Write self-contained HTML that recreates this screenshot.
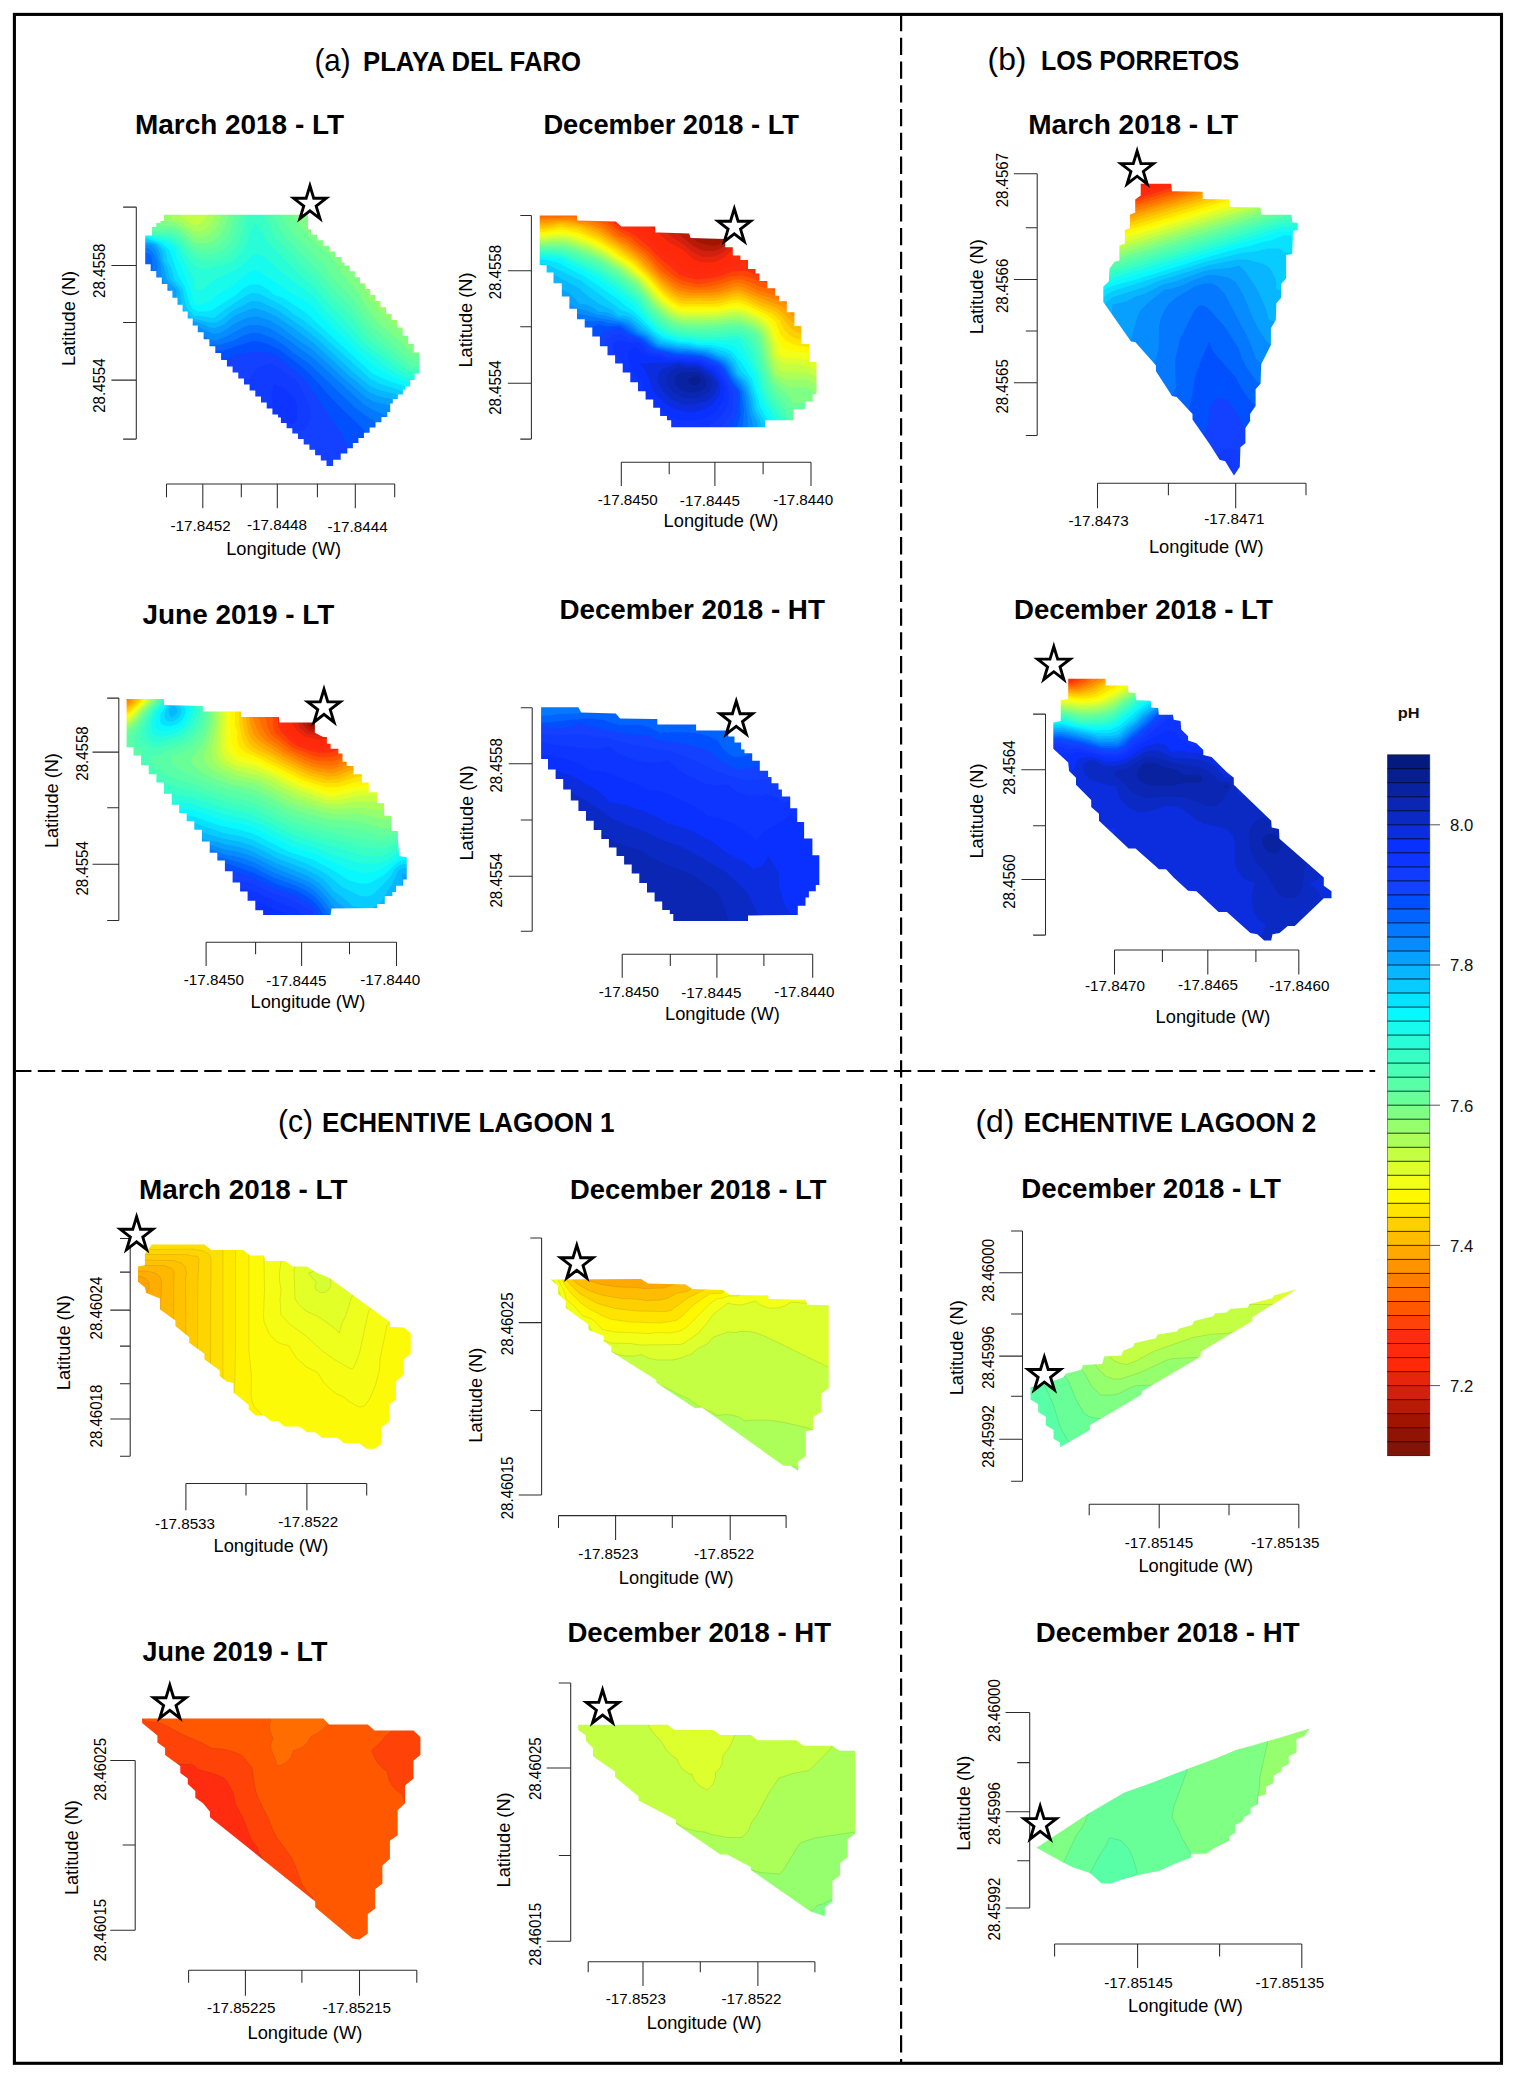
<!DOCTYPE html>
<html><head><meta charset="utf-8"><title>pH maps</title>
<style>html,body{margin:0;padding:0;background:#fff}svg{display:block}text{font-family:'Liberation Sans', Arial, Helvetica, sans-serif}</style>
</head><body>
<svg width="1517" height="2080" viewBox="0 0 1517 2080">
<defs>
<clipPath id="cA1"><path d="M167.4 214.8L308 214.8L308 229.2L311 229.2L311 234.8L317.1 234.8L317.1 240.3L323.2 240.3L323.2 245.8L329.3 245.8L329.3 251.4L335.4 251.4L335.4 256.9L341.5 256.9L341.5 262.4L344.5 262.4L344.5 265.4L349.7 265.4L349.7 271.3L354.8 271.3L354.8 277.3L360 277.3L360 283.2L365.1 283.2L365.1 289.1L370.3 289.1L370.3 295.1L375.4 295.1L375.4 301L380.5 301L380.5 304L380.5 307.2L386.1 307.2L386.1 313.7L391.6 313.7L391.6 320.1L397.2 320.1L397.2 323.3L397.2 327.5L402.7 327.5L402.7 335.8L408.2 335.8L408.2 344.1L413.8 344.1L413.8 352.4L419.3 352.4L419.3 356.6L419.3 370.4L419.3 373.6L414.7 373.6L414.7 380.1L410.1 380.1L410.1 386.6L405.5 386.6L405.5 389.8L402.9 389.8L402.9 394.4L397.8 394.4L397.8 399L392.8 399L392.8 403.6L390.2 403.6L390.2 411.9L387.3 411.9L387.3 417.1L381.4 417.1L381.4 422.3L375.5 422.3L375.5 427.5L369.6 427.5L369.6 432.7L366.7 432.7L363.9 432.7L363.9 437.9L358.4 437.9L358.4 443.1L352.9 443.1L352.9 448.3L347.3 448.3L347.3 453.5L344.5 453.5L340.7 453.5L340.7 459.7L333.1 459.7L333.1 465.9L329.3 465.9L326.5 465.9L326.5 460.5L320.8 460.5L320.8 455.2L315.1 455.2L315.1 449.8L309.4 449.8L309.4 444.4L303.7 444.4L303.7 439L298 439L298 433.6L292.3 433.6L292.3 428.2L286.6 428.2L286.6 422.9L280.9 422.9L280.9 417.5L278.1 417.5L278.1 414.5L272.4 414.5L272.4 408.5L266.7 408.5L266.7 402.5L261 402.5L261 396.5L255.3 396.5L255.3 390.5L249.6 390.5L249.6 384.5L244 384.5L244 378.5L238.3 378.5L238.3 372.5L232.6 372.5L232.6 366.5L226.9 366.5L226.9 363.5L226.9 360L221.1 360L221.1 353.1L215.3 353.1L215.3 346.2L209.4 346.2L209.4 339.3L203.6 339.3L203.6 332.3L197.8 332.3L197.8 328.9L197.8 325.4L192.7 325.4L192.7 318.5L187.7 318.5L187.7 311.6L182.6 311.6L182.6 304.7L177.5 304.7L177.5 297.7L172.4 297.7L172.4 290.8L167.4 290.8L167.4 287.4L167.4 284.1L161.8 284.1L161.8 277.5L156.3 277.5L156.3 270.9L150.7 270.9L150.7 264.3L145.2 264.3L145.2 261.1L145.2 241.7L145.2 235.4L152.1 235.4L152.1 229.2L152.1 227.1L156.3 227.1L156.3 223L160.4 223L160.4 220.9L163.9 220.9L163.9 214.8Z"/></clipPath>
<clipPath id="cA2"><path d="M539.7 215.4L577 215.4L577 220.4L615.8 221.5L621.3 226.4L651.8 226.4L655.3 226.4L655.3 232.5L658.7 232.5L689.2 233.4L690.6 238.1L725.2 238.9L725.2 247.2L732.8 247.2L732.8 255.5L740.4 255.5L740.4 260L748 260L748 269L755.6 269L755.6 273.5L759.5 273.5L759.5 280.9L767.4 280.9L767.4 288.3L775.2 288.3L775.2 295.7L779.2 295.7L779.2 301.2L786.8 301.2L786.8 312.3L794.4 312.3L794.4 317.8L794.4 326.1L801.3 326.1L801.3 334.4L801.3 344.1L809.6 344.1L809.6 353.8L809.6 362.1L816.5 362.1L816.5 370.4L816.5 393.9L812.7 393.9L812.7 401.6L805.1 401.6L805.1 409.2L801.3 409.2L793.7 409.2L793.7 420.3L786.1 420.3L765.3 420.3L765.3 427.2L744.5 427.2L675.3 427.2L671.2 427.2L671.2 420.3L667 420.3L667 416.1L660.1 416.1L660.1 407.8L653.2 407.8L653.2 403.6L653.2 399.5L645.6 399.5L645.6 391.2L638 391.2L638 387L638 382.2L630.3 382.2L630.3 372.5L622.7 372.5L622.7 367.6L622.7 363.5L615.1 363.5L615.1 355.2L607.5 355.2L607.5 351L607.5 346.2L599.9 346.2L599.9 336.5L592.3 336.5L592.3 331.7L592.3 327.5L584.7 327.5L584.7 319.2L577 319.2L577 315L577 308.8L569.4 308.8L569.4 296.4L561.8 296.4L561.8 290.1L561.8 283.2L553.5 283.2L553.5 276.3L553.5 272.5L546.6 272.5L546.6 264.9L539.7 264.9L539.7 261.1Z"/></clipPath>
<clipPath id="cA3"><path d="M126.6 699L164 699L164 705.1L202.7 705.9L203.3 711.4L240.9 711.4L241.5 717L278.9 717L279.4 722.5L314.9 722.5L314.9 732.7L323.2 736.9L326.9 736.9L326.9 743.8L330.6 743.8L330.6 748.7L338.4 748.7L338.4 753.5L342.5 753.5L342.5 761.8L346.7 761.8L346.7 766L353.6 766L353.6 770.1L353.6 774.3L361.9 774.3L361.9 778.4L361.9 782.6L368.8 782.6L368.8 786.7L368.8 792.3L377.2 792.3L377.2 797.8L377.2 803.3L384.1 803.3L384.1 808.9L384.1 815.8L391 815.8L391 822.7L391 831L397.9 831L397.9 839.3L399.3 856L406.8 857.3L406.8 879.5L403.2 879.5L403.2 885.7L396 885.7L396 891.9L392.4 891.9L392.4 896L384.8 896L384.8 904L377.2 904L377.2 908L331.5 908.6L330.6 914.9L263.1 914.9L263.1 910.2L255.3 910.2L255.3 900.8L247.6 900.8L247.6 896.1L247.6 891.6L240.1 891.6L240.1 882.6L232.6 882.6L232.6 878.1L232.6 871.2L224.9 871.2L224.9 864.3L224.9 860.5L217.3 860.5L217.3 852.8L209.7 852.8L209.7 849L209.7 841.4L201.9 841.4L201.9 833.8L201.9 829.7L194.3 829.7L194.3 821.3L186.7 821.3L186.7 817.2L186.7 813L179.2 813L179.2 804.7L171.7 804.7L171.7 800.6L171.7 793.7L164 793.7L164 786.7L164 782.6L156.4 782.6L156.4 774.3L148.7 774.3L148.7 770.1L148.7 765.3L141.1 765.3L141.1 755.6L133.5 755.6L133.5 750.7L133.5 747.3L126.6 747.3L126.6 743.8Z"/></clipPath>
<clipPath id="cA4"><path d="M541.1 707.3L578.4 707.3L581.2 712.5L615.8 713.4L620 718.4L653.2 718.9L657.3 718.9L657.3 724.4L661.5 724.4L691.9 724.4L696.1 724.4L696.1 730.5L700.3 730.5L725.2 730.5L728.3 730.5L728.3 736.5L734.5 736.5L734.5 742.4L737.6 742.4L741.1 742.4L741.1 749.4L744.5 749.4L744.5 753.2L752.2 753.2L752.2 760.8L759.8 760.8L759.8 764.6L759.8 770.8L768.1 770.8L768.1 777L771.5 777L771.5 783.3L778.5 783.3L778.5 789.5L781.9 789.5L781.9 796.4L790.2 796.4L790.2 803.3L790.2 808.2L797.2 808.2L797.2 813L797.2 822L804.1 822L804.1 831L804.1 838.6L812.4 838.6L812.4 846.3L812.4 855.3L819.3 855.3L819.3 864.3L819.3 885L815.8 885L815.8 891.3L808.9 891.3L808.9 897.5L805.5 897.5L805.5 905.8L797.8 905.8L797.8 914.9L790.2 914.9L751.5 915.5L748 915.5L748 921L744.5 921L676.7 921L673.3 921L673.3 914.1L669.8 914.1L669.8 909.9L662.2 909.9L662.2 901.6L654.6 901.6L654.6 897.5L654.6 892.6L647 892.6L647 882.9L639.3 882.9L639.3 878.1L639.3 873.6L631.7 873.6L631.7 864.6L624.1 864.6L624.1 860.1L624.1 856L616.5 856L616.5 847.6L608.9 847.6L608.9 843.5L608.9 839L601.3 839L601.3 830L593.7 830L593.7 825.5L593.7 820.7L586 820.7L586 811L578.4 811L578.4 806.1L578.4 800.6L570.8 800.6L570.8 789.5L563.2 789.5L563.2 784L563.2 779.1L555.6 779.1L555.6 769.4L548 769.4L548 764.6L548 759.1L541.1 759.1L541.1 753.5Z"/></clipPath>
<clipPath id="cB1"><path d="M1140.7 183.7L1171.2 183.7L1172 191.2L1202.5 191.8L1203 199L1229.3 199.5L1229.9 207L1260.6 207.6L1261.2 214.8L1291.6 214.8L1292.2 222.2L1297.7 223.1L1297.7 230L1293 230.8L1292.2 254.1L1286.1 254.9L1286.1 278.4L1281.1 284L1281.1 297.8L1276.4 303.3L1275.8 320L1270.9 328.3L1270.9 344.9L1261.2 364.3L1260.6 383.6L1255.6 389.2L1255.6 405.8L1250.1 414.1L1250.1 421L1245.4 427.9L1245.4 443.2L1240.4 447.3L1239.8 466.7L1234 475.6L1229.3 468.1L1225.2 461.2L1219.6 459.8L1209.9 444.5L1192.5 419.6L1192.5 414.1L1176.7 396.9L1172 396.1L1156 371.2L1156 365.6L1135.2 342.1L1131 341.6L1103.3 302L1103.3 286.7L1108.9 281.2L1109.4 268.7L1114.4 261.8L1119.4 260.4L1119.4 245.2L1124.9 243.8L1124.9 230L1129.9 228.6L1129.9 214.8L1135.2 212.5L1135.2 199.5L1140.7 195.4Z"/></clipPath>
<clipPath id="cB2"><path d="M1068.2 678.7L1105.6 678.7L1105.6 685.6L1127.7 685.6L1128.6 692.5L1135.5 693.1L1136.1 700.3L1150.7 700.8L1151.3 707.5L1158.2 708L1158.8 714.7L1172.9 714.7L1173.7 719.7L1180.6 721.1L1181.2 729.4L1188.1 736.3L1188.1 740.4L1196.4 743.2L1203.3 750.1L1203.3 755.1L1211.6 757L1226.9 772.3L1233.8 777.8L1233.8 784.7L1271.2 820.7L1271.7 827.6L1278.9 829L1279.5 838.7L1323.8 877.5L1323.8 885.8L1331.5 891.3L1331.5 898.2L1323.8 898.2L1294.7 925.9L1287.8 925.9L1279.5 932.9L1272.5 934.2L1271.2 940.6L1264.2 940.6L1257.3 934.2L1250.4 932.9L1226.9 912.1L1218.6 912.1L1196.4 891.3L1188.1 890.8L1173.7 877.5L1166 869.2L1159 869.2L1135.5 848.4L1128.6 848.4L1099 820.7L1099 813.8L1091.2 806.9L1091.2 800L1076 784.7L1076 777.8L1069.1 770.9L1068.2 762.6L1053.3 748.7L1053.3 722.4L1060.7 721.1L1060.7 700.3L1068.2 698.9Z"/></clipPath>
<clipPath id="cC1"><path d="M151.8 1244.4L204.4 1244.4L211.3 1250L243.2 1250L250.1 1255.5L263.9 1255.5L265.3 1261.1L284.7 1261.1L293 1266.6L306.9 1266.6L315.2 1272.1L329 1277.7L389.9 1322L389.9 1326.9L403.8 1327.5L410.7 1333L410.7 1353.8L403.8 1359.3L403.8 1374.6L396 1381.5L396 1399.5L389.1 1405L389.1 1421.6L381.6 1427.2L381.6 1443.8L374.7 1448.8L366.4 1448.8L359.5 1443.2L344.2 1443.2L337.3 1437.7L322.1 1437.7L315.2 1432.2L306.9 1432.2L299.9 1426.6L284.7 1426.6L277.8 1421.1L270.9 1421.1L263.9 1415.5L255.6 1415.5L248.7 1409.2L248.7 1405L233.5 1392.6L233.5 1382.9L226.6 1381.5L219.7 1376L219.7 1370.4L204.4 1359.3L204.4 1353.8L189.2 1342.7L189.2 1337.2L175.4 1326.1L175.4 1320.6L160.1 1309.5L160.1 1298.4L146.3 1292.9L144.9 1287.4L138 1281.8L138 1266.6L144.9 1265.2L144.9 1254.1Z"/></clipPath>
<clipPath id="cC2"><path d="M550.5 1279.5L641 1278.9L648 1283.6L685.3 1284.4L692.3 1289.1L722.7 1290L729.6 1294.7L768.4 1295.5L768.4 1299.1L805.8 1299.7L807.2 1304.7L828.7 1305.2L828.7 1388.3L821 1393.8L821 1411.8L813.2 1417.3L813.2 1429.8L805.8 1431.2L805.8 1456.1L798.3 1461.6L798.3 1470.8L790.5 1465.8L783.6 1465.8L701.9 1407.6L695 1408.2L656.3 1382.7L656.3 1380L611.4 1351.7L611.4 1346.7L603.7 1341.2L603.7 1335.7L588.4 1330.1L588.4 1324.6L565.7 1308L565.7 1301.1L558 1294.1L558 1285.8Z"/></clipPath>
<clipPath id="cC3"><path d="M142.1 1718.4L323.5 1718.4L329 1724.4L367.8 1724.4L374.7 1730.5L413.5 1730.5L420.4 1736.9L420.4 1754.9L413.5 1760.4L413.5 1778.4L405.1 1785.4L405.1 1803.3L397.7 1810.3L397.7 1835.2L389.9 1840.7L389.9 1858.7L382.4 1865.6L382.4 1883.6L375.2 1889.2L375.2 1908.6L367.8 1914.1L367.8 1933.5L359.5 1939.6L352.5 1938.5L315.2 1907.2L315.2 1901.6L210 1817.2L210 1811.7L203 1803.3L195.3 1797.8L195.3 1790.9L187.8 1784L187.8 1778.4L180.3 1772.9L180.3 1766L172.6 1760.4L165.1 1754.9L165.1 1748L157.4 1742.4L157.4 1735.5L142.1 1723.1Z"/></clipPath>
<clipPath id="cC4"><path d="M578.2 1724.7L667.6 1724.7L674.6 1730L713.3 1730L720.3 1735L750.7 1735L757.6 1740.2L796.4 1740.2L803.3 1745.8L832.4 1745.8L839.3 1750.7L855.1 1750.7L855.1 1833.8L847.6 1839.3L847.6 1857.3L840.1 1862.9L840.1 1875.3L832.4 1880.9L832.4 1901.6L824.9 1907.2L824.9 1916.3L810.2 1911.3L750.7 1869.8L750.7 1867L727.2 1854.6L720.3 1854.6L676 1824.1L676 1820L638.6 1800.6L638.6 1796.4L615 1777L615 1771.5L592.9 1756.3L592.9 1748L586 1741.1L586 1735.5L578.2 1730Z"/></clipPath>
<clipPath id="cD1"><path d="M1030.5 1387.1L1030.5 1399.5L1038.2 1404.3L1038.2 1411.9L1045.8 1416.7L1045.8 1425.3L1053.5 1430.1L1053.5 1438.7L1060.1 1442.5L1060.1 1447.3L1089.8 1430.1L1089.8 1425.3L1141.4 1394.7L1142.3 1390.9L1200.7 1356.5L1200.7 1351.7L1252.3 1321.1L1252.3 1317.3L1296.2 1289.6L1274.3 1295.3L1272.3 1298.2L1249.4 1303.9L1247.5 1307.7L1230.3 1308.7L1226.5 1312.5L1215 1313.5L1213.1 1316.3L1194 1321.1L1192.1 1324.9L1178.7 1328.7L1176.8 1331.6L1157.6 1334.5L1155.7 1338.3L1134.7 1343.1L1132.8 1346.9L1123.2 1350.7L1121.3 1355.5L1104.1 1356.5L1102.2 1364.1L1083.1 1365.1L1081.2 1369.8L1065.9 1373.7L1063 1377.5L1046.8 1383.2L1039.1 1386.1Z"/></clipPath>
<clipPath id="cD2"><path d="M1036.5 1847.7L1088.1 1813.7L1124.4 1792.6L1151.2 1783.1L1170.3 1775.4L1193.2 1766.8L1216.2 1758.2L1237.2 1749.6L1254.4 1744.9L1267.8 1741L1281.2 1737.2L1296.5 1732.4L1309.8 1728.6L1304.1 1736.2L1296.5 1739.1L1296.5 1752.5L1288.8 1756.3L1288.8 1764L1281.2 1767.8L1281.2 1771.6L1273.5 1775.4L1273.5 1783.1L1265.9 1786.9L1265.9 1794.6L1258.2 1796.5L1258.2 1804.1L1250.6 1807.9L1250.6 1813.7L1242.9 1817.5L1242.9 1821.3L1235.3 1825.1L1235.3 1832.8L1229.5 1836.6L1229.5 1840.4L1214.3 1848.1L1206.6 1853.8L1191.3 1853.8L1191.3 1857.6L1177.9 1862.4L1158.8 1871L1139.7 1874.8L1124.4 1878.7L1111 1883.4L1101.5 1883.4L1090 1872.9L1072.8 1867.2L1063.2 1862.4Z"/></clipPath>
</defs>
<g clip-path="url(#cA1)"><g opacity=".999">
<rect x="143" y="212" width="279" height="256" fill="#c4ff43"/>
<path fill="#acff58" d="M160.5 212L160.5 217L157 217.5L156.5 219.5L153 219.5L152.5 224L149 224L149 231.5L143 232L143 267L147.5 267.5L147.5 273.5L153 274L153 280L158.5 280.5L158.5 287L164 287.5L164 293.5L169 294L169 300.5L174.5 301L174.5 307.5L179.5 308L179.5 314.5L184.5 315L184.5 321.5L189 321.5L189.5 328L194.5 328.5L194.5 335L200.5 335.5L200.5 342L206 342.5L206 349L212 349.5L212 356L218 356.5L218 363L223.5 363.5L223.5 369L229.5 369.5L229.5 375L235 375.5L235 381L240.5 381.5L240.5 387L246.5 387.5L246.5 393L252 393.5L252 399L258 399.5L258 405L263.5 405.5L263.5 411L269 411.5L269 417L274.5 417L275 420L277.5 420.5L277.5 425.5L283 425.5L283.5 431L288.5 431L289 436.5L294.5 436.5L295 442L300 442L300.5 447L305.5 447L306 452.5L311.5 452.5L312 458L317 458L317.5 463.5L322.5 463.5L323 468L336 468L336.5 462.5L343.5 462.5L344 456L350 456L350 451.5L355.5 451L356 446L361 446L361 441L366.5 440.5L367 435.5L372.5 435.5L372.5 431L378.5 430.5L378.5 425.5L384 425L384.5 420L390 420L390 415L393 414.5L393 407L395.5 406.5L395.5 402.5L400.5 402L400.5 397.5L405.5 397L405.5 393L408 392.5L408.5 389.5L413 389.5L413 383.5L417.5 383L417.5 377L422 376.5L422 349L417 349L416.5 341L411 340.5L411 332.5L405.5 332L405.5 324.5L400 324L400 317L394.5 316.5L394.5 310.5L389.5 310.5L389 304L384 304L383.5 298L378 297.5L378 292L373 291.5L373 286L368 285.5L368 280L362.5 279.5L362.5 274L357.5 273.5L357.5 268L352.5 267.5L352.5 262L348 262L347.5 259L344.5 258.5L344.5 253.5L338.5 253.5L338 248L332.5 248L332 242.5L326.5 242.5L326 237L320.5 237L320 231.5L314 231L314 226L311 225.5L311 212L207.5 212L206 217L203.5 221L197.5 225L194.5 225L191 223.5L175.5 212Z"/>
<path fill="#95ff6d" d="M160.5 212L160.5 217L157 217.5L156.5 219.5L153 219.5L152.5 224L149 224L149 231.5L143 232L143 267L147.5 267.5L147.5 273.5L153 274L153 280L158.5 280.5L158.5 287L164 287.5L164 293.5L169 294L169 300.5L174.5 301L174.5 307.5L179.5 308L179.5 314.5L184.5 315L184.5 321.5L189 321.5L189.5 328L194.5 328.5L194.5 335L200.5 335.5L200.5 342L206 342.5L206 349L212 349.5L212 356L218 356.5L218 363L223.5 363.5L223.5 369L229.5 369.5L229.5 375L235 375.5L235 381L240.5 381.5L240.5 387L246.5 387.5L246.5 393L252 393.5L252 399L258 399.5L258 405L263.5 405.5L263.5 411L269 411.5L269 417L274.5 417L275 420L277.5 420.5L277.5 425.5L283 425.5L283.5 431L288.5 431L289 436.5L294.5 436.5L295 442L300 442L300.5 447L305.5 447L306 452.5L311.5 452.5L312 458L317 458L317.5 463.5L322.5 463.5L323 468L336 468L336.5 462.5L343.5 462.5L344 456L350 456L350 451.5L355.5 451L356 446L361 446L361 441L366.5 440.5L367 435.5L372.5 435.5L372.5 431L378.5 430.5L378.5 425.5L384 425L384.5 420L390 420L390 415L393 414.5L393 407L395.5 406.5L395.5 402.5L400.5 402L400.5 397.5L405.5 397L405.5 393L408 392.5L408.5 389.5L413 389.5L413 383.5L417.5 383L417.5 377L422 376.5L422 349L417 349L416.5 341L411 340.5L411 332.5L405.5 332L405.5 324.5L400 324L400 317L394.5 316.5L394.5 310.5L389.5 310.5L389 304L384 304L383.5 298L378 297.5L378 292L373 291.5L373 286L368 285.5L368 280L362.5 279.5L362.5 274L357.5 273.5L357.5 268L352.5 267.5L352.5 262L348 262L347.5 259L344.5 258.5L344.5 253.5L338.5 253.5L338 248L332.5 248L332 242.5L326.5 242.5L326 237L320.5 237L320 231.5L314 231L314 226L311 225.5L311 212L216 212L214.5 217L210 225L204.5 230L199 232L193 231L181.5 222.5L171.5 218L165.5 212Z"/>
<path fill="#7fff83" d="M153 219.5L153 223.5L149 224L149 231.5L143 232L143 267L147.5 267.5L147.5 273.5L153 274L153 280L158.5 280.5L158.5 287L164 287.5L164 293.5L169 294L169 300.5L174.5 301L174.5 307.5L179.5 308L179.5 314.5L184.5 315L184.5 321.5L189 321.5L189.5 328L194.5 328.5L194.5 335L200.5 335.5L200.5 342L206 342.5L206 349L211.5 349L212 356L218 356.5L218 363L223 363L223.5 369L229 369L229.5 375L235 375.5L235 381L240.5 381.5L240.5 387L246 387L246.5 393L252 393.5L252 399L257.5 399L258 405L263.5 405.5L263.5 411L269 411.5L269 417L274.5 417L275 420L277.5 420.5L277.5 425.5L283 425.5L283.5 431L288.5 431L289 436.5L294.5 436.5L295 442L300 442L300.5 447L305.5 447L306 452.5L311.5 452.5L312 458L317 458L317.5 463.5L322.5 463.5L323 468L336 468L336.5 462.5L343.5 462.5L344 456L350 456L350 451.5L355.5 451L356 446L361 446L361 441L366.5 440.5L367 435.5L372.5 435.5L372.5 431L378.5 430.5L378.5 425.5L384 425L384.5 420L390 420L390 415L393 414.5L393 407L395.5 406.5L395.5 402.5L400.5 402L400.5 397.5L405.5 397L405.5 393L408 392.5L408.5 389.5L413 389.5L413 383.5L417.5 383L417.5 377L422 376.5L422 349L416.5 348.5L416.5 341L411.5 341L411 337L392 324L377.5 309L369 298.5L359.5 279.5L347.5 261.5L347 259.5L344.5 258.5L344.5 256L343 253.5L338 253L338 248L332.5 248L332 242.5L326.5 242.5L326 237L320.5 237L320 231.5L314 231L314 226L311 225.5L311 217.5L307 212L223 212L219.5 222.5L215.5 229.5L209 235.5L201.5 238L196 237.5L180 226L175 223.5L165 220.5L160.5 217.5L157 217.5L156.5 219.5Z"/>
<path fill="#68ff98" d="M153 219.5L153 223.5L149 224L149 231.5L143 232L143 267L147.5 267.5L147.5 273.5L153 274L153 280L158.5 280.5L158.5 287L164 287.5L164 293.5L169 294L169 300.5L174.5 301L174.5 307.5L179.5 308L179.5 314.5L184.5 315L184.5 321.5L189 321.5L189.5 328L194.5 328.5L194.5 335L200.5 335.5L200.5 342L206 342.5L206 349L211.5 349L212 356L218 356.5L218 363L223 363L223.5 369L229 369L229.5 375L235 375.5L235 381L240.5 381.5L240.5 387L246 387L246.5 393L252 393.5L252 399L257.5 399L258 405L263.5 405.5L263.5 411L269 411.5L269 417L274.5 417L275 420L277.5 420.5L277.5 425.5L283 425.5L283.5 431L288.5 431L289 436.5L294.5 436.5L295 442L300 442L300.5 447L305.5 447L306 452.5L311.5 452.5L312 458L317 458L317.5 463.5L322.5 463.5L323 468L336 468L336.5 462.5L343.5 462.5L344 456L350 456L350 451.5L355.5 451L356 446L361 446L361 441L366.5 440.5L367 435.5L372.5 435.5L372.5 431L378.5 430.5L378.5 425.5L384 425L384.5 420L390 420L390 415L393 414.5L393 407L395.5 406.5L395.5 402.5L400.5 402L400.5 397.5L405.5 397L405.5 393L408 392.5L408.5 389.5L413 389.5L413 383.5L417.5 383L417.5 377L422 376.5L422 353.5L412 353.5L399 340L383.5 327.5L374.5 318.5L355.5 290L340.5 271.5L333 259L324.5 250.5L312.5 240.5L294.5 219L291 212L230 212L224.5 227.5L220 235L213.5 241L206.5 243.5L194.5 243L184.5 233.5L175 227L158 224.5L154 219.5Z"/>
<path fill="#58ffa7" d="M149 224L149 231.5L143 232L143 267L147.5 267.5L147.5 273.5L152.5 273.5L153 280L158.5 280.5L158.5 287L164 287.5L164 293.5L169 294L169 300.5L174 300.5L174.5 307.5L179.5 308L179.5 314.5L184.5 315L184.5 321.5L189 321.5L189.5 328L194.5 328.5L194.5 335L200 335L200.5 342L206 342.5L206 349L211.5 349L212 356L218 356.5L218 363L223 363L223.5 369L229 369L229.5 375L235 375.5L235 381L240.5 381.5L240.5 387L246 387L246.5 393L252 393.5L252 399L257.5 399L258 405L263.5 405.5L263.5 411L269 411.5L269 417L274.5 417L275 420L277.5 420.5L277.5 425.5L283 425.5L283.5 431L288.5 431L289 436.5L294.5 436.5L295 442L300 442L300.5 447L305.5 447L306 452.5L311.5 452.5L312 458L317 458L317.5 463.5L322.5 463.5L323 468L336 468L336.5 462.5L343.5 462.5L344 456L350 456L350 451.5L355.5 451L356 446L361 446L361 441L366.5 440.5L367 435.5L372.5 435.5L372.5 431L378.5 430.5L378.5 425.5L384 425L384.5 420L390 420L390 415L393 414.5L393 407L395.5 406.5L395.5 402.5L400.5 402L400.5 397.5L405.5 397L405.5 393L408 392.5L408.5 389.5L413 389.5L413 383.5L417.5 383L417.5 377L422 376.5L422 361.5L415.5 361.5L408.5 358.5L373.5 327.5L366 318L352.5 298L332 277.5L325 266L298.5 239L292.5 234L280 212L236.5 212L233 220L231 229.5L226.5 237.5L218 246L209.5 249L201.5 249L193.5 246.5L181.5 235L173 230L164.5 229L155 231L151.5 224.5Z"/>
<path fill="#48ffb5" d="M149 226.5L148.5 232L143 232L143 267L147.5 267.5L147.5 273.5L152.5 273.5L153 280L158.5 280.5L158.5 287L164 287.5L164 293.5L169 294L169 300.5L174 300.5L174.5 307.5L179.5 308L179.5 314.5L184.5 315L184.5 321.5L189 321.5L189.5 328L194.5 328.5L194.5 335L200 335L200.5 342L206 342.5L206 349L211.5 349L212 356L218 356.5L218 363L223 363L223.5 369L229 369L229.5 375L235 375.5L235 381L240.5 381.5L240.5 387L246 387L246.5 393L252 393.5L252 399L257.5 399L258 405L263.5 405.5L263.5 411L269 411.5L269 417L274.5 417L275 420L277.5 420.5L277.5 425.5L283 425.5L283.5 431L288.5 431L289 436.5L294.5 436.5L295 442L300 442L300.5 447L305.5 447L306 452.5L311.5 452.5L312 458L317 458L317.5 463.5L322.5 463.5L323 468L336 468L336.5 462.5L343.5 462.5L344 456L350 456L350 451.5L355.5 451L356 446L361 446L361 441L366.5 440.5L367 435.5L372.5 435.5L372.5 431L378.5 430.5L378.5 425.5L384 425L384.5 420L390 420L390 415L393 414.5L393 407L395.5 406.5L395.5 402.5L400.5 402L400.5 397.5L405.5 397L405.5 393L408 392.5L408.5 389.5L413 389.5L413 383.5L417.5 383L417.5 377L422 376.5L422 367.5L411 367L391 350L371.5 335L350.5 306.5L331 286.5L319 271.5L286.5 238.5L280.5 230L276 221L270 212L243.5 212L239.5 219L236 234L231 243L222.5 250.5L211 254.5L202.5 254.5L197.5 253L189 247.5L182.5 240L176 234.5L170 232.5L154.5 232.5Z"/>
<path fill="#38ffc4" d="M143 232L143 267L147.5 267.5L147.5 273.5L152.5 273.5L153 280L158.5 280.5L158.5 287L164 287.5L164 293.5L169 294L169 300.5L174 300.5L174.5 307.5L179.5 308L179.5 314.5L184.5 315L184.5 321.5L189 321.5L189.5 328L194.5 328.5L194.5 335L200 335L200.5 342L206 342.5L206 349L211.5 349L212 356L218 356.5L218 363L223 363L223.5 369L229 369L229.5 375L235 375.5L235 381L240.5 381.5L240.5 387L246 387L246.5 393L252 393.5L252 399L257.5 399L258 405L263.5 405.5L263.5 411L269 411.5L269 417L274.5 417L275 420L277.5 420.5L277.5 425.5L283 425.5L283.5 431L288.5 431L289 436.5L294.5 436.5L295 442L300 442L300.5 447L305.5 447L306 452.5L311.5 452.5L312 458L317 458L317.5 463.5L322.5 463.5L323 468L336 468L336.5 462.5L343.5 462.5L344 456L350 456L350 451.5L355.5 451L356 446L361 446L361 441L366.5 440.5L367 435.5L372.5 435.5L372.5 431L378.5 430.5L378.5 425.5L384 425L384.5 420L390 420L390 415L393 414.5L393 407L395.5 406.5L395.5 402.5L400.5 402L400.5 397.5L405.5 397L405.5 393L408 392.5L408.5 389.5L413 389.5L413 383.5L417.5 383L417.5 377L422 376.5L422 373L412 371.5L403.5 367L372 342.5L364 334.5L353 318.5L331 296.5L315.5 278L301 264.5L294 255.5L288.5 251L274.5 236.5L266.5 220L261 213.5L258 212L252 212L250 213L246 218.5L242 235L237 246.5L231.5 252.5L226.5 256L219 259L212 260.5L204.5 261L196 258L190.5 254L182.5 244.5L174 236.5L167.5 235L156 234.5L152 233L149 230.5L148.5 232Z"/>
<path fill="#28fdd8" d="M143 232L143 267L147.5 267.5L147.5 273.5L152.5 273.5L153 280L158.5 280.5L158.5 287L164 287.5L164 293.5L169 294L169 300.5L174 300.5L174.5 307.5L179.5 308L179.5 314.5L184.5 315L184.5 321.5L189 321.5L189.5 328L194.5 328.5L194.5 335L200 335L200.5 342L206 342.5L206 349L211.5 349L212 356L218 356.5L218 363L223 363L223.5 369L229 369L229.5 375L235 375.5L235 381L240.5 381.5L240.5 387L246 387L246.5 393L252 393.5L252 399L257.5 399L258 405L263.5 405.5L263.5 411L269 411.5L269 417L274.5 417L275 420L277.5 420.5L277.5 425.5L283 425.5L283.5 431L288.5 431L289 436.5L294.5 436.5L295 442L300 442L300.5 447L305.5 447L306 452.5L311.5 452.5L312 458L317 458L317.5 463.5L322.5 463.5L323 468L336 468L336.5 462.5L343.5 462.5L344 456L350 456L350 451.5L355.5 451L356 446L361 446L361 441L366.5 440.5L367 435.5L372.5 435.5L372.5 431L378.5 430.5L378.5 425.5L384 425L384.5 420L390 420L390 415L393 414.5L393 407L395.5 406.5L395.5 402.5L400.5 402L400.5 397.5L405.5 397L405.5 393L408 392.5L408.5 389.5L413 389.5L413 383.5L417.5 383L418 376.5L407.5 374L400 370L368 346L359 337L349 324.5L327.5 302.5L317 290L300 275L268 242.5L261 230L256 223.5L254 224L249.5 232.5L248 240.5L245.5 247L236 259L225 265L212.5 267L206.5 269L200 268.5L194.5 265L187 257L179 245L173.5 240L166.5 237.5L155.5 236L148 232Z"/>
<path fill="#18faeb" d="M143 232L143 267L147.5 267.5L147.5 273.5L152.5 273.5L153 280L158.5 280.5L158.5 287L164 287.5L164 293.5L169 294L169 300.5L174 300.5L174.5 307.5L179.5 308L179.5 314.5L184.5 315L184.5 321.5L189 321.5L189.5 328L194.5 328.5L194.5 335L200 335L200.5 342L206 342.5L206 349L211.5 349L212 356L218 356.5L218 363L223 363L223.5 369L229 369L229.5 375L235 375.5L235 381L240.5 381.5L240.5 387L246 387L246.5 393L252 393.5L252 399L257.5 399L258 405L263.5 405.5L263.5 411L269 411.5L269 417L274.5 417L275 420L277.5 420.5L277.5 425.5L283 425.5L283.5 431L288.5 431L289 436.5L294.5 436.5L295 442L300 442L300.5 447L305.5 447L306 452.5L311.5 452.5L312 458L317 458L317.5 463.5L322.5 463.5L323 468L336 468L336.5 462.5L343.5 462.5L344 456L350 456L350 451.5L355.5 451L356 446L361 446L361 441L366.5 440.5L367 435.5L372.5 435.5L372.5 431L378.5 430.5L378.5 425.5L384 425L384.5 420L390 420L390 415L393 414.5L393 407L395.5 406.5L395.5 402.5L400.5 402L400.5 397.5L405.5 397L405.5 393L408 392.5L408.5 389.5L413 389.5L413 383.5L417.5 383L417.5 381L404.5 377L393.5 371.5L382.5 364.5L372.5 355.5L363 349L323.5 308.5L314 296.5L281.5 272.5L265 257L259.5 254.5L254 254.5L243.5 264L234.5 270.5L215.5 279L203.5 289L201.5 290L197.5 290L194 288L194.5 281L193.5 278L176.5 246.5L168.5 241L153.5 237L144.5 232Z"/>
<path fill="#08f8ff" d="M143 234L143 267L147.5 267.5L147.5 273.5L153 274L153 280L158.5 280.5L158.5 287L164 287.5L164 293.5L169 294L169 300.5L174.5 301L174.5 307.5L179.5 308L179.5 314.5L184.5 315L184.5 321.5L189 321.5L189.5 328L194.5 328.5L194.5 335L200.5 335.5L200.5 342L206 342.5L206 349L212 349.5L212 356L218 356.5L218 363L223.5 363.5L223.5 369L229 369L229.5 375L235 375.5L235 381L240.5 381.5L240.5 387L246 387L246.5 393L252 393.5L252 399L257.5 399L258 405L263.5 405.5L263.5 411L269 411.5L269 417L274.5 417L275 420L277.5 420.5L277.5 425.5L283 425.5L283.5 431L288.5 431L289 436.5L294.5 436.5L295 442L300 442L300.5 447L305.5 447L306 452.5L311.5 452.5L312 458L317 458L317.5 463.5L322.5 463.5L323 468L336 468L336.5 462.5L343.5 462.5L344 456L350 456L350 451.5L355.5 451L356 446L361 446L361 441L366.5 440.5L367 435.5L372.5 435.5L372.5 431L378.5 430.5L378.5 425.5L384 425L384.5 420L390 420L390 415L393 414.5L393 407L395.5 406.5L395.5 402.5L400.5 402L400.5 397.5L405.5 397L405.5 393L408 392.5L408.5 389.5L413 389.5L413 383.5L403 381L394 377.5L383 372L374.5 366.5L357.5 352L330 325.5L308.5 303L293.5 294.5L259 271.5L253.5 270.5L245.5 275L230 287.5L219.5 293.5L208 302.5L202.5 304.5L195 304.5L194 303.5L193.5 299.5L187.5 281.5L177 258L174.5 248.5L164.5 242L154.5 239Z"/>
<path fill="#08e2ff" d="M143 236L143 267L147.5 267.5L147.5 273.5L153 274L153 280L158.5 280.5L158.5 287L164 287.5L164 293.5L169 294L169 300.5L174.5 301L174.5 307.5L179.5 308L179.5 314.5L184.5 315L184.5 321.5L189 321.5L189.5 328L194.5 328.5L194.5 335L200.5 335.5L200.5 342L206 342.5L206 349L212 349.5L212 356L218 356.5L218 363L223.5 363.5L223.5 369L229 369L229.5 375L235 375.5L235 381L240.5 381.5L240.5 387L246 387L246.5 393L252 393.5L252 399L257.5 399L258 405L263.5 405.5L263.5 411L269 411.5L269 417L274.5 417L275 420L277.5 420.5L277.5 425.5L283 425.5L283.5 431L288.5 431L289 436.5L294.5 436.5L295 442L300 442L300.5 447L305.5 447L306 452.5L311.5 452.5L312 458L317 458L317.5 463.5L322.5 463.5L323 468L336 468L336.5 462.5L343.5 462.5L344 456L350 456L350 451.5L355.5 451L356 446L361 446L361 441L366.5 440.5L367 435.5L372.5 435.5L372.5 431L378.5 430.5L378.5 425.5L384 425L384.5 420L390 420L390 415L393 414.5L393 407L395.5 406.5L395.5 402.5L400.5 402L400.5 397.5L405.5 397L405.5 393L408 392.5L408.5 389.5L413 389.5L413 388L411.5 387L404 386L390 381.5L372.5 373.5L305 312L283.5 298L273.5 294.5L269.5 290.5L261.5 285.5L258 284.5L251.5 284.5L248.5 285.5L242 289.5L236 295L211.5 310.5L206.5 311.5L198 311.5L194.5 310L192 308L189.5 304L185 287L178 275L169.5 250L161.5 243Z"/>
<path fill="#08ccff" d="M143 238.5L143 267L147.5 267.5L147.5 273.5L153 274L153 280L158.5 280.5L158.5 287L164 287.5L164 293.5L169 294L169 300.5L174.5 301L174.5 307.5L179.5 308L179.5 314.5L184.5 315L184.5 321.5L189 321.5L189.5 328L194.5 328.5L194.5 335L200.5 335.5L200.5 342L206 342.5L206 349L212 349.5L212 356L218 356.5L218 363L223.5 363.5L223.5 369L229 369L229.5 375L235 375.5L235 381L240.5 381.5L240.5 387L246 387L246.5 393L252 393.5L252 399L257.5 399L258 405L263.5 405.5L263.5 411L269 411.5L269 417L274.5 417L275 420L277.5 420.5L277.5 425.5L283 425.5L283.5 431L288.5 431L289 436.5L294.5 436.5L295 442L300 442L300.5 447L305.5 447L306 452.5L311.5 452.5L312 458L317 458L317.5 463.5L322.5 463.5L323 468L336 468L336.5 462.5L343.5 462.5L344 456L350 456L350 451.5L355.5 451L356 446L361 446L361 441L366.5 440.5L367 435.5L372.5 435.5L372.5 431L378.5 430.5L378.5 425.5L384 425L384.5 420L390 420L390 415L393 414.5L393 407L395.5 406.5L395.5 402.5L400.5 402L401 397L405.5 397L405.5 393L407.5 392.5L380.5 384L370.5 379L320.5 334L302 319L293 314L287.5 309L280.5 304.5L259 293.5L251.5 293L247 295L225.5 309L214 318L200.5 316L194.5 316L188.5 310L186 305.5L183 291.5L181 286.5L174 279.5L171.5 268.5L167 260L166.5 253.5L165 250L158 243L148.5 239.5Z"/>
<path fill="#08b6ff" d="M143 240.5L143 267L147.5 267.5L147.5 273.5L153 274L153 280L158.5 280.5L158.5 287L164 287.5L164 293.5L169 294L169 300.5L174.5 301L174.5 307.5L179.5 308L179.5 314.5L184.5 315L184.5 321.5L189 321.5L189.5 328L194.5 328.5L194.5 335L200.5 335.5L200.5 342L206 342.5L206 349L212 349.5L212 356L218 356.5L218 363L223.5 363.5L223.5 369L229 369L229.5 375L235 375.5L235 381L240.5 381.5L240.5 387L246 387L246.5 393L252 393.5L252 399L257.5 399L258 405L263.5 405.5L263.5 411L269 411.5L269 417L274.5 417L275 420L277.5 420.5L277.5 425.5L283 425.5L283.5 431L288.5 431L289 436.5L294.5 436.5L295 442L300 442L300.5 447L305.5 447L306 452.5L311.5 452.5L312 458L317 458L317.5 463.5L322.5 463.5L323 468L336 468L336.5 462.5L343.5 462.5L344 456L350 456L350 451.5L355.5 451L356 446L361 446L361 441L366.5 440.5L367 435.5L372.5 435.5L372.5 431L378.5 430.5L378.5 425.5L384 425L384.5 420L390 420L390 415L393 414.5L393 407L395.5 406.5L396 402L400.5 402L400.5 397.5L402.5 397L397 394.5L378 389.5L371 386.5L352.5 371.5L317.5 339L299.5 325L276.5 309.5L262 302.5L257.5 301L251.5 301L233 310.5L222.5 319L216 322.5L209.5 322.5L195 319L190.5 317L185 311.5L182 306L179.5 290.5L178 287.5L171.5 281L170 278L167 267L163.5 261L163 253.5L161 249L156.5 244L154.5 243Z"/>
<path fill="#08a0ff" d="M179.5 310L179.5 314.5L182.5 314.5ZM184.5 316.5L184.5 321.5L189.5 322L189.5 328L194.5 328.5L194.5 335L200 335L200.5 342L206 342.5L206 349L211.5 349L212 356L218 356.5L218 363L223 363L223.5 369L229 369L229.5 375L235 375.5L235 381L240.5 381.5L240.5 387L246 387L246.5 393L252 393.5L252 399L257.5 399L258 405L263.5 405.5L263.5 411L269 411.5L269 417L274.5 417L275 420L277.5 420.5L277.5 425.5L283 425.5L283.5 431L288.5 431L289 436.5L294.5 436.5L295 442L300 442L300.5 447L305.5 447L306 452.5L311.5 452.5L312 458L317 458L317.5 463.5L322.5 463.5L323 468L336 468L336.5 462.5L343.5 462.5L344 456L350 456L350 451.5L355.5 451L356 446L361 446L361 441L366.5 440.5L367 435.5L372.5 435.5L372.5 431L378.5 430.5L378.5 425.5L384 425L384.5 420L390 420L390 415L393 414.5L393 407L395.5 406.5L396 402L398.5 402L394.5 399.5L378 396L369 392L349 375.5L315.5 344.5L293 327.5L276.5 316.5L263.5 310.5L254.5 308L250 309L234 316L224 324.5L215 328L210 327.5L199 322.5L191 320.5ZM143 243L143 267L147.5 267.5L147.5 273.5L153 274L153 280L158.5 280.5L158.5 287L164 287.5L164 293.5L169 294L169 300.5L174 300.5L174.5 307.5L178.5 307.5L176.5 299.5L176.5 290.5L175.5 288.5L168.5 282.5L166.5 278.5L163.5 266L161 260L160 253.5L158 249L154.5 244.5L149.5 243Z"/>
<path fill="#068cff" d="M189.5 323L189.5 328L194.5 328.5L194.5 335L200 335L200.5 342L206 342.5L206 349L211.5 349L212 356L217.5 356L218 363L223.5 363.5L223.5 369L229 369L229.5 375L235 375.5L235 381L240.5 381.5L240.5 387L246 387L246.5 393L252 393.5L252 399L257.5 399L258 405L263.5 405.5L263.5 411L269 411.5L269 417L274.5 417L275 420L277.5 420.5L277.5 425.5L283 425.5L283.5 431L288.5 431L289 436.5L294.5 436.5L295 442L300 442L300.5 447L305.5 447L306 452.5L311.5 452.5L312 458L317 458L317.5 463.5L322.5 463.5L323 468L336 468L336.5 462.5L343.5 462.5L344 456L350 456L350.5 451L355.5 451L356 446L361 446L361.5 440.5L366.5 440.5L367 435.5L372.5 435.5L372.5 431L378.5 430.5L378.5 425.5L384 425L384 420.5L390 420L390 415L393 414.5L393 407.5L388.5 405L373 401.5L365.5 397L344.5 379L312 349L301 342L279.5 326L269 320L257 316.5L248 317.5L237.5 322L222 332L214.5 334L204.5 330.5L195.5 324ZM143 245.5L143 267L147.5 267.5L147.5 273.5L153 274L153 280L158.5 280.5L158.5 287L163.5 287L164 293.5L168.5 293.5L169 300.5L172 300.5L172 291.5L167.5 287.5L163.5 281.5L161.5 274.5L160.5 264.5L156 251L152.5 246.5L149 244.5Z"/>
<path fill="#0478ff" d="M189.5 327.5L194.5 328.5L194.5 335L200.5 335.5L200.5 342L206 342.5L206 349L212 349.5L212 356L218 356.5L218 363L223.5 363.5L223.5 369L229 369L229.5 375L235 375.5L235 381L240.5 381.5L240.5 387L246 387L246.5 393L252 393.5L252 399L257.5 399L258 405L263.5 405.5L263.5 411L269 411.5L269 417L274.5 417L275 420L277.5 420.5L277.5 425.5L283 425.5L283.5 431L288.5 431L289 436.5L294.5 436.5L295 442L300 442L300.5 447L305.5 447L306 452.5L311.5 452.5L312 458L317 458L317.5 463.5L322.5 463.5L323 468L336 468L336.5 462.5L343.5 462.5L344 456L350 456L350.5 451L355.5 451L356 446L361 446L361.5 440.5L366.5 440.5L367 435.5L372.5 435.5L373 430.5L378.5 430.5L379 425L384 425L384.5 420L389.5 420L384 415L369.5 408L363.5 404L313 358L284 337L269 328L259.5 325L250.5 325L244 327L225.5 337L215.5 340.5L213 340.5L201 334.5L194.5 328ZM143 248.5L143 267L147.5 267.5L147.5 273.5L153 274L153 280L158 280L158.5 287L160.5 287L157.5 277.5L157.5 264L154.5 255L150 249L147 248Z"/>
<path fill="#0264ff" d="M206 344L206 349L212 349.5L212 356L218 356.5L218 363L223.5 363.5L223.5 369L229 369L229.5 375L235 375.5L235 381L240.5 381.5L240.5 387L246 387L246.5 393L252 393.5L252 399L257.5 399L258 405L263.5 405.5L263.5 411L269 411.5L269 417L274.5 417L275 420L277.5 420.5L277.5 425.5L283 425.5L283.5 431L288.5 431L289 436.5L294.5 436.5L295 442L300 442L300.5 447L305.5 447L306 452.5L311.5 452.5L312 458L317 458L317.5 463.5L322.5 463.5L323 468L336 468L336 463L343.5 462.5L343.5 456.5L350 456L350 451.5L355.5 451L356 446L361 446L361 441L366.5 440.5L367 435.5L372.5 435.5L373 430.5L378.5 430.5L378.5 425.5L373 420L364.5 415L355 407.5L309 363.5L293 352.5L284 345L272.5 338L259 333L251 333L243.5 335.5L233 341L221 344.5L210.5 345ZM143.5 253L143 267L147.5 267.5L147.5 273.5L152 273.5L152.5 262.5L151 255.5L148 253Z"/>
<path fill="#0050ff" d="M212 351L212 356L218 356.5L218 363L223.5 363.5L223.5 369L229 369L229.5 375L235 375.5L235 381L240.5 381.5L240.5 387L246 387L246.5 393L252 393.5L252 399L257.5 399L258 405L263.5 405.5L263.5 411L269 411.5L269 417L274.5 417L275 420L277.5 420.5L277.5 425.5L283 425.5L283.5 431L288.5 431L289 436.5L294.5 436.5L295 442L300 442L300.5 447L305.5 447L306 452.5L311.5 452.5L312 458L317 458L317.5 463.5L322.5 463.5L323 468L336 468L336.5 462.5L343.5 462.5L344 456L350 456L350.5 451L355.5 451L356 446L361 446L361.5 440.5L366.5 440.5L366.5 436L367.5 435.5L364 430L335.5 402.5L315 379.5L303.5 368L278.5 349L265 343L256.5 341L252.5 341L223 350.5Z"/>
<path fill="#1440ff" d="M218 361L218 363L223.5 363.5L223.5 369L229.5 369.5L229.5 375L235 375.5L235 381L240.5 381.5L240.5 387L246.5 387.5L246.5 393L252 393.5L252 399L258 399.5L258 405L263.5 405.5L263.5 411L269 411.5L269 417L274.5 417L275 420L277.5 420.5L277.5 425.5L283 425.5L283.5 431L288.5 431L289 436.5L294.5 436.5L295 442L300 442L300.5 447L305.5 447L306 452.5L311.5 452.5L312 458L317 458L317.5 463.5L322.5 463.5L323 468L336 468L336.5 462.5L343.5 462.5L344 456L350 456L349 448.5L344 436.5L330 418L321.5 403.5L314 394L307 382L298 372.5L289.5 366.5L279 357L275 354.5L268.5 352.5L253.5 351.5L237 355L224.5 360Z"/>
<path fill="#113bff" d="M235 378L235 381L240.5 381.5L240.5 387L246.5 387.5L246.5 393L252 393.5L252 399L258 399.5L258 405L263.5 405.5L263.5 411L269 411.5L269 417L275 417.5L275 420L277.5 420.5L277.5 425.5L283 425.5L283.5 431L289 431.5L289 436.5L292 431L301.5 431L304 430L307 427L310 419.5L310.5 411L308.5 403.5L302.5 390.5L297 381.5L294.5 379L275 365.5L271 363.5L268.5 363.5L259 367L254.5 371L250 379Z"/>
<path fill="#0d35ff" d="M273.5 383.5L271.5 394.5L272 400L273.5 402.5L263.5 409L263.5 411L268.5 411L269 417L274.5 417L275 420L277.5 420.5L277.5 423L286 423L290 424L294.5 423.5L297 418.5L297 404.5L294.5 398.5L286 389.5Z"/>
</g></g>
<path d="M136.3 207.1V439.1M136.3 207.1H123.1M136.3 265.5H111.4M136.3 322.5H123.1M136.3 380.1H111.4M136.3 439.1H123.1M166.5 483.9H394.7M166.5 483.9V497.2M202.8 483.9V508.3M241.3 483.9V497.2M277.3 483.9V508.3M317.4 483.9V497.2M355.3 483.9V508.3M394.7 483.9V497.2" stroke="#2c2c2c" stroke-width="1.05" fill="none"/>
<text x="104.6" y="270.7" font-size="16" text-anchor="middle" textLength="54.4" lengthAdjust="spacingAndGlyphs" transform="rotate(-90 104.6 270.7)">28.4558</text>
<text x="104.6" y="385.6" font-size="16" text-anchor="middle" textLength="54.4" lengthAdjust="spacingAndGlyphs" transform="rotate(-90 104.6 385.6)">28.4554</text>
<text x="74.7" y="318.4" font-size="18.7" text-anchor="middle" textLength="95" lengthAdjust="spacingAndGlyphs" transform="rotate(-90 74.7 318.4)">Latitude (N)</text>
<text x="200.6" y="531" font-size="14.8" text-anchor="middle" textLength="60.1" lengthAdjust="spacingAndGlyphs">-17.8452</text>
<text x="277" y="529.6" font-size="14.8" text-anchor="middle" textLength="60.1" lengthAdjust="spacingAndGlyphs">-17.8448</text>
<text x="357.6" y="531.8" font-size="14.8" text-anchor="middle" textLength="60.1" lengthAdjust="spacingAndGlyphs">-17.8444</text>
<text x="283.6" y="554.5" font-size="17.7" text-anchor="middle" textLength="114.8" lengthAdjust="spacingAndGlyphs">Longitude (W)</text>
<path d="M309.94 185.72L313.78 198.31L326.20 198.31L316.15 206.08L319.99 218.67L309.94 210.89L299.89 218.67L303.73 206.08L293.68 198.31L306.10 198.31Z" fill="#fff" stroke="#000" stroke-width="2.9" stroke-linejoin="miter" stroke-miterlimit="6"/>
<g clip-path="url(#cA2)"><g opacity=".999">
<rect x="537" y="213" width="282" height="217" fill="#a01400"/>
<path fill="#b81a08" d="M537 213L537 267.5L543.5 268L543.5 275L550.5 275.5L550.5 286L558.5 286.5L558.5 299L566 299.5L566 311.5L574 312L574 322L581 322L581.5 330.5L589 331L589 339L596.5 339.5L596.5 349L604.5 349.5L604.5 358L611.5 358L612 366L619.5 366.5L619.5 375L627 375.5L627 385L634 385L634.5 394L642 394L642.5 402L650 402.5L650 410.5L657 411L657 419L663.5 419L664 423L668 423.5L668 430L768 430L768.5 423L796.5 423L797 412L808 412L808 405L815.5 404.5L815.5 397L819 396.5L819 359L812.5 358.5L812.5 341L804 340.5L804 323L797 322.5L797 309L790 309L789.5 298L782 297.5L782 292.5L778 292L778 285L770.5 285L770 277.5L763 277.5L762.5 270.5L758.5 270L758.5 266L751 265.5L751 257L743.5 257L743 252.5L735.5 252L735.5 244L728 243.5L728 235.5L719.5 244.5L717 245.5L709.5 245.5L697.5 242L684 230L658.5 229.5L658 223L624 223L618.5 218L580.5 217L580 213Z"/>
<path fill="#d02010" d="M537 213L537 267.5L543.5 268L543.5 275L550.5 275.5L550.5 286L558.5 286.5L558.5 299L566 299.5L566 311.5L574 312L574 322L581 322L581.5 330.5L589 331L589 339L596.5 339.5L596.5 349L604.5 349.5L604.5 358L611.5 358L612 366L619.5 366.5L619.5 375L627 375.5L627 385L634 385L634.5 394L642 394L642.5 402L650 402.5L650 410.5L657 411L657 419L663.5 419L664 423L668 423.5L668 430L768 430L768.5 423L796.5 423L797 412L808 412L808 405L815.5 404.5L815.5 397L819 396.5L819 359L812.5 358.5L812.5 341L804 340.5L804 323L797 322.5L797 309L789.5 308.5L789.5 298L782.5 298L782 292.5L778 292L778 285L770.5 285L770 277.5L763 277.5L762.5 270.5L758.5 270L758.5 266L751 265.5L751 257L743.5 257L743 252.5L736 252.5L735.5 244L728.5 244L728 242.5L722.5 247.5L718 250L714.5 251L705.5 251L699 249L693.5 246L673 229.5L658.5 229.5L658 223L624 223L618.5 218L580.5 217L580 213Z"/>
<path fill="#e7240c" d="M537 213L537 267.5L543.5 268L543.5 275L550.5 275.5L550.5 286L558.5 286.5L558.5 299L566 299.5L566 311.5L574 312L574 322L581 322L581.5 330.5L589 331L589 339L596.5 339.5L596.5 349L604.5 349.5L604.5 358L611.5 358L612 366L619.5 366.5L619.5 375L627 375.5L627 385L634 385L634.5 394L642 394L642.5 402L650 402.5L650 410.5L657 411L657 419L663.5 419L664 423L668 423.5L668 430L768 430L768.5 423L796.5 423L797 412L808 412L808 405L815.5 404.5L815.5 397L819 396.5L819 359L812.5 358.5L812.5 341L804 340.5L804 323L797 322.5L797 309L789.5 308.5L789.5 298L782.5 298L782 292.5L778 292L778 285L770.5 285L770 277.5L763 277.5L762.5 270.5L758.5 270L758.5 266L751 265.5L751 257L743.5 257L743 252.5L736 252.5L735.5 244L732.5 244.5L723.5 252L717 255.5L710 257L703.5 256.5L698.5 255L691.5 251L683 244L671.5 236.5L663.5 229.5L658.5 229.5L658 225L655 223L624 223L618.5 218L580.5 217L580 213Z"/>
<path fill="#ff2808" d="M537 213L537 267.5L543.5 268L543.5 275L550.5 275.5L550.5 286L558.5 286.5L558.5 299L566 299.5L566 311.5L574 312L574 322L581 322L581.5 330.5L589 331L589 339L596.5 339.5L596.5 349L604.5 349.5L604.5 358L611.5 358L612 366L619.5 366.5L619.5 375L627 375.5L627 385L634 385L634.5 394L642 394L642.5 402L650 402.5L650 410.5L657 411L657 419L663.5 419L664 423L668 423.5L668 430L768 430L768.5 423L796.5 423L797 412L808 412L808 405L815.5 404.5L815.5 397L819 396.5L819 359L812.5 358.5L812.5 341L804 340.5L804 323L797 322.5L797 309L789.5 308.5L789.5 298L782.5 298L782 292.5L778 292L778 285L770.5 285L770 277.5L763 277.5L762.5 270.5L758.5 270L758.5 266L751 265.5L751 257L743.5 257L743 252.5L736 252.5L735.5 247.5L724.5 257L717.5 261L711 262.5L700.5 262L694 259.5L682.5 249.5L668.5 242L657.5 232L645 223L624 223L618.5 218L580.5 217L580 213Z"/>
<path fill="#ff2a0c" d="M537 213L537 267.5L543.5 268L543.5 275L550.5 275.5L550.5 286L558.5 286.5L558.5 299L566 299.5L566 311.5L574 312L574 322L581 322L581.5 330.5L589 331L589 339L596.5 339.5L596.5 349L604.5 349.5L604.5 358L611.5 358L612 366L619.5 366.5L619.5 375L627 375.5L627 385L634 385L634.5 394L642 394L642.5 402L650 402.5L650 410.5L657 411L657 419L663.5 419L664 423L668 423.5L668 430L768 430L768.5 423L796.5 423L797 412L808 412L808 405L815.5 404.5L815.5 397L819 396.5L819 359L812.5 358.5L812.5 341L804 340.5L804 323L797 322.5L797 309L789.5 308.5L789.5 298L782.5 298L782 292.5L778 292L778 285L770.5 285L770 277.5L763 277.5L762.5 270.5L758.5 270L758.5 266L751 265.5L751 257L743.5 257L743 252.5L735.5 252L728 261L719 266L707.5 268.5L697.5 267.5L692.5 266L687.5 263L679 252.5L670 250L663.5 246.5L643.5 228.5L634.5 223L624 223L618.5 218L580.5 217L580 213Z"/>
<path fill="#ff2c10" d="M537 213L537 267.5L543.5 268L543.5 275L550.5 275.5L550.5 286L558.5 286.5L558.5 299L566 299.5L566 311.5L574 312L574 322L581 322L581.5 330.5L589 331L589 339L596.5 339.5L596.5 349L604.5 349.5L604.5 358L611.5 358L612 366L619.5 366.5L619.5 375L627 375.5L627 385L634 385L634.5 394L642 394L642.5 402L650 402.5L650 410.5L657 411L657 419L663.5 419L664 423L668 423.5L668 430L768 430L768.5 423L796.5 423L797 412L808 412L808 405L815.5 404.5L815.5 397L819 396.5L819 359L812.5 358.5L812.5 341L804 340.5L804 323L797 322.5L797 309L789.5 308.5L789.5 298L782 297.5L782 292.5L778 292L778 285L770.5 285L770 277.5L763 277.5L762.5 270.5L759 270.5L758 268L751.5 266L750 264.5L740.5 262.5L714 273L699 274L686.5 271L681 267.5L672.5 258.5L660.5 252.5L651.5 243L638.5 231.5L621.5 223L615 218L580.5 217L580 213Z"/>
<path fill="#ff4208" d="M537 213L537 267.5L543.5 268L543.5 275L550.5 275.5L550.5 286L558.5 286.5L558.5 299L566 299.5L566 311.5L574 312L574 322L581 322L581.5 330.5L589 331L589 339L596.5 339.5L596.5 349L604.5 349.5L604.5 358L611.5 358L612 366L619.5 366.5L619.5 375L627 375.5L627 385L634 385L634.5 394L642 394L642.5 402L650 402.5L650 410.5L657 411L657 419L663.5 419L664 423L668 423.5L668 430L768 430L768.5 423L796.5 423L797 412L808 412L808 405L815.5 404.5L815.5 397L819 396.5L819 359L812.5 358.5L812.5 341L804 340.5L804 323L797 322.5L797 309L789.5 308.5L789.5 298L782 297.5L782 292.5L778 292L778 285L770 284.5L770 277.5L763 277.5L761.5 276L757.5 275.5L746.5 271L736 271L730.5 272L717 277L709 278.5L697 279.5L689.5 278L678.5 274.5L669.5 265.5L660 258.5L649 247L634.5 235L619.5 227.5L607 217.5L580.5 217L580 213Z"/>
<path fill="#ff5800" d="M537 213L537 267.5L543.5 268L543.5 275L550.5 275.5L550.5 286L558.5 286.5L558.5 299L566 299.5L566 311.5L574 312L574 322L581 322L581.5 330.5L589 331L589 339L596.5 339.5L596.5 349L604.5 349.5L604.5 358L611.5 358L612 366L619.5 366.5L619.5 375L627 375.5L627 385L634 385L634.5 394L642 394L642.5 402L650 402.5L650 410.5L657 411L657 419L663.5 419L664 423L668 423.5L668 430L768 430L768.5 423L796.5 423L797 412L808 412L808 405L815.5 404.5L815.5 397L819 396.5L819 359L812.5 358.5L812.5 341L804 340.5L804 323L797 322.5L797 309L789.5 308.5L789.5 298L782 297.5L782 292.5L778 292L778 285.5L770.5 285L769.5 283.5L759.5 281.5L751.5 278L742.5 275.5L730 276.5L717.5 281L698.5 284.5L685.5 281.5L678.5 279L674.5 276.5L662.5 266.5L648.5 251.5L639 245L631.5 238L619.5 231.5L609.5 223.5L599.5 217.5L580.5 217L580 213Z"/>
<path fill="#ff6c00" d="M537 213L537 267.5L543.5 268L543.5 275L550.5 275.5L550.5 286L558.5 286.5L558.5 299L566 299.5L566 311.5L574 312L574 322L581 322L581.5 330.5L589 331L589 339L596.5 339.5L596.5 349L604.5 349.5L604.5 358L611.5 358L612 366L619.5 366.5L619.5 375L627 375.5L627 385L634 385L634.5 394L642 394L642.5 402L650 402.5L650 410.5L657 411L657 419L663.5 419L664 423L668 423.5L668 430L768 430L768.5 423L796.5 423L797 412L808 412L808 405L815.5 404.5L815.5 397L819 396.5L819 359L812.5 358.5L812.5 341L804 340.5L804 323L797 322.5L797 309L789.5 308.5L789.5 298L782.5 298L782 292.5L778.5 292.5L778 291.5L770.5 289L759 286.5L751 282.5L741.5 279.5L734 279.5L715 285.5L700 287.5L693 287L682 284.5L675 281L660.5 270L646 253.5L627 239L619.5 235.5L607.5 226L597 220L588 217L580.5 217L580 215.5L567 214L559 215.5L555.5 214.5L542 214.5L539.5 213Z"/>
<path fill="#ff8000" d="M537 216L537 267.5L543.5 268L543.5 275L550.5 275.5L550.5 286L558.5 286.5L558.5 299L566 299.5L566 311.5L574 312L574 322L581 322L581.5 330.5L589 331L589 339L596.5 339.5L596.5 349L604.5 349.5L604.5 358L611.5 358L612 366L619.5 366.5L619.5 375L627 375.5L627 385L634 385L634.5 394L642 394L642.5 402L650 402.5L650 410.5L657 411L657 419L663.5 419L664 423L668 423.5L668 430L768 430L768.5 423L796.5 423L797 412L808 412L808 405L815.5 404.5L815.5 397L819 396.5L819 359L812.5 358.5L812.5 341L804 340.5L804 323L797 322.5L797 309L789.5 308.5L789.5 300L757 290L749.5 286L741 283L734.5 283L716 289L705.5 290L692 290L681.5 288L674.5 284.5L659 272.5L651 262.5L643.5 255L625.5 241.5L617.5 237.5L602 226L595 222.5L587.5 220L581.5 219.5L571.5 217L563.5 217L560.5 218L547 217.5L542 218.5Z"/>
<path fill="#ff9400" d="M537 219L537 267.5L543.5 268L543.5 275L550.5 275.5L550.5 286L558.5 286.5L558.5 299L566 299.5L566 311.5L574 312L574 322L581 322L581.5 330.5L589 331L589 339L596.5 339.5L596.5 349L604.5 349.5L604.5 358L611.5 358L612 366L619.5 366.5L619.5 375L627 375.5L627 385L634 385L634.5 394L642 394L642.5 402L650 402.5L650 410.5L657 411L657 419L663.5 419L664 423L668 423.5L668 430L768 430L768.5 423L796.5 423L797 412L808 412L808 405L815.5 404.5L815.5 397L819 396.5L819 359L812.5 358.5L812.5 341L804 340.5L804 323L797 322.5L796.5 310L794.5 309L790 309L789 305.5L781 301.5L758 294L746.5 288.5L740 286.5L734.5 286.5L719.5 291.5L712.5 292.5L693.5 293L678.5 290.5L671.5 286L660 276.5L649 264L639.5 255L627.5 246L617 240L601.5 229L586.5 222.5L579 222L571.5 219.5L551.5 219.5L540.5 220.5Z"/>
<path fill="#ffa800" d="M537 222L537 267.5L543.5 268L543.5 275L550.5 275.5L550.5 286L558.5 286.5L558.5 299L566 299.5L566 311.5L574 312L574 322L581 322L581.5 330.5L589 331L589 339L596.5 339.5L596.5 349L604.5 349.5L604.5 358L611.5 358L612 366L619.5 366.5L619.5 375L627 375.5L627 385L634 385L634.5 394L642 394L642.5 402L650 402.5L650 410.5L657 411L657 419L663.5 419L664 423L668 423.5L668 430L768 430L768.5 423L796.5 423L797 412L808 412L808 405L815.5 404.5L815.5 397L819 396.5L819 359L812.5 358.5L812.5 341L804 340.5L804 323L797.5 323L797 318L793 316L782 306.5L739.5 290L734.5 290L719 294.5L711 295.5L687.5 295.5L678.5 293.5L673 290.5L662 281.5L637.5 256.5L626 248L600.5 231.5L589 226L572.5 222L564.5 221L557 221L545 223Z"/>
<path fill="#ffbc00" d="M537 224.5L537 267.5L543.5 268L543.5 275L550.5 275.5L550.5 286L558.5 286.5L558.5 299L566 299.5L566 311.5L574 312L574 322L581 322L581.5 330.5L589 331L589 339L596.5 339.5L596.5 349L604.5 349.5L604.5 358L611.5 358L612 366L619.5 366.5L619.5 375L627 375.5L627 385L634 385L634.5 394L642 394L642.5 402L650 402.5L650 410.5L657 411L657 419L663.5 419L664 423L668 423.5L668 430L768 430L768.5 423L796.5 423L797 412L808 412L808 405L815.5 404.5L815.5 397L819 396.5L819 359L812.5 358.5L812.5 341L804.5 341L804 327L798.5 325.5L792.5 322L778 308.5L758 301L745.5 295L737 293L715 298L684 298L678.5 296.5L673.5 294L665 287.5L637 259L622 248L598 233L581 225.5L561.5 222.5L547 225Z"/>
<path fill="#ffd000" d="M537 226.5L537 267.5L543.5 268L543.5 275L550.5 275.5L550.5 286L558.5 286.5L558.5 299L566 299.5L566 311.5L574 312L574 322L581 322L581.5 330.5L589 331L589 339L596.5 339.5L596.5 349L604.5 349.5L604.5 358L611.5 358L612 366L619.5 366.5L619.5 375L627 375.5L627 385L634 385L634.5 394L642 394L642.5 402L650 402.5L650 410.5L657 411L657 419L663.5 419L664 423L668 423.5L668 430L768 430L768.5 423L796.5 423L797 412L808 412L808 405L815.5 404.5L815.5 397L819 396.5L819 359L812.5 358.5L812.5 341L804.5 341L804 334L798 332.5L792.5 329.5L787 324L782 317L775.5 311.5L758 304.5L746 298.5L737.5 296L714 301L703 301L698.5 300L694 301L684 301L679.5 300L670.5 295L662 288L648 272.5L636 261L619.5 249L600 237L579.5 227L570 226.5L560 224L548.5 227L542 227.5Z"/>
<path fill="#ffe400" d="M537 229L537 267.5L543.5 268L543.5 275L550.5 275.5L550.5 286L558.5 286.5L558.5 299L566 299.5L566 311.5L574 312L574 322L581 322L581.5 330.5L589 331L589 339L596.5 339.5L596.5 349L604.5 349.5L604.5 358L611.5 358L612 366L619.5 366.5L619.5 375L627 375.5L627 385L634 385L634.5 394L642 394L642.5 402L650 402.5L650 410.5L657 411L657 419L663.5 419L664 423L668 423.5L668 430L768 430L768.5 423L796.5 423L797 412L808 412L808 405L815.5 404.5L815.5 397L819 396.5L819 359L812.5 358.5L812.5 342L797 339L790.5 336L784.5 330L779.5 320L772.5 314L745.5 301.5L738.5 299.5L731.5 300L720.5 303L713 304L685 304L679 303L669 297L663.5 292.5L649 276.5L632.5 261L616 249.5L599.5 239.5L577.5 229.5L562.5 227L557.5 227L546 229.5Z"/>
<path fill="#fff800" d="M537 231.5L537 267.5L543.5 268L543.5 275L550.5 275.5L550.5 286L558.5 286.5L558.5 299L566 299.5L566 311.5L574 312L574 322L581 322L581.5 330.5L589 331L589 339L596.5 339.5L596.5 349L604.5 349.5L604.5 358L611.5 358L612 366L619.5 366.5L619.5 375L627 375.5L627 385L634 385L634.5 394L642 394L642.5 402L650 402.5L650 410.5L657 411L657 419L663.5 419L664 423L668 423.5L668 430L768 430L768.5 423L796.5 423L797 412L808 412L808 405L815.5 404.5L815.5 397L819 396.5L819 359L812.5 358.5L812 348L795 345L786.5 341L780 333.5L775.5 321.5L767.5 315L746.5 305L738 302.5L729 303.5L718.5 306.5L682 306.5L678 305.5L672.5 302.5L663.5 295.5L646 276L631 262.5L620 256L611 249L595.5 240L579 233L566 230L558 229.5L542.5 232Z"/>
<path fill="#f4ff18" d="M537 233.5L537 267.5L543.5 268L543.5 275L550.5 275.5L550.5 286L558.5 286.5L558.5 299L566 299.5L566 311.5L574 312L574 322L581 322L581.5 330.5L589 331L589 339L596.5 339.5L596.5 349L604.5 349.5L604.5 358L611.5 358L612 366L619.5 366.5L619.5 375L627 375.5L627 385L634 385L634.5 394L642 394L642.5 402L650 402.5L650 410.5L657 411L657 419L663.5 419L664 423L668 423.5L668 430L768 430L768.5 423L796.5 423L797 412L808 412L808 405L815.5 404.5L815.5 397L819 396.5L819 359L813 359L812.5 354.5L810.5 353.5L790.5 351L785 349L782 346L777 337L772.5 324.5L765.5 317.5L747.5 308.5L737 305.5L726.5 307L718 309.5L683.5 309.5L678.5 308.5L673.5 306L663.5 298.5L655.5 290.5L648.5 281.5L631.5 265.5L617 256.5L611 251.5L596 243L577 235L566.5 232.5L557 232L545 234Z"/>
<path fill="#dcff2d" d="M537 236L537 267.5L543.5 268L543.5 275L550.5 275.5L550.5 286L558.5 286.5L558.5 299L566 299.5L566 311.5L574 312L574 322L581 322L581.5 330.5L589 331L589 339L596.5 339.5L596.5 349L604.5 349.5L604.5 358L611.5 358L612 366L619.5 366.5L619.5 375L627 375.5L627 385L634 385L634.5 394L642 394L642.5 402L650 402.5L650 410.5L657 411L657 419L663.5 419L664 423L668 423.5L668 430L768 430L768.5 423L796.5 423L797 412L808 412L808 405L815.5 404.5L815.5 397L819 396.5L819 363.5L805 358.5L786.5 357.5L777.5 354L776.5 344L771 329L768 324L761.5 318.5L751 313L739.5 309L731 309L717.5 312L688 312.5L677.5 311L670.5 307L663 301L655.5 293.5L646.5 282L631.5 268L607 251.5L594 244.5L582.5 239.5L564.5 234.5Z"/>
<path fill="#c4ff43" d="M537 238L537 267.5L543.5 268L543.5 275L550.5 275.5L550.5 286L558.5 286.5L558.5 299L566 299.5L566 311.5L574 312L574 322L581 322L581.5 330.5L589 331L589 339L596.5 339.5L596.5 349L604.5 349.5L604.5 358L611.5 358L612 366L619.5 366.5L619.5 375L627 375.5L627 385L634 385L634.5 394L642 394L642.5 402L650 402.5L650 410.5L657 411L657 419L663.5 419L664 423L668 423.5L668 430L768 430L768.5 423L796.5 423L797 412L808 412L808 405L815.5 404.5L815.5 397L819 396.5L819 370.5L805.5 365.5L794 363.5L785 364L781 362L774.5 354.5L772.5 341.5L768 329.5L764.5 324.5L758 319.5L749 315L740 312L730 312L717 314.5L684.5 315L678 314L671.5 310.5L663 304L656 297L645 283L635 273.5L625.5 266L605.5 253L587.5 244L568 237.5L556 236.5L544 238.5Z"/>
<path fill="#acff58" d="M537 240.5L537 267.5L543.5 268L543.5 275L550.5 275.5L550.5 286L558.5 286.5L558.5 299L566 299.5L566 311.5L574 312L574 322L581 322L581.5 330.5L589 331L589 339L596.5 339.5L596.5 349L604.5 349.5L604.5 358L611.5 358L612 366L619.5 366.5L619.5 375L627 375.5L627 385L634 385L634.5 394L642 394L642.5 402L650 402.5L650 410.5L657 411L657 419L663.5 419L664 423L668 423.5L668 430L768 430L768.5 423L796.5 423L797 412L808 412L808 405L815.5 404.5L815.5 397L819 396.5L819 378L812 374.5L805 372.5L787.5 372.5L781 371L779 369L773 357.5L770.5 345L767 333.5L763 327L758 322.5L748 317.5L738 314.5L711 317.5L683.5 317.5L676.5 316L669.5 312L662.5 306.5L656 300L638.5 279L623 266.5L605 255L587.5 246.5L566.5 239.5L552 239L544.5 240.5Z"/>
<path fill="#95ff6d" d="M537 242.5L537 267.5L543.5 268L543.5 275L550.5 275.5L550.5 286L558.5 286.5L558.5 299L566 299.5L566 311.5L574 312L574 322L581 322L581.5 330.5L589 331L589 339L596.5 339.5L596.5 349L604.5 349.5L604.5 358L611.5 358L612 366L619.5 366.5L619.5 375L627 375.5L627 385L634 385L634.5 394L642 394L642.5 402L650 402.5L650 410.5L657 411L657 419L663.5 419L664 423L668 423.5L668 430L768 430L768.5 423L796.5 423L797 412L808 412L808 405L815.5 404.5L815.5 397L819 396.5L819 386.5L809.5 380.5L805 379.5L787.5 379.5L778 376L775 372.5L774.5 368.5L770 356.5L768 345.5L764.5 334L762.5 330.5L757.5 325.5L753.5 323L738.5 317.5L731 317.5L713.5 320L683 320L676.5 318.5L670.5 315.5L661.5 308.5L655 302L638.5 281.5L621 267.5L602 255.5L584 247.5L565 241.5L553 241L544.5 242.5Z"/>
<path fill="#7fff83" d="M537 244.5L537 267.5L543.5 268L543.5 275L550.5 275.5L550.5 286L558.5 286.5L558.5 299L566 299.5L566 311.5L574 312L574 322L581 322L581.5 330.5L589 331L589 339L596.5 339.5L596.5 349L604.5 349.5L604.5 358L611.5 358L612 366L619.5 366.5L619.5 375L627 375.5L627 385L634 385L634.5 394L642 394L642.5 402L650 402.5L650 410.5L657 411L657 419L663.5 419L664 423L668 423.5L668 430L768 430L768.5 423L796.5 423L797 412L808 412L808 405L815.5 404.5L815.5 397L818 396L811 389L805.5 387L789 387L779.5 382L774.5 377L772.5 373.5L768 358.5L763.5 338L760.5 332L755 327L747 323L738.5 320.5L729.5 320.5L716 322.5L693.5 323L683 322.5L675 320.5L668.5 317L661 311L654 304L638.5 284L619 268.5L613 265.5L601.5 257.5L581.5 249L566 244L553.5 243Z"/>
<path fill="#68ff98" d="M537 246L537 267.5L543.5 268L543.5 275L550.5 275.5L550.5 286L558.5 286.5L558.5 299L566 299.5L566 311.5L574 312L574 322L581 322L581.5 330.5L589 331L589 339L596.5 339.5L596.5 349L604.5 349.5L604.5 358L611.5 358L612 366L619.5 366.5L619.5 375L627 375.5L627 385L634 385L634.5 394L642 394L642.5 402L650 402.5L650 410.5L657 411L657 419L663.5 419L664 423L668 423.5L668 430L768 430L768.5 423L796.5 423L797 412L808 412L808 406L805 403L793 403L790 397.5L777 385.5L772 378.5L766.5 362.5L760.5 337L759 334L754.5 330L748 326.5L739 323.5L728.5 323.5L714 325.5L686.5 325.5L673.5 322.5L666.5 318.5L653 306L643 292.5L635.5 284.5L618.5 271L600 259L575 249L564.5 246Z"/>
<path fill="#58ffa7" d="M537 248L537 267.5L543.5 268L543.5 275L550.5 275.5L550.5 286L558.5 286.5L558.5 299L566 299.5L566 311.5L574 312L574 322L581 322L581.5 330.5L589 331L589 339L596.5 339.5L596.5 349L604.5 349.5L604.5 358L611.5 358L612 366L619.5 366.5L619.5 375L627 375.5L627 385L634 385L634.5 394L642 394L642.5 402L650 402.5L650 410.5L657 411L657 419L663.5 419L664 423L668 423.5L668 430L768 430L768.5 423L796.5 423L796.5 418L792.5 416.5L789.5 409L783.5 400L776.5 392.5L769 378.5L763.5 361L762.5 354L757.5 336L756 334.5L747.5 329.5L739 326.5L728 326.5L719 328L704 328.5L685.5 328L673 325L668 322.5L661.5 317.5L651 307L642.5 295L633 285.5L618.5 274L598.5 261L565.5 248.5L559.5 247.5Z"/>
<path fill="#48ffb5" d="M537 250L537 267.5L543.5 268L543.5 275L550.5 275.5L550.5 286L558.5 286.5L558.5 299L566 299.5L566 311.5L574 312L574 322L581 322L581.5 330.5L589 331L589 339L596.5 339.5L596.5 349L604.5 349.5L604.5 358L611.5 358L612 366L619.5 366.5L619.5 375L627 375.5L627 385L634 385L634.5 394L642 394L642.5 402L650 402.5L650 410.5L657 411L657 419L663.5 419L664 423L668 423.5L668 430L768 430L768.5 423L793.5 423L788.5 418L783 407.5L775.5 397.5L770 388L761.5 363.5L758.5 349L754.5 339L750.5 335L738.5 329.5L729 329.5L719 331L690.5 331L675 328.5L666.5 324.5L657.5 317L649 308L642 297.5L631.5 287.5L619 277.5L597.5 263.5L573.5 253.5L562 250L552.5 249Z"/>
<path fill="#38ffc4" d="M537 252L537 267.5L543.5 268L543.5 275L550.5 275.5L550.5 286L558.5 286.5L558.5 299L566 299.5L566 311.5L574 312L574 322L581 322L581.5 330.5L589 331L589 339L596.5 339.5L596.5 349L604.5 349.5L604.5 358L611.5 358L612 366L619.5 366.5L619.5 375L627 375.5L627 385L634 385L634.5 394L642 394L642.5 402L650 402.5L650 410.5L657 411L657 419L663.5 419L664 423L668 423.5L668 430L768 430L768.5 423L787.5 423L768.5 392.5L758.5 363L757 353L750 340L745.5 336L736.5 332.5L721 334L696 334L680 332.5L670.5 329.5L662 324.5L650.5 313.5L646 308L641 299.5L620 281.5L599 267.5L565 253L552 251L541.5 251Z"/>
<path fill="#28fdd8" d="M537 254L537 267.5L543.5 268L543.5 275L550.5 275.5L550.5 286L558.5 286.5L558.5 299L566 299.5L566 311.5L574 312L574 322L581 322L581.5 330.5L589 331L589 339L596.5 339.5L596.5 349L604.5 349.5L604.5 358L611.5 358L612 366L619.5 366.5L619.5 375L627 375.5L627 385L634 385L634.5 394L642 394L642.5 402L650 402.5L650 410.5L657 411L657 419L663.5 419L664 423L668 423.5L668 430L768 430L768.5 423L782.5 423L777 412.5L771.5 405L766.5 396L763 387L760 373.5L756 365L752.5 353L746 342L742.5 338.5L737 336L725.5 337L698 337L679.5 335L671 332.5L665.5 330L658.5 325L646 312L638 299.5L628 292.5L618.5 284L599.5 271L562 254.5L550.5 253L540 253Z"/>
<path fill="#18faeb" d="M537 256L537 267.5L543.5 268L543.5 275L550.5 275.5L550.5 286L558.5 286.5L558.5 299L566 299.5L566 311.5L574 312L574 322L581 322L581.5 330.5L589 331L589 339L596.5 339.5L596.5 349L604.5 349.5L604.5 358L611.5 358L612 366L619.5 366.5L619.5 375L627 375.5L627 385L634 385L634.5 394L642 394L642.5 402L650 402.5L650 410.5L657 411L657 419L663.5 419L664 423L668 423.5L668 430L768 430L768.5 423L778 423L767 404.5L763 396L760 387L757 372.5L753.5 367.5L746.5 352.5L737.5 339.5L731 340.5L696 339.5L688.5 338L679 337.5L668 334L658.5 328.5L645.5 315.5L637.5 304.5L633.5 300.5L615 286L605 279.5L599.5 274.5L561 256.5L543 254.5Z"/>
<path fill="#08f8ff" d="M537 258.5L537 267.5L543.5 268L543.5 275L550.5 275.5L550.5 286L558.5 286.5L558.5 299L566 299.5L566 311.5L574 312L574 322L581 322L581.5 330.5L589 331L589 339L596.5 339.5L596.5 349L604.5 349.5L604.5 358L611.5 358L612 366L619.5 366.5L619.5 375L627 375.5L627 385L634 385L634.5 394L642 394L642.5 402L650 402.5L650 410.5L657 411L657 419L663.5 419L664 423L668 423.5L668 430L768 430L768 423.5L773.5 423L763 404.5L758 391L756.5 383L753 373L743.5 358L734.5 346.5L728 344.5L719 344L712 342.5L698 342.5L690.5 340.5L679.5 340L664 335L658.5 332L650 324L632 304.5L596 277.5L578.5 268L565.5 262.5L559.5 258.5L552.5 258.5L545.5 257L541 257Z"/>
<path fill="#08e2ff" d="M537 262L537 267.5L543.5 268L543.5 275L550.5 275.5L550.5 286L558.5 286.5L558.5 299L566 299.5L566 311.5L574 312L574 322L581 322L581.5 330.5L589 331L589 339L596.5 339.5L596.5 349L604.5 349.5L604.5 358L611.5 358L612 366L619.5 366.5L619.5 375L627 375.5L627 385L634 385L634.5 394L642 394L642.5 402L650 402.5L650 410.5L657 411L657 419L663.5 419L664 423L668 423.5L668 430L768 430L768 423.5L769 422.5L760.5 407.5L752 379L740.5 361.5L731.5 351L725 348L711.5 345L697 344.5L690 342.5L680 342L663.5 337.5L654.5 331.5L634 311.5L623 304L619 300L585.5 277L557.5 262.5L544.5 259.5L541 259.5Z"/>
<path fill="#08ccff" d="M537 267.5L543.5 268L543.5 275L550.5 275.5L550.5 286L558.5 286.5L558.5 299L566 299.5L566 311.5L574 312L574 322L581 322L581.5 330.5L589 331L589 339L596.5 339.5L596.5 349L604.5 349.5L604.5 358L611.5 358L612 366L619.5 366.5L619.5 375L627 375.5L627 385L634 385L634.5 394L642 394L642.5 402L650 402.5L650 410.5L657 411L657 419L663.5 419L664 423L668 423.5L668 430L767 430L764 420.5L757 408.5L755.5 399.5L750.5 383L747 377L741 371L735.5 360.5L730 354.5L724.5 351.5L709.5 347L699 346.5L686.5 344L677.5 343.5L662 339.5L657.5 337L634 316L627 312L621 310L580.5 280.5L548.5 265L542 264Z"/>
<path fill="#08b6ff" d="M543.5 272.5L543.5 275L550.5 275.5L550.5 286L558.5 286.5L558.5 299L566 299.5L566 311.5L574 312L574 322L581 322L581.5 330.5L589 331L589 339L596.5 339.5L596.5 349L604.5 349.5L604.5 358L611.5 358L612 366L619.5 366.5L619.5 375L627 375.5L627 385L634 385L634.5 394L642 394L642.5 402L650 402.5L650 410.5L657 411L657 419L663.5 419L664 423L668 423.5L668 430L762.5 430L761 422.5L754.5 409.5L753 400L749 386L745.5 380L737.5 373L734 363.5L727.5 356.5L708.5 349L697.5 348L688 346L678.5 345.5L660 341.5L630.5 317.5L624.5 315.5L619 316L612.5 310L599.5 304L589 297L579 288L551 273.5Z"/>
<path fill="#08a0ff" d="M558.5 287.5L558.5 299L566 299.5L566 311.5L574 312L574 322L581 322L581.5 330.5L589 331L589 339L596.5 339.5L596.5 349L604.5 349.5L604.5 358L611.5 358L612 366L619.5 366.5L619.5 375L627 375.5L627 385L634 385L634.5 394L642 394L642.5 402L650 402.5L650 410.5L657 411L657 419L663.5 419L664 423L668 423.5L668 430L758 430L757.5 423.5L752.5 412L749.5 395.5L747 387.5L743 381L736.5 375L732 365L726 358.5L706.5 350.5L676.5 347L658.5 343.5L650.5 336L639.5 329L631.5 321.5L626.5 319L617 317.5L611.5 314L606 312L599 312L594 308L589 305.5L583.5 304L579.5 304L570.5 294ZM550.5 284L550.5 286L555.5 286Z"/>
<path fill="#068cff" d="M566 302L566 311.5L574 312L574 322L581 322L581.5 330.5L589 331L589 339L596.5 339.5L596.5 349L604.5 349.5L604.5 358L611.5 358L612 366L619.5 366.5L619.5 375L627 375.5L627 385L634 385L634.5 394L642 394L642.5 402L650 402.5L650 410.5L657 411L657 419L663.5 419L664 423L668 423.5L668 430L753 430L752.5 422L750 414L747.5 397L745.5 390L742 383.5L735 376L730.5 367L725.5 361L711.5 354L705 352L688.5 349.5L678 349L659 345.5L655 343L647.5 336L639 332L632.5 325.5L627 322L618 320L605 315.5L598 315L585 310L579 309L572 306Z"/>
<path fill="#0478ff" d="M574 313L574 322L581 322L581.5 330.5L589 331L589 339L596.5 339.5L596.5 349L604.5 349.5L604.5 358L611.5 358L612 366L619.5 366.5L619.5 375L627 375.5L627 385L634 385L634.5 394L642 394L642.5 402L650 402.5L650 410.5L657 411L657 419L663.5 419L664 423L668 423.5L668 430L748 430L747.5 416L744 392L741 386L732.5 375.5L728.5 367.5L723.5 362L711.5 356L704 353.5L687.5 351L679.5 351L657.5 346.5L645 336.5L638 333.5L630.5 327L622 322.5Z"/>
<path fill="#0264ff" d="M574 319.5L574 322L581.5 322.5L581.5 330.5L589 331L589 339L596.5 339.5L596.5 349L604.5 349.5L604.5 358L612 358.5L612 366L619.5 366.5L619.5 375L627 375.5L627 385L634.5 385.5L634.5 394L642 394L642.5 402L650 402.5L650 410.5L657 411L657 419L663.5 419L664 423L668 423.5L668 430L742.5 429.5L744 411.5L741.5 391.5L731.5 377.5L725 366L719.5 361.5L703 355L686.5 352.5L678 352.5L657.5 348L653.5 346L644 338L635.5 334L625.5 326.5L620 324L608.5 323L601.5 321L585 321L578.5 319.5Z"/>
<path fill="#0050ff" d="M581.5 328.5L581.5 330.5L589 331L589 339L596.5 339.5L596.5 349L604.5 349.5L604.5 358L611.5 358L612 366L619.5 366.5L619.5 375L627 375.5L627 385L634 385L634.5 394L642 394L642.5 402L650 402.5L650 410.5L657 411L657 419L663.5 419L664 423L668 423.5L668 430L736 430L740.5 415.5L740 394L739 391L730.5 379.5L724.5 368.5L719.5 363.5L707.5 358L700.5 356L674.5 353.5L657 349.5L650.5 346L642.5 339L631.5 334L620 326L604.5 326L599 324L590.5 327.5Z"/>
<path fill="#1440ff" d="M596.5 339.5L596.5 349L604.5 349.5L604.5 358L611.5 358L612 366L619.5 366.5L619.5 375L627 375.5L627 385L634 385L634.5 394L642 394L642.5 402L650 402.5L650 410.5L657 411L657 419L663.5 419L664 423L668 423.5L668 430L729 430L737.5 412.5L737.5 393L731.5 385L724.5 372L719.5 365.5L711.5 361.5L700 357.5L673.5 355L653.5 350L648 346.5L640 339.5L627.5 334.5L619 328L603.5 332.5L600.5 335.5L599.5 339Z"/>
<path fill="#113bff" d="M607.5 340L601 349L604.5 349.5L604.5 358L611.5 358L612 366L619.5 366.5L619.5 375L627 375.5L627 385L634 385L634.5 394L642 394L642.5 402L650 402.5L650 410.5L657 411L657 419L663.5 419L664 423L668 423.5L668 430L719 430L730 415.5L732.5 409.5L733.5 394L724.5 376L718 366.5L700 359L668 356L659.5 353L655 352.5L649 350L641 342L638 340.5L630 339L619.5 334L614 334.5Z"/>
<path fill="#0d35ff" d="M615 342.5L613.5 345.5L614 352.5L622.5 362.5L622.5 367L619.5 375L627 375.5L627 385L634 385L634.5 394L642 394L642.5 402L650 402.5L650 410.5L657 411L657 419L663.5 419L664 423L668 423.5L668 430L702.5 430L717 420L725 411L728.5 402.5L729 393L724 379.5L716.5 368L705 362.5L697.5 360L667.5 358L658.5 354.5L651.5 354L646.5 351.5L638.5 342.5L629.5 342.5L622.5 340.5L617.5 340.5Z"/>
<path fill="#0a30ff" d="M628.5 350.5L628 356L631.5 369.5L634 373.5L641.5 380.5L642.5 382.5L643.5 393.5L646 400L648 402L649.5 402L650.5 404.5L659.5 409L668 415.5L675 418.5L684 420.5L693.5 420.5L702.5 418.5L709.5 415.5L714.5 412L718 408.5L723 401L724.5 396.5L724.5 389L723.5 384.5L719.5 376L713.5 369L697 361.5L688.5 361.5L680.5 360L669.5 360.5L663 359.5L658.5 357.5L649.5 357L642.5 353.5L636.5 347.5L631 348.5Z"/>
<path fill="#0b2dde" d="M640 363.5L645 370L649 378.5L652 388L656.5 395.5L663.5 402L674.5 409L686.5 412L695.5 411.5L703.5 409.5L712.5 404.5L719.5 395.5L721 387L718.5 379L713 372L698.5 363.5L689 363.5L678.5 361.5L670.5 363L655 362.5L650 363.5Z"/>
<path fill="#0b2ac4" d="M658.5 373.5L658 380.5L659.5 385.5L663 391.5L671 399L680.5 403.5L684.5 404.5L692 404.5L705 401.5L709 399.5L713.5 395.5L717 388.5L717.5 382.5L713.5 377L708.5 372L698 366L686 365.5L678 363.5L662 369Z"/>
<path fill="#0a26b2" d="M666.5 377.5L667 383.5L670 389L675.5 394L685 398L695 398L703 396L710 391L712.5 385.5L712 382L709.5 377.5L702 371L695.5 368.5L678 367.5L671.5 370.5L668 374Z"/>
<path fill="#0822a0" d="M674.5 378L674.5 381.5L677 386L680.5 389L688 392L692.5 392.5L699 391.5L703 389.5L705 387.5L706.5 384L705 378L701 374L696 372L681 372.5L677.5 374Z"/>
<path fill="#061e90" d="M688.5 379.5L688.5 382.5L692.5 385L697 385L700.5 382L700 378L697.5 376.5L694 376.5Z"/>
</g></g>
<path d="M531.4 215.4V439.1M531.4 215.4H520.3M531.4 270.7H507.8M531.4 326.7H520.3M531.4 383.2H507.8M531.4 439.1H520.3M621.3 462.3H811M621.3 462.3V486.1M669.2 462.3V474.2M714.9 462.3V486.1M763.1 462.3V474.2M811 462.3V486.1" stroke="#2c2c2c" stroke-width="1.05" fill="none"/>
<text x="501" y="272.1" font-size="16" text-anchor="middle" textLength="54.4" lengthAdjust="spacingAndGlyphs" transform="rotate(-90 501 272.1)">28.4558</text>
<text x="501" y="387.6" font-size="16" text-anchor="middle" textLength="54.4" lengthAdjust="spacingAndGlyphs" transform="rotate(-90 501 387.6)">28.4554</text>
<text x="471.9" y="320" font-size="18.7" text-anchor="middle" textLength="95" lengthAdjust="spacingAndGlyphs" transform="rotate(-90 471.9 320)">Latitude (N)</text>
<text x="627.7" y="504.7" font-size="14.8" text-anchor="middle" textLength="60.1" lengthAdjust="spacingAndGlyphs">-17.8450</text>
<text x="709.9" y="505.5" font-size="14.8" text-anchor="middle" textLength="60.1" lengthAdjust="spacingAndGlyphs">-17.8445</text>
<text x="803.2" y="504.7" font-size="14.8" text-anchor="middle" textLength="60.1" lengthAdjust="spacingAndGlyphs">-17.8440</text>
<text x="721" y="526.8" font-size="17.7" text-anchor="middle" textLength="114.8" lengthAdjust="spacingAndGlyphs">Longitude (W)</text>
<path d="M734.30 208.70L738.14 221.28L750.57 221.29L740.52 229.06L744.36 241.65L734.30 233.87L724.25 241.65L728.09 229.06L718.04 221.29L730.47 221.28Z" fill="#fff" stroke="#000" stroke-width="2.9" stroke-linejoin="miter" stroke-miterlimit="6"/>
<g clip-path="url(#cA3)"><g opacity=".999">
<rect x="124" y="696" width="285" height="221" fill="#a01400"/>
<path fill="#b81a08" d="M124 696L124 750L130.5 750.5L130.5 758.5L138 759L138 768L145.5 768.5L145.5 777L153 777.5L153 785.5L160.5 786L160.5 796.5L168.5 797L168.5 807.5L176 808L176 816L183 816L183.5 824L191 824.5L191 832.5L198.5 833L198.5 844L206 844L206.5 855.5L213.5 855.5L214 863L221.5 863.5L221.5 874L229.5 874.5L229.5 885.5L236.5 885.5L237 894.5L244.5 895L244.5 903.5L252 904L252 913L259.5 913L260 917L333.5 917L334.5 911.5L380 911L380.5 906.5L387.5 906.5L388 898.5L395 898.5L395 895L398.5 894.5L399 888.5L406 888.5L406 882.5L409 882L409 854L402 852L400.5 838.5L400.5 828L393.5 827.5L393.5 812.5L387 812L387 800L380 799.5L380 789L371.5 788.5L371.5 779.5L364.5 779L364.5 771L356.5 770.5L356.5 762.5L350 762.5L349.5 758.5L345.5 758L345.5 750.5L341 750L341 745.5L333.5 745L333.5 740.5L329.5 740L329.5 733.5L325.5 733.5L318.5 730L317.5 727.5L314.5 729L311 728.5L307.5 724.5L307.5 719.5L282.5 719.5L281.5 713.5L244.5 713.5L243.5 708L206.5 708L205.5 702.5L167 702L166.5 696Z"/>
<path fill="#d02010" d="M124 696L124 750L130.5 750.5L130.5 758.5L138 759L138 768L145.5 768.5L145.5 777L153 777.5L153 785.5L160.5 786L160.5 796.5L168.5 797L168.5 807.5L176 808L176 816L183 816L183.5 824L191 824.5L191 832.5L198.5 833L198.5 844L206 844L206.5 855.5L213.5 855.5L214 863L221.5 863.5L221.5 874L229.5 874.5L229.5 885.5L236.5 885.5L237 894.5L244.5 895L244.5 903.5L252 904L252 913L259.5 913L260 917L333.5 917L334.5 911.5L380 911L380.5 906.5L387.5 906.5L388 898.5L395 898.5L395 895L398.5 894.5L399 888.5L406 888.5L406 882.5L409 882L409 854L402 852L400.5 838.5L400.5 828L393.5 827.5L393.5 812.5L387 812L387 800L380 799.5L380 789L371.5 788.5L371.5 779.5L364.5 779L364.5 771L356.5 770.5L356.5 762.5L350 762.5L349.5 758.5L345.5 758L345.5 750.5L341 750L341 745.5L333.5 745L333.5 740.5L329.5 740L329.5 733.5L325.5 733.5L321 731L317 732L309 731L303 725L301.5 719.5L282.5 719.5L281.5 713.5L244.5 713.5L243.5 708L206.5 708L205.5 702.5L167 702L166.5 696Z"/>
<path fill="#e7240c" d="M124 696L124 750L130.5 750.5L130.5 758.5L138 759L138 768L145.5 768.5L145.5 777L153 777.5L153 785.5L160.5 786L160.5 796.5L168.5 797L168.5 807.5L176 808L176 816L183 816L183.5 824L191 824.5L191 832.5L198.5 833L198.5 844L206 844L206.5 855.5L213.5 855.5L214 863L221.5 863.5L221.5 874L229.5 874.5L229.5 885.5L236.5 885.5L237 894.5L244.5 895L244.5 903.5L252 904L252 913L259.5 913L260 917L333.5 917L334.5 911.5L380 911L380.5 906.5L387.5 906.5L388 898.5L395 898.5L395 895L398.5 894.5L399 888.5L406 888.5L406 882.5L409 882L409 854L402 852L400.5 838.5L400.5 828L393.5 827.5L393.5 812.5L387 812L387 800L380 799.5L380 789L371.5 788.5L371.5 779.5L364.5 779L364.5 771L356.5 770.5L356.5 762.5L350 762.5L349.5 758.5L345.5 758L345.5 750.5L341 750L341 745.5L333.5 745L333.5 740.5L329.5 740L329.5 733.5L326 733.5L318.5 735.5L306.5 733.5L300 728L296.5 719.5L282.5 719.5L281.5 713.5L244.5 713.5L243.5 708L206.5 708L205.5 702.5L167 702L166.5 696Z"/>
<path fill="#ff2808" d="M124 696L124 750L130.5 750.5L130.5 758.5L138 759L138 768L145.5 768.5L145.5 777L153 777.5L153 785.5L160.5 786L160.5 796.5L168.5 797L168.5 807.5L176 808L176 816L183 816L183.5 824L191 824.5L191 832.5L198.5 833L198.5 844L206 844L206.5 855.5L213.5 855.5L214 863L221.5 863.5L221.5 874L229.5 874.5L229.5 885.5L236.5 885.5L237 894.5L244.5 895L244.5 903.5L252 904L252 913L259.5 913L260 917L333.5 917L334.5 911.5L380 911L380.5 906.5L387.5 906.5L388 898.5L395 898.5L395 895L398.5 894.5L399 888.5L406 888.5L406 882.5L409 882L409 854L402 852L400.5 838.5L400.5 828L393.5 827.5L393.5 812.5L387 812L387 800L380 799.5L380 789L371.5 788.5L371.5 779.5L365 779.5L364.5 771L357 771L356.5 762.5L350 762.5L349.5 758.5L345.5 758L345.5 750.5L341 750L341 745.5L334 745.5L333.5 740.5L330 740.5L329.5 737.5L325.5 739L319.5 739.5L304.5 736.5L296.5 730.5L292.5 723.5L291.5 719.5L282.5 719.5L281.5 713.5L244.5 713.5L243.5 708L206.5 708L205.5 702.5L167 702L166.5 696Z"/>
<path fill="#ff2a0c" d="M124 696L124 750L130.5 750.5L130.5 758.5L138 759L138 768L145.5 768.5L145.5 777L153 777.5L153 785.5L160.5 786L160.5 796.5L168.5 797L168.5 807.5L176 808L176 816L183 816L183.5 824L191 824.5L191 832.5L198.5 833L198.5 844L206 844L206.5 855.5L213.5 855.5L214 863L221.5 863.5L221.5 874L229.5 874.5L229.5 885.5L236.5 885.5L237 894.5L244.5 895L244.5 903.5L252 904L252 913L259.5 913L260 917L333.5 917L334.5 911.5L380 911L380.5 906.5L387.5 906.5L388 898.5L395 898.5L395 895L398.5 894.5L399 888.5L406 888.5L406 882.5L409 882L409 854L402 852L400.5 838.5L400.5 828L393.5 827.5L393.5 812.5L387 812L387 800L380 799.5L380 789L371.5 788.5L371.5 779.5L364.5 779L364.5 771L356.5 770.5L356.5 762.5L350 762.5L349.5 758.5L345.5 758L345.5 750.5L341 750L341 745.5L334 745.5L333.5 741.5L327 743.5L320 744L305.5 741L299 738L295 735L290.5 729.5L288 724.5L287 719.5L282 719L281.5 713.5L244.5 713.5L243.5 708L206.5 708L205.5 702.5L167 702L166.5 696Z"/>
<path fill="#ff2c10" d="M124 696L124 750L130.5 750.5L130.5 758.5L138 759L138 768L145.5 768.5L145.5 777L153 777.5L153 785.5L160.5 786L160.5 796.5L168.5 797L168.5 807.5L176 808L176 816L183 816L183.5 824L191 824.5L191 832.5L198.5 833L198.5 844L206 844L206.5 855.5L213.5 855.5L214 863L221.5 863.5L221.5 874L229.5 874.5L229.5 885.5L236.5 885.5L237 894.5L244.5 895L244.5 903.5L252 904L252 913L259.5 913L260 917L333.5 917L334.5 911.5L380 911L380.5 906.5L387.5 906.5L388 898.5L395 898.5L395 895L398.5 894.5L399 888.5L406 888.5L406 882.5L409 882L409 854L402 852L400.5 838.5L400.5 828L393.5 827.5L393.5 812.5L387 812L387 800L380 799.5L380 789L371.5 788.5L371.5 779.5L364.5 779L364.5 771L356.5 770.5L356.5 762.5L350 762.5L349.5 758.5L345.5 758L345.5 750.5L341 750L341 745.5L336 745.5L331.5 747.5L326 748.5L319 748.5L311 747L299 742.5L293.5 739L286.5 731.5L283 724L281 713.5L244.5 713.5L243.5 708L206.5 708L205.5 702.5L167 702L166.5 696Z"/>
<path fill="#ff4208" d="M124 696L124 750L130.5 750.5L130.5 758.5L138 759L138 768L145.5 768.5L145.5 777L153 777.5L153 785.5L160.5 786L160.5 796.5L168.5 797L168.5 807.5L176 808L176 816L183 816L183.5 824L191 824.5L191 832.5L198.5 833L198.5 844L206 844L206.5 855.5L213.5 855.5L214 863L221.5 863.5L221.5 874L229.5 874.5L229.5 885.5L236.5 885.5L237 894.5L244.5 895L244.5 903.5L252 904L252 913L259.5 913L260 917L333.5 917L334.5 911.5L380 911L380.5 906.5L387.5 906.5L388 898.5L395 898.5L395 895L398.5 894.5L399 888.5L406 888.5L406 882.5L409 882L409 854L402 852L400.5 838.5L400.5 828L393.5 827.5L393.5 812.5L387 812L387 800L380 799.5L380 789L371.5 788.5L371.5 779.5L364.5 779L364.5 771L356.5 770.5L356.5 762.5L350 762.5L349.5 758.5L345.5 758L345.5 750.5L341.5 750.5L340.5 748.5L331 752.5L320 753L310 751L296.5 745.5L290 741L281 731.5L278.5 726L276.5 713.5L244.5 713.5L243.5 708L206.5 708L205.5 702.5L167 702L166.5 696Z"/>
<path fill="#ff5800" d="M124 696L124 750L130.5 750.5L130.5 758.5L138 759L138 768L145.5 768.5L145.5 777L153 777.5L153 785.5L160.5 786L160.5 796.5L168.5 797L168.5 807.5L176 808L176 816L183 816L183.5 824L191 824.5L191 832.5L198.5 833L198.5 844L206 844L206.5 855.5L213.5 855.5L214 863L221.5 863.5L221.5 874L229.5 874.5L229.5 885.5L236.5 885.5L237 894.5L244.5 895L244.5 903.5L252 904L252 913L259.5 913L260 917L333.5 917L334.5 911.5L380 911L380.5 906.5L387.5 906.5L388 898.5L395 898.5L395 895L398.5 894.5L399 888.5L406 888.5L406 882.5L409 882L409 854L402 852L400.5 838.5L400.5 828L393.5 827.5L393.5 812.5L387 812L387 800L380 799.5L380 789L371.5 788.5L371.5 779.5L364.5 779L364.5 771L356.5 770.5L356.5 762.5L350 762.5L349.5 758.5L345.5 758L345.5 751L334 756.5L323.5 757.5L313.5 756L292.5 747.5L282.5 739.5L275.5 732.5L273.5 728L273 718.5L271 713.5L244.5 713.5L243.5 708L206.5 708L205.5 702.5L167 702L166.5 696Z"/>
<path fill="#ff6c00" d="M124 696L124 750L130.5 750.5L130.5 758.5L138 759L138 768L145.5 768.5L145.5 777L153 777.5L153 785.5L160.5 786L160.5 796.5L168.5 797L168.5 807.5L176 808L176 816L183 816L183.5 824L191 824.5L191 832.5L198.5 833L198.5 844L206 844L206.5 855.5L213.5 855.5L214 863L221.5 863.5L221.5 874L229.5 874.5L229.5 885.5L236.5 885.5L237 894.5L244.5 895L244.5 903.5L252 904L252 913L259.5 913L260 917L333.5 917L334.5 911.5L380 911L380.5 906.5L387.5 906.5L388 898.5L395 898.5L395 895L398.5 894.5L399 888.5L406 888.5L406 882.5L409 882L409 854L402 852L400.5 838.5L400.5 828L393.5 827.5L393.5 812.5L387 812L387 800L380 799.5L380 789L371.5 788.5L371.5 779.5L364.5 779L364.5 771L356.5 770.5L356.5 762.5L350 762.5L349.5 758.5L346 758.5L345.5 756L333 761.5L316 760.5L304.5 756.5L291.5 750.5L271 734.5L267.5 727L265 713.5L244.5 713.5L243.5 708L206.5 708L205.5 702.5L167 702L166.5 696Z"/>
<path fill="#ff8000" d="M124 696L124 750L130.5 750.5L130.5 758.5L138 759L138 768L145.5 768.5L145.5 777L153 777.5L153 785.5L160.5 786L160.5 796.5L168.5 797L168.5 807.5L176 808L176 816L183 816L183.5 824L191 824.5L191 832.5L198.5 833L198.5 844L206 844L206.5 855.5L213.5 855.5L214 863L221.5 863.5L221.5 874L229.5 874.5L229.5 885.5L236.5 885.5L237 894.5L244.5 895L244.5 903.5L252 904L252 913L259.5 913L260 917L333.5 917L334.5 911.5L380 911L380.5 906.5L387.5 906.5L388 898.5L395 898.5L395 895L398.5 894.5L399 888.5L406 888.5L406 882.5L409 882L409 854L402 852L400.5 838.5L400.5 828L393.5 827.5L393.5 812.5L387 812L387 800L380 799.5L380 789L371.5 788.5L371.5 779.5L364.5 779L364.5 771L356.5 770.5L356.5 762.5L350 762.5L349.5 758.5L334.5 765L324.5 765.5L313.5 763.5L301 758.5L286.5 751L270.5 739.5L266.5 735.5L261.5 727L259 718.5L259 713.5L244.5 713.5L243.5 708L206.5 708L205.5 702.5L167 702L166.5 696Z"/>
<path fill="#ff9400" d="M124 699.5L124 750L130.5 750.5L130.5 758.5L138 759L138 768L145.5 768.5L145.5 777L153 777.5L153 785.5L160.5 786L160.5 796.5L168.5 797L168.5 807.5L176 808L176 816L183 816L183.5 824L191 824.5L191 832.5L198.5 833L198.5 844L206 844L206.5 855.5L213.5 855.5L214 863L221.5 863.5L221.5 874L229.5 874.5L229.5 885.5L236.5 885.5L237 894.5L244.5 895L244.5 903.5L252 904L252 913L259.5 913L260 917L333.5 917L334.5 911.5L380 911L380.5 906.5L387.5 906.5L388 898.5L395 898.5L395 895L398.5 894.5L399 888.5L406 888.5L406 882.5L409 882L409 854L402 852L400.5 838.5L400.5 828L393.5 827.5L393.5 812.5L387 812L387 800L380 799.5L380 789L371.5 788.5L371.5 779.5L364.5 779L364.5 771L356.5 770.5L356.5 762.5L350 762.5L334.5 769L327.5 769.5L312 766.5L299 761L283 752.5L265.5 740.5L260.5 735.5L257 730L253 718.5L254 713.5L244.5 713.5L243.5 708L206.5 708L205.5 702.5L167 702L166.5 696L127.5 696L129 701.5L128 702Z"/>
<path fill="#ffa800" d="M124 704.5L124 750L130.5 750.5L130.5 758.5L138 759L138 768L145.5 768.5L145.5 777L153 777.5L153 785.5L160.5 786L160.5 796.5L168.5 797L168.5 807.5L176 808L176 816L183 816L183.5 824L191 824.5L191 832.5L198.5 833L198.5 844L206 844L206.5 855.5L213.5 855.5L214 863L221.5 863.5L221.5 874L229.5 874.5L229.5 885.5L236.5 885.5L237 894.5L244.5 895L244.5 903.5L252 904L252 913L259.5 913L260 917L333.5 917L334.5 911.5L380 911L380.5 906.5L387.5 906.5L388 898.5L395 898.5L395 895L398.5 894.5L399 888.5L406 888.5L406 882.5L409 882L409 854L402 852L400.5 838.5L400.5 828L393.5 827.5L393.5 812.5L387 812L387 800L380 799.5L380 789L371.5 788.5L371.5 779.5L365 779.5L364.5 771L357 771L356.5 764.5L332.5 773.5L318 771.5L303.5 766.5L284.5 757L259.5 741L253 733.5L250 722.5L249.5 713.5L244.5 713.5L243.5 708L206.5 708L205.5 702.5L167 702L166.5 696L132.5 696L131.5 702L128.5 704.5Z"/>
<path fill="#ffbc00" d="M124 707.5L124 750L130.5 750.5L130.5 758.5L138 759L138 768L145.5 768.5L145.5 777L153 777.5L153 785.5L160.5 786L160.5 796.5L168.5 797L168.5 807.5L176 808L176 816L183 816L183.5 824L191 824.5L191 832.5L198.5 833L198.5 844L206 844L206.5 855.5L213.5 855.5L214 863L221.5 863.5L221.5 874L229.5 874.5L229.5 885.5L236.5 885.5L237 894.5L244.5 895L244.5 903.5L252 904L252 913L259.5 913L260 917L333.5 917L334.5 911.5L380 911L380.5 906.5L387.5 906.5L388 898.5L395 898.5L395 895L398.5 894.5L399 888.5L406 888.5L406 882.5L409 882L409 854L402 852L400.5 838.5L400.5 828L393.5 827.5L393.5 812.5L387 812L387 800L380 799.5L380 789L371.5 788.5L371.5 779.5L364.5 779L364.5 771L357 771L356.5 768.5L336.5 776L326.5 776.5L308.5 772L283.5 760L259 746L252 739.5L248.5 732.5L246 720L246 713.5L244 713L243.5 708L206.5 708L205.5 702.5L167 702L166.5 696L136 696L134 701.5L130.5 705.5Z"/>
<path fill="#ffd000" d="M124 710L124 750L130.5 750.5L130.5 758.5L138 759L138 768L145.5 768.5L145.5 777L153 777.5L153 785.5L160.5 786L160.5 796.5L168.5 797L168.5 807.5L176 808L176 816L183 816L183.5 824L191 824.5L191 832.5L198.5 833L198.5 844L206 844L206.5 855.5L213.5 855.5L214 863L221.5 863.5L221.5 874L229.5 874.5L229.5 885.5L236.5 885.5L237 894.5L244.5 895L244.5 903.5L252 904L252 913L259.5 913L260 917L333.5 917L334.5 911.5L380 911L380.5 906.5L387.5 906.5L388 898.5L395 898.5L395 895L398.5 894.5L399 888.5L406 888.5L406 882.5L409 882L409 854L402 852L400.5 838.5L400.5 828L393.5 827.5L393.5 812.5L387 812L387 800L380 799.5L380 789L371.5 788.5L371.5 779.5L364.5 779L364.5 771L353 773L339 779L327.5 780L309 775.5L281.5 762.5L273.5 757.5L254 748L249.5 743.5L246.5 738.5L244 730L242.5 720.5L242 708L206.5 708L205.5 702.5L167 702L166.5 696L138.5 696L137.5 700L133 705.5L129 708.5Z"/>
<path fill="#ffe400" d="M124 712.5L124 750L130.5 750.5L130.5 758.5L138 759L138 768L145.5 768.5L145.5 777L153 777.5L153 785.5L160.5 786L160.5 796.5L168.5 797L168.5 807.5L176 808L176 816L183 816L183.5 824L191 824.5L191 832.5L198.5 833L198.5 844L206 844L206.5 855.5L213.5 855.5L214 863L221.5 863.5L221.5 874L229.5 874.5L229.5 885.5L236.5 885.5L237 894.5L244.5 895L244.5 903.5L252 904L252 913L259.5 913L260 917L333.5 917L334.5 911.5L380 911L380.5 906.5L387.5 906.5L388 898.5L395 898.5L395 895L398.5 894.5L399 888.5L406 888.5L406 882.5L409 882L409 854L402 852L400.5 838.5L400.5 828L393.5 827.5L393.5 812.5L387 812L387 800L380 799.5L380 789L371.5 788.5L371.5 779.5L365 779.5L364.5 775.5L354 777.5L338 783L323.5 783L304 777L251.5 751L246 746.5L242.5 740.5L239 723.5L239 711.5L238 708L206.5 708L205.5 702.5L167 702L166.5 696L141 696L140 700.5L132 708.5L128 711.5Z"/>
<path fill="#fff800" d="M124 715L124 750L130.5 750.5L130.5 758.5L138 759L138 768L145.5 768.5L145.5 777L153 777.5L153 785.5L160.5 786L160.5 796.5L168.5 797L168.5 807.5L176 808L176 816L183 816L183.5 824L191 824.5L191 832.5L198.5 833L198.5 844L206 844L206.5 855.5L213.5 855.5L214 863L221.5 863.5L221.5 874L229.5 874.5L229.5 885.5L236.5 885.5L237 894.5L244.5 895L244.5 903.5L252 904L252 913L259.5 913L260 917L333.5 917L334.5 911.5L380 911L380.5 906.5L387.5 906.5L388 898.5L395 898.5L395 895L398.5 894.5L399 888.5L406 888.5L406 882.5L409 882L409 854L402 852L400.5 838.5L400.5 828L393.5 827.5L393.5 812.5L387 812L387 800L380 799.5L380 789L371.5 788.5L371.5 779.5L355 782L338.5 787L325 787L301.5 779.5L253.5 755.5L245.5 752.5L239.5 747L238 743.5L237 737.5L237.5 733.5L235 725.5L235 712.5L234 708L206.5 708L205.5 702.5L167 702L166.5 696L143 696L141.5 701.5L130.5 712Z"/>
<path fill="#f4ff18" d="M124 717.5L124 750L130.5 750.5L130.5 758.5L138 759L138 768L145.5 768.5L145.5 777L153 777.5L153 785.5L160.5 786L160.5 796.5L168.5 797L168.5 807.5L176 808L176 816L183 816L183.5 824L191 824.5L191 832.5L198.5 833L198.5 844L206 844L206.5 855.5L213.5 855.5L214 863L221.5 863.5L221.5 874L229.5 874.5L229.5 885.5L236.5 885.5L237 894.5L244.5 895L244.5 903.5L252 904L252 913L259.5 913L260 917L333.5 917L334.5 911.5L380 911L380.5 906.5L387.5 906.5L388 898.5L395 898.5L395 895L398.5 894.5L399 888.5L406 888.5L406 882.5L409 882L409 854L402 852L400.5 838.5L400.5 828L393.5 827.5L393.5 812.5L387 812L387 800L380 799.5L380 789L372 789L371.5 784.5L354 787L335 792L325 791L301 783L257 761.5L239.5 755.5L234.5 751L232 745.5L230.5 729L230 708L206.5 708L205.5 702.5L167 702L166.5 696L145.5 696L143 701.5L130 714.5Z"/>
<path fill="#dcff2d" d="M124 720L124 750L130.5 750.5L130.5 758.5L138 759L138 768L145.5 768.5L145.5 777L153 777.5L153 785.5L160.5 786L160.5 796.5L168.5 797L168.5 807.5L176 808L176 816L183 816L183.5 824L191 824.5L191 832.5L198.5 833L198.5 844L206 844L206.5 855.5L213.5 855.5L214 863L221.5 863.5L221.5 874L229.5 874.5L229.5 885.5L236.5 885.5L237 894.5L244.5 895L244.5 903.5L252 904L252 913L259.5 913L260 917L333.5 917L334.5 911.5L380 911L380.5 906.5L387.5 906.5L388 898.5L395 898.5L395 895L398.5 894.5L399 888.5L406 888.5L406 882.5L409 882L409 854L402 852L400.5 838.5L400.5 828L393.5 827.5L393.5 812.5L387 812L387 800L380 799.5L380 789.5L355.5 791.5L331.5 797L302.5 787.5L272 772.5L254.5 765L237.5 761.5L228.5 753.5L225.5 747.5L225.5 728.5L226.5 723L225.5 714L226 708L206.5 708L205.5 702.5L167 702L166.5 696L147.5 696L144 702.5L129 717.5Z"/>
<path fill="#c4ff43" d="M124 722.5L124 750L130.5 750.5L130.5 758.5L138 759L138 768L145.5 768.5L145.5 777L153 777.5L153 785.5L160.5 786L160.5 796.5L168.5 797L168.5 807.5L176 808L176 816L183 816L183.5 824L191 824.5L191 832.5L198.5 833L198.5 844L206 844L206.5 855.5L213.5 855.5L214 863L221.5 863.5L221.5 874L229.5 874.5L229.5 885.5L236.5 885.5L237 894.5L244.5 895L244.5 903.5L252 904L252 913L259.5 913L260 917L333.5 917L334.5 911.5L380 911L380.5 906.5L387.5 906.5L388 898.5L395 898.5L395 895L398.5 894.5L399 888.5L406 888.5L406 882.5L409 882L409 854L402 852L400.5 838.5L400.5 828L393.5 827.5L393.5 812.5L387 812L387 800L380.5 800L380 795.5L371 795L355 796.5L337.5 800.5L327 800L302 791.5L286.5 784.5L272 776.5L253 769L238.5 766.5L231.5 763.5L224.5 758L221 749L222.5 725.5L222.5 708L206.5 708L205.5 702.5L167 702L166.5 696L149.5 696L144.5 704L129 720Z"/>
<path fill="#acff58" d="M124 725L124 750L130.5 750.5L130.5 758.5L138 759L138 768L145.5 768.5L145.5 777L153 777.5L153 785.5L160.5 786L160.5 796.5L168.5 797L168.5 807.5L176 808L176 816L183 816L183.5 824L191 824.5L191 832.5L198.5 833L198.5 844L206 844L206.5 855.5L213.5 855.5L214 863L221.5 863.5L221.5 874L229.5 874.5L229.5 885.5L236.5 885.5L237 894.5L244.5 895L244.5 903.5L252 904L252 913L259.5 913L260 917L333.5 917L334.5 911.5L380 911L380.5 906.5L387.5 906.5L388 898.5L395 898.5L395 895L398.5 894.5L399 888.5L406 888.5L406 882.5L409 882L409 854L402 852L400.5 838.5L400.5 828L393.5 827.5L393.5 812.5L387 812L387 802.5L362.5 801.5L353 802L339.5 804.5L330 804.5L324.5 803.5L300.5 795.5L282 787L272 781L258.5 775.5L236.5 770.5L225.5 765.5L219.5 760L216.5 752L216.5 744.5L219.5 720L219 708L206.5 708L205.5 702.5L167 702L166.5 696L151.5 696L147.5 702.5L139 711L135.5 716L130 721.5Z"/>
<path fill="#95ff6d" d="M124 728L124 750L130.5 750.5L130.5 758.5L138 759L138 768L145.5 768.5L145.5 777L153 777.5L153 785.5L160.5 786L160.5 796.5L168.5 797L168.5 807.5L176 808L176 816L183 816L183.5 824L191 824.5L191 832.5L198.5 833L198.5 844L206 844L206.5 855.5L213.5 855.5L214 863L221.5 863.5L221.5 874L229.5 874.5L229.5 885.5L236.5 885.5L237 894.5L244.5 895L244.5 903.5L252 904L252 913L259.5 913L260 917L333.5 917L334.5 911.5L380 911L380.5 906.5L387.5 906.5L388 898.5L395 898.5L395 895L398.5 894.5L399 888.5L406 888.5L406 882.5L409 882L409 854L402 852L400.5 838.5L400.5 828L393.5 827.5L393.5 812.5L387.5 812.5L387 810.5L360 807.5L334 809L321 807L296.5 799L258 780L237 775.5L220 768L213.5 762L211 755.5L216 723L216 708L206.5 708L205.5 702.5L167 702L166.5 696L153.5 696L150.5 701L140.5 711.5L135.5 718.5L131 723Z"/>
<path fill="#7fff83" d="M124 731.5L124 750L130.5 750.5L130.5 758.5L138 759L138 768L145.5 768.5L145.5 777L153 777.5L153 785.5L160.5 786L160.5 796.5L168.5 797L168.5 807.5L176 808L176 816L183 816L183.5 824L191 824.5L191 832.5L198.5 833L198.5 844L206 844L206.5 855.5L213.5 855.5L214 863L221.5 863.5L221.5 874L229.5 874.5L229.5 885.5L236.5 885.5L237 894.5L244.5 895L244.5 903.5L252 904L252 913L259.5 913L260 917L333.5 917L334.5 911.5L380 911L380.5 906.5L387.5 906.5L388 898.5L395 898.5L395 895L398.5 894.5L399 888.5L406 888.5L406 882.5L409 882L409 854L402 852L400.5 838.5L400.5 828L393.5 827.5L393.5 818.5L383.5 819L354 813L346.5 814L333.5 814L321 812L313.5 809L305.5 807.5L292.5 803L253.5 783L241 781.5L230 778.5L214.5 771.5L209.5 768L205 763L203.5 756.5L205 751L208 745L208.5 740L211 732L213 721L213.5 709.5L213 708L206.5 708L205.5 702.5L167 702L166.5 696L155.5 696L153 700.5L143 711L136.5 720Z"/>
<path fill="#68ff98" d="M124 736.5L124 750L130.5 750.5L130.5 758.5L138 759L138 768L145.5 768.5L145.5 777L153 777.5L153 785.5L160.5 786L160.5 796.5L168.5 797L168.5 807.5L176 808L176 816L183 816L183.5 824L191 824.5L191 832.5L198.5 833L198.5 844L206 844L206.5 855.5L213.5 855.5L214 863L221.5 863.5L221.5 874L229.5 874.5L229.5 885.5L236.5 885.5L237 894.5L244.5 895L244.5 903.5L252 904L252 913L259.5 913L260 917L333.5 917L334.5 911.5L380 911L380.5 906.5L387.5 906.5L388 898.5L395 898.5L395 895L398.5 894.5L399 888.5L406 888.5L406 882.5L409 882L409 854L402 852L400.5 838.5L400.5 828L394 828L393 826.5L388.5 828.5L386 828.5L356 821L329 819.5L302.5 812.5L287 806.5L254 789.5L230.5 784.5L214 778.5L202 772L193.5 765.5L190 761L201.5 744.5L204.5 738.5L208 729L210 719.5L210.5 709.5L210 708L206 707.5L205.5 702.5L167 702L166.5 696L158 696L155.5 700L142 715L135 725L129 729.5Z"/>
<path fill="#58ffa7" d="M128 738L126 742L124 750L130.5 750.5L130.5 758.5L138 759L138 768L145.5 768.5L145.5 777L153 777.5L153 785.5L160.5 786L160.5 796.5L168.5 797L168.5 807.5L176 808L176 816L183 816L183.5 824L191 824.5L191 832.5L198.5 833L198.5 844L206 844L206.5 855.5L213.5 855.5L214 863L221.5 863.5L221.5 874L229.5 874.5L229.5 885.5L236.5 885.5L237 894.5L244.5 895L244.5 903.5L252 904L252 913L259.5 913L260 917L333.5 917L334.5 911.5L380 911L380.5 906.5L387.5 906.5L388 898.5L395 898.5L395 895L398.5 894.5L399 888.5L406 888.5L406 882.5L409 882L409 854L402 852L400.5 831L390 834.5L382.5 835L352.5 828.5L333.5 827L312 821.5L290.5 814.5L253 795.5L218.5 787L187.5 774L177 768.5L173.5 765L172 762L172 755.5L179.5 754L186 750.5L193 745L200 736.5L204 728.5L207.5 714.5L207 708L206 707.5L205 702.5L167 702L166.5 696L160 696L155.5 702.5L146.5 712L138 725Z"/>
<path fill="#48ffb5" d="M143 720.5L136 733.5L134 739.5L134 743L135.5 746.5L137 748L140.5 749L141.5 752L141.5 756.5L138 759L138 768L145.5 768.5L145.5 777L152.5 777L153 785.5L160.5 786L160.5 796.5L168.5 797L168.5 807.5L175.5 807.5L176 816L183 816L183.5 824L191 824.5L191 832.5L198.5 833L198.5 844L206 844L206.5 855.5L213.5 855.5L214 863L221.5 863.5L221.5 874L229.5 874.5L229.5 885.5L236.5 885.5L237 894.5L244.5 895L244.5 903.5L252 904L252 913L259.5 913L260 917L333.5 917L334.5 911.5L380 911L380.5 906.5L387.5 906.5L388 898.5L395 898.5L395 895L398.5 894.5L399 888.5L406 888.5L406 882.5L409 882L409 854L402 852L400.5 837L387 841.5L376.5 841.5L330 832.5L310.5 827.5L290.5 821L254.5 802.5L217 793L194.5 784.5L172 777.5L159 769.5L154.5 769.5L149 761.5L149 759L154.5 755L160.5 754.5L171 749L179.5 746.5L189 741L197 732.5L201 725L204 714.5L203.5 707.5L201.5 702.5L167 702L166.5 696L162.5 696L150.5 709.5Z"/>
<path fill="#38ffc4" d="M145.5 776.5L153 777.5L153 785.5L160.5 786L160.5 796.5L168.5 797L168.5 807.5L175.5 807.5L176 816L183 816L183.5 824L191 824.5L191 832.5L198.5 833L198.5 844L206.5 844.5L206.5 855.5L213.5 855.5L214 863L221.5 863.5L221.5 874L229.5 874.5L229.5 885.5L237 886L237 894.5L244 894.5L244.5 903.5L251.5 903.5L252 913L259.5 913L260 917L333.5 917L334.5 911.5L380 911L380.5 906.5L387.5 906.5L387.5 899L395 898.5L395 895L398.5 894.5L398.5 889L406 888.5L406 882.5L409 882L409 854L402 852L401 842.5L383.5 848.5L370.5 848.5L318.5 836L291 827.5L253.5 808.5L243.5 805.5L226 802L193 791L178.5 787.5L166.5 783.5L161.5 781L154.5 775.5ZM198 702.5L167 702L166.5 696L165.5 696L152.5 709.5L148 716.5L141 733L141 737L142.5 740.5L146.5 744.5L151 747L159.5 747.5L178 741.5L185.5 737.5L192.5 731L198 722L200.5 711.5Z"/>
<path fill="#28fdd8" d="M160.5 790.5L160.5 796.5L168.5 797L168.5 807.5L176 808L176 816L183 816L183.5 824L191 824.5L191 832.5L198.5 833L198.5 844L206.5 844.5L206.5 855.5L213.5 855.5L214 863L221.5 863.5L221.5 874L229.5 874.5L229.5 885.5L237 886L237 894.5L244 894.5L244.5 903.5L251.5 903.5L252 913L259.5 913L260 917L333.5 917L334.5 911.5L380 911L380.5 906.5L387.5 906.5L387.5 899L395 898.5L395 895L398.5 894.5L398.5 889L406 888.5L406 882.5L409 882L409 854L402.5 852.5L401.5 847.5L382 855.5L375 856.5L364 855.5L293.5 835L251.5 814L223 807.5L192.5 797.5L174.5 794.5ZM194.5 702.5L167 702L166 698L153 711.5L148.5 721L146.5 728.5L146.5 733.5L149 738.5L154.5 742L160.5 742L176 737.5L185 732.5L191.5 725.5L196.5 714.5L196.5 707.5Z"/>
<path fill="#18faeb" d="M168.5 802L168.5 807.5L176 808L176 816L183.5 816.5L183.5 824L191 824.5L191 832.5L198.5 833L198.5 844L206.5 844.5L206.5 855.5L213.5 855.5L214 863L221.5 863.5L221.5 874L229.5 874.5L229.5 885.5L237 886L237 894.5L244 894.5L244.5 903.5L251.5 903.5L252 913L259.5 913L260 917L333.5 917L334.5 911.5L380 911L380.5 906.5L387.5 906.5L387.5 899L395 898.5L395 895L398.5 894.5L398.5 889L406 888.5L406 882.5L409 882L409 854L401 852L394.5 855L387.5 860.5L376.5 863.5L365 864L359.5 863L339.5 857L312 846.5L295.5 842L260 824L248.5 819.5L225.5 814.5L192.5 804L186.5 803L171.5 803ZM190.5 702.5L167 702L166.5 700L154.5 712L151 723.5L151 729.5L153 733.5L158 736.5L165.5 736L177 732.5L183 729L189 722L193 713.5L193 707Z"/>
<path fill="#08f8ff" d="M176 809.5L176 816L183.5 816.5L183.5 824L191 824.5L191 832.5L198.5 833L198.5 844L206.5 844.5L206.5 855.5L213.5 855.5L214 863L221.5 863.5L221.5 874L229.5 874.5L229.5 885.5L237 886L237 894.5L244 894.5L244.5 903.5L251.5 903.5L252 913L259.5 913L260 917L333.5 917L334.5 911.5L380 911L380.5 906.5L387.5 906.5L387.5 899L395 898.5L395 895L398.5 894.5L398.5 889L406 888.5L406 882.5L409 882L409 855L406 855L399.5 857L387.5 865.5L378 870.5L368.5 873L358.5 872.5L346.5 868.5L314 853.5L292 847L253.5 827.5L243.5 824.5L224 820.5L194 810.5L188.5 809.5ZM186.5 703L185 702L167 702L157 713.5L155 721.5L155.5 727L160 730.5L166.5 731L176 728.5L182 725L187 718.5L190 710.5L190 708Z"/>
<path fill="#08e2ff" d="M176 816L183 816L183.5 824L191 824.5L191 832.5L198.5 833L198.5 844L206.5 844.5L206.5 855.5L213.5 855.5L214 863L221.5 863.5L221.5 874L229.5 874.5L229.5 885.5L237 886L237 894.5L244 894.5L244.5 903.5L251.5 903.5L252 913L259.5 913L260 917L333.5 917L334.5 911.5L380 911L380.5 906.5L387.5 906.5L387.5 899L395 898.5L395 895L398.5 894.5L398.5 889L406 888.5L406 882.5L409 882L409 859.5L404.5 859.5L398 862L383.5 875.5L371 882.5L367 883.5L360 883.5L351 881L345 878L334.5 871L313.5 860L289.5 852L254 834L242.5 830.5L219.5 825.5L194 816.5L188 815.5ZM182.5 704L179 702L171 702L167.5 704L160.5 714L160 721.5L161 723.5L165.5 726L170.5 726L176 724.5L180 722L183 718.5L185.5 713L185.5 708.5Z"/>
<path fill="#08ccff" d="M183.5 822L183.5 824L191 824.5L191 832.5L198.5 833L198.5 844L206.5 844.5L206.5 855.5L213.5 855.5L214 863L221.5 863.5L221.5 874L229.5 874.5L229.5 885.5L237 886L237 894.5L244 894.5L244.5 903.5L251.5 903.5L252 913L259.5 913L260 917L333.5 917L334.5 911.5L380 911L380.5 906.5L387.5 906.5L387.5 899L395 898.5L395 895L398.5 894.5L398.5 889L406 888.5L406 882.5L409 882L409 864L402.5 864L397 867L394.5 869.5L390 877.5L373.5 894L368.5 896.5L360.5 896L342 887L328.5 875.5L320.5 870.5L305 863L278.5 853L253 840L240 836L223.5 833L192 822ZM178.5 705L173 703.5L171 704L167 707.5L164.5 713L164.5 717.5L166.5 720.5L168.5 721.5L173.5 721.5L179.5 717L181.5 713L181.5 709.5Z"/>
<path fill="#08b6ff" d="M191 829L191 832.5L198.5 833L198.5 844L206.5 844.5L206.5 855.5L213.5 855.5L214 863L221.5 863.5L221.5 874L229.5 874.5L229.5 885.5L237 886L237 894.5L244 894.5L244.5 903.5L251.5 903.5L252 913L259.5 913L260 917L333.5 917L334.5 911.5L380 911L380.5 906.5L387.5 906.5L387.5 899L395 898.5L395 895L398.5 894.5L398.5 889L406 888.5L406 882.5L409 882L409 869L406 868L401 868.5L398 871L392.5 884L388 890L382.5 900L378.5 904.5L372.5 908L364 908L352.5 906L343.5 898L333 890.5L329.5 885.5L323.5 879.5L316 874.5L305 869L275.5 857.5L266 852L250.5 845L239 841.5L222.5 838.5ZM174.5 706L171.5 706L169.5 708L168.5 711L169.5 715.5L172 717.5L176.5 714L177.5 711.5L176.5 707.5Z"/>
<path fill="#08a0ff" d="M402 872.5L402.5 878.5L401.5 888.5L406 888.5L406 882.5L409 882L409 879.5ZM198.5 837.5L198.5 844L206.5 844.5L206.5 855.5L213.5 855.5L214 863L221.5 863.5L221.5 874L229.5 874.5L229.5 885.5L237 886L237 894.5L244 894.5L244.5 903.5L251.5 903.5L252 913L259.5 913L260 917L333.5 917L334.5 911.5L350 911.5L337.5 902.5L320 883.5L307 875.5L276 863L249 850L237 846.5L225.5 844.5L216.5 841.5L207.5 840.5Z"/>
<path fill="#068cff" d="M206.5 844.5L206.5 855.5L213.5 855.5L214 863L221.5 863.5L221.5 874L229.5 874.5L229.5 885.5L236.5 885.5L237 894.5L244.5 895L244.5 903.5L252 904L252 913L259.5 913L260 917L333.5 917L334.5 911.5L340 911.5L332 905.5L327.5 898.5L318 888L309.5 882L277.5 869L257 858.5L247 854.5L236.5 851.5L224.5 849.5L211.5 845Z"/>
<path fill="#0478ff" d="M206.5 848.5L206.5 855.5L213.5 855.5L214 863L221.5 863.5L221.5 874L229.5 874.5L229.5 885.5L236.5 885.5L237 894.5L244.5 895L244.5 903.5L252 904L252 913L259.5 913L260 917L333.5 917L334 913L328.5 907.5L322.5 899L314 890.5L309 887L301 883L273.5 872.5L252 861.5L240.5 857.5L225 854.5L209 848.5Z"/>
<path fill="#0264ff" d="M214 856L214 863L221.5 863.5L221.5 874L229.5 874.5L229.5 885.5L236.5 885.5L237 894.5L244.5 895L244.5 903.5L252 904L252 913L259.5 913L260 917L331 917L319 901L314 896L306 890.5L298 886.5L273.5 877.5L251.5 866.5L233.5 860.5ZM206.5 854.5L206.5 855.5L213 855.5Z"/>
<path fill="#0050ff" d="M214 862L214 863L221.5 863.5L221.5 874L229.5 874.5L229.5 885.5L237 886L237 894.5L244 894.5L244.5 903.5L251.5 903.5L252 913L259.5 913L260 917L325 917L318.5 906.5L311.5 899.5L297.5 891L276.5 884L255.5 873.5L227 863.5Z"/>
<path fill="#1440ff" d="M221.5 868.5L221.5 874L229.5 874.5L229.5 885.5L237 886L237 894.5L244 894.5L244.5 903.5L251.5 903.5L252 913L259.5 913L260 917L319.5 917L317 911L312 905.5L293.5 894L274 888.5L253.5 878L234 872L226.5 868.5Z"/>
<path fill="#113bff" d="M229.5 878L229.5 885.5L237 886L237 894.5L244 894.5L244.5 903.5L251.5 903.5L252 913L259.5 913L260 917L314 917L312.5 911.5L291.5 899.5L270 892.5L254.5 884.5Z"/>
<path fill="#0d35ff" d="M237 888L237 894.5L244 894.5L244.5 903.5L251.5 903.5L252 913L259.5 913L260 917L305 917L295 908.5L266.5 897.5L255 891Z"/>
<path fill="#0a30ff" d="M244.5 899L244.5 903.5L252 904L252 913L259.5 913L260 917L290 917L282 912L265 905.5L253.5 900L250 899Z"/>
</g></g>
<path d="M118.8 698.1V920.5M118.8 698.1H107.2M118.8 752.1H92.5M118.8 807.8H107.2M118.8 864.3H92.5M118.8 920.5H107.2M206.1 942.3H396.5M206.1 942.3V966.1M255.6 942.3V954.2M301.6 942.3V966.1M349.5 942.3V954.2M396.5 942.3V966.1" stroke="#2c2c2c" stroke-width="1.05" fill="none"/>
<text x="88" y="753.5" font-size="16" text-anchor="middle" textLength="54.4" lengthAdjust="spacingAndGlyphs" transform="rotate(-90 88 753.5)">28.4558</text>
<text x="88" y="868.4" font-size="16" text-anchor="middle" textLength="54.4" lengthAdjust="spacingAndGlyphs" transform="rotate(-90 88 868.4)">28.4554</text>
<text x="58.3" y="800.6" font-size="18.7" text-anchor="middle" textLength="95" lengthAdjust="spacingAndGlyphs" transform="rotate(-90 58.3 800.6)">Latitude (N)</text>
<text x="213.8" y="984.7" font-size="14.8" text-anchor="middle" textLength="60.1" lengthAdjust="spacingAndGlyphs">-17.8450</text>
<text x="296.3" y="985.5" font-size="14.8" text-anchor="middle" textLength="60.1" lengthAdjust="spacingAndGlyphs">-17.8445</text>
<text x="390.2" y="984.7" font-size="14.8" text-anchor="middle" textLength="60.1" lengthAdjust="spacingAndGlyphs">-17.8440</text>
<text x="307.9" y="1007.7" font-size="17.7" text-anchor="middle" textLength="114.8" lengthAdjust="spacingAndGlyphs">Longitude (W)</text>
<path d="M323.99 689.26L327.83 701.84L340.26 701.84L330.21 709.62L334.05 722.20L323.99 714.42L313.94 722.20L317.78 709.62L307.73 701.84L320.16 701.84Z" fill="#fff" stroke="#000" stroke-width="2.9" stroke-linejoin="miter" stroke-miterlimit="6"/>
<g clip-path="url(#cA4)"><g opacity=".999">
<rect x="539" y="705" width="283" height="219" fill="#0478ff"/>
<path fill="#0264ff" d="M539 713.5L539 762L544.5 762.5L544.5 772L552.5 772.5L552.5 782L560 782.5L560 792.5L567.5 793L567.5 803.5L575 804L575 813.5L583 814L583 823.5L590.5 824L590.5 832.5L598 833L598 841.5L605.5 842L605.5 850.5L613 851L613 858.5L621 859L621 867.5L628.5 868L628.5 876.5L636 877L636 885.5L643.5 886L643.5 895.5L651.5 896L651.5 904.5L659 905L659 912.5L666.5 913L666.5 917L670 917.5L670 924L751 924L751.5 918L800.5 917.5L800.5 909L808 908.5L808 900.5L811.5 900L811.5 894.5L818.5 894L818.5 888.5L822 888L822 852L815 851.5L815 835.5L807 835L807 819L800 818.5L800 805L793 804.5L793 793L784.5 792.5L784.5 786.5L781 786L781 780L774.5 779.5L774.5 774L771 773.5L771 767.5L763 767.5L762.5 757.5L755.5 757.5L755 750L748 750L747.5 746L744 745.5L744 739L738 739L737.5 733L731.5 733L731 727.5L699.5 727.5L699 721L660.5 721L660 718.5L651 715.5L622.5 715L621.5 713.5L604 710L591.5 710L579.5 713.5L558 714L550 715.5L542.5 715.5Z"/>
<path fill="#0050ff" d="M539 721.5L539 762L544.5 762.5L544.5 772L552.5 772.5L552.5 782L560 782.5L560 792.5L567.5 793L567.5 803.5L575 804L575 813.5L583 814L583 823.5L590.5 824L590.5 832.5L598 833L598 841.5L605.5 842L605.5 850.5L613 851L613 858.5L621 859L621 867.5L628.5 868L628.5 876.5L636 877L636 885.5L643.5 886L643.5 895.5L651.5 896L651.5 904.5L659 905L659 912.5L666.5 913L666.5 917L670 917.5L670 924L751 924L751.5 918L800.5 917.5L800.5 909L808 908.5L808 900.5L811.5 900L811.5 894.5L818.5 894L818.5 888.5L822 888L822 852L815 851.5L815 835.5L807 835L807 819L800 818.5L800 805L793 804.5L793 793L784.5 792.5L784.5 786.5L781 786L781 780L774.5 779.5L774.5 774L771 773.5L771 767.5L762.5 767L762.5 757.5L755.5 757.5L755 752L743.5 756.5L735.5 757L728.5 754L723 748.5L717 740L708.5 736L698 733.5L683 732L659 732.5L650 727.5L641 725L619 725L602.5 720L591.5 718.5L572.5 719.5L552.5 722L541.5 722.5Z"/>
<path fill="#1440ff" d="M539 726L539 762L544.5 762.5L544.5 772L552.5 772.5L552.5 782L560 782.5L560 792.5L567.5 793L567.5 803.5L575 804L575 813.5L583 814L583 823.5L590.5 824L590.5 832.5L598 833L598 841.5L605.5 842L605.5 850.5L613 851L613 858.5L621 859L621 867.5L628.5 868L628.5 876.5L636 877L636 885.5L643.5 886L643.5 895.5L651.5 896L651.5 904.5L659 905L659 912.5L666.5 913L666.5 917L670 917.5L670 924L751 924L751.5 918L800.5 917.5L800.5 909L808 908.5L808 900.5L811.5 900L811.5 894.5L818.5 894L818.5 888.5L822 888L822 852L815 851.5L815 835.5L807 835L807 819L800 818.5L800 805L793 804.5L793 793L784.5 792.5L784.5 786.5L781 786L781 780L774.5 779.5L774.5 774L771 773.5L771 767.5L763 767.5L762.5 765L747.5 768.5L737.5 769.5L723 762.5L708 750.5L701 748L683 743.5L660 740.5L654 738.5L649 735L632.5 734.5L615 732L588.5 726L582.5 724L579.5 722L574 725.5L563.5 728L551 728L546 727L542 725Z"/>
<path fill="#113bff" d="M539 734L539 762L544.5 762.5L544.5 772L552.5 772.5L552.5 782L560 782.5L560 792.5L567.5 793L567.5 803.5L575 804L575 813.5L583 814L583 823.5L590.5 824L590.5 832.5L598 833L598 841.5L605.5 842L605.5 850.5L613 851L613 858.5L621 859L621 867.5L628.5 868L628.5 876.5L636 877L636 885.5L643.5 886L643.5 895.5L651.5 896L651.5 904.5L659 905L659 912.5L666.5 913L666.5 917L670 917.5L670 924L751 924L751.5 918L800.5 917.5L800.5 909L808 908.5L808 900.5L811.5 900L811.5 894.5L818.5 894L818.5 888.5L822 888L822 852L815 851.5L815 835.5L807 835L807 819L800 818.5L800 805L793 804.5L793 793L784.5 792.5L784.5 786.5L781 786L781 780L775 780L774 779L745 780L739.5 779L715.5 771L691.5 759L674.5 752L628 744L608 738L596.5 737L584.5 734.5L574 734.5L559 736L542 733.5Z"/>
<path fill="#0d35ff" d="M539 743L539 762L544.5 762.5L544.5 772L552.5 772.5L552.5 782L560 782.5L560 792.5L567.5 793L567.5 803.5L575 804L575 813.5L583 814L583 823.5L590.5 824L590.5 832.5L598 833L598 841.5L605.5 842L605.5 850.5L613 851L613 858.5L621 859L621 867.5L628.5 868L628.5 876.5L636 877L636 885.5L643.5 886L643.5 895.5L651.5 896L651.5 904.5L659 905L659 912.5L666.5 913L666.5 917L670 917.5L670 924L751 924L751.5 918L800.5 917.5L800.5 909L808 908.5L808 900.5L811.5 900L811.5 894.5L818.5 894L818.5 888.5L822 888L822 852L815 851.5L815 835.5L807 835L807 819L800 818.5L800 805L793.5 805L793 800L784.5 802L767.5 794L757 796L748 795.5L736.5 791.5L728 784.5L716 785.5L705 783.5L687.5 775.5L676 767.5L668.5 760.5L658.5 762.5L648.5 762.5L636.5 760.5L619.5 754L609 746.5L600.5 748.5L589 748.5L556 745L542 742.5Z"/>
<path fill="#0a30ff" d="M539 755L539 762L544.5 762.5L544.5 772L552 772L552.5 782L560 782.5L560 792.5L567.5 793L567.5 803.5L575 804L575 813.5L583 814L583 823.5L590.5 824L590.5 832.5L598 833L598 841.5L605.5 842L605.5 850.5L613 851L613 858.5L621 859L621 867.5L628.5 868L628.5 876.5L636 877L636 885.5L643.5 886L643.5 895.5L651.5 896L651.5 904.5L659 905L659 912.5L666.5 913L666.5 917L670 917.5L670 924L751 924L751.5 918L800.5 917.5L800.5 909L808 908.5L808 900.5L811.5 900L811.5 894.5L818.5 894L818.5 888.5L822 888L822 854L821 852L815 851.5L815 842L811 835.5L807 835L807 830L791 814L780.5 822L764.5 831L761 834.5L757 841L746 831.5L732 823L719.5 818L708 816L704 812.5L693.5 806L669.5 794.5L660 791.5L648 790L638.5 785L607 772.5L597 770.5L589.5 770.5L582.5 765L569.5 759.5L548 755Z"/>
<path fill="#0b2dde" d="M544.5 771L544.5 772L552.5 772.5L552.5 782L560 782.5L560 792.5L567.5 793L567.5 803.5L575 804L575 813.5L583 814L583 823.5L590.5 824L590.5 832.5L598 833L598 841.5L605.5 842L605.5 850.5L613 851L613 858.5L621 859L621 867.5L628.5 868L628.5 876.5L636 877L636 885.5L643.5 886L643.5 895.5L651.5 896L651.5 904.5L659 905L659 912.5L666.5 913L666.5 917L670 917.5L670 924L751 924L751.5 918L794.5 917.5L787 909L783.5 902L779 885L779 873L768 855.5L766.5 860.5L762.5 865L753.5 869.5L746.5 863L728.5 854L712.5 842L690.5 830.5L678.5 826L668.5 824L658.5 817.5L642.5 810.5L623.5 804.5L609 802L606.5 798.5L597 790L571.5 775.5L556.5 771Z"/>
<path fill="#0b2ac4" d="M560 788.5L560 792.5L567.5 793L567.5 803.5L575 804L575 813.5L583 814L583 823.5L590.5 824L590.5 832.5L598 833L598 841.5L605.5 842L605.5 850.5L612.5 850.5L613 858.5L621 859L621 867.5L628.5 868L628.5 876.5L636 877L636 885.5L643.5 886L643.5 895.5L651 895.5L651.5 904.5L658.5 904.5L659 912.5L666.5 913L666.5 917L670 917.5L670 924L751 924L751.5 918L760 918L747.5 893L726 872L697 855L678.5 845.5L663.5 840.5L642 830.5L626.5 825L613 819L588 801.5L575 794.5L565.5 788Z"/>
<path fill="#0a26b2" d="M583 817.5L583 823.5L590.5 824L590.5 832.5L598 833L598 841.5L605.5 842L605.5 850.5L612.5 850.5L613 858.5L621 859L621 867.5L628.5 868L628.5 876.5L636 877L636 885.5L643.5 886L643.5 895.5L651 895.5L651.5 904.5L658.5 904.5L659 912.5L666.5 913L666.5 917L670 917.5L670 924L729.5 924L722.5 901.5L718 893L711.5 887.5L689 873.5L663.5 863.5L650.5 857L639 849.5L625 846L611.5 840L602 833.5L594 825.5L589.5 818Z"/>
</g></g>
<path d="M532.2 707.8V931.3M532.2 707.8H520.8M532.2 763.8H508.7M532.2 820H520.8M532.2 876.2H508.7M532.2 931.3H520.8M622.2 954.2H812.7M622.2 954.2V977.8M670.3 954.2V966.1M716.9 954.2V977.8M763.9 954.2V966.1M812.7 954.2V977.8" stroke="#2c2c2c" stroke-width="1.05" fill="none"/>
<text x="501.9" y="765.4" font-size="16" text-anchor="middle" textLength="54.4" lengthAdjust="spacingAndGlyphs" transform="rotate(-90 501.9 765.4)">28.4558</text>
<text x="501.9" y="880.3" font-size="16" text-anchor="middle" textLength="54.4" lengthAdjust="spacingAndGlyphs" transform="rotate(-90 501.9 880.3)">28.4554</text>
<text x="472.7" y="813" font-size="18.7" text-anchor="middle" textLength="95" lengthAdjust="spacingAndGlyphs" transform="rotate(-90 472.7 813)">Latitude (N)</text>
<text x="628.8" y="997.2" font-size="14.8" text-anchor="middle" textLength="60.1" lengthAdjust="spacingAndGlyphs">-17.8450</text>
<text x="711.3" y="998" font-size="14.8" text-anchor="middle" textLength="60.1" lengthAdjust="spacingAndGlyphs">-17.8445</text>
<text x="804.4" y="997.2" font-size="14.8" text-anchor="middle" textLength="60.1" lengthAdjust="spacingAndGlyphs">-17.8440</text>
<text x="722.4" y="1019.9" font-size="17.7" text-anchor="middle" textLength="114.8" lengthAdjust="spacingAndGlyphs">Longitude (W)</text>
<path d="M736.24 701.16L740.08 713.74L752.51 713.74L742.46 721.52L746.29 734.11L736.24 726.33L726.19 734.11L730.03 721.52L719.98 713.74L732.40 713.74Z" fill="#fff" stroke="#000" stroke-width="2.9" stroke-linejoin="miter" stroke-miterlimit="6"/>
<g clip-path="url(#cB1)"><g opacity=".999">
<rect x="1101" y="181" width="199" height="297" fill="#e7240c"/>
<path fill="#ff2808" d="M1155 181L1145.5 185.5L1137.5 187.5L1137.5 192L1132 196.5L1132 209L1126.5 211.5L1126.5 225L1121.5 226.5L1121.5 240L1116 242L1116 256.5L1111 258.5L1106.5 264.5L1105.5 278L1101 282.5L1101 306L1127.5 344L1132 345L1152.5 368.5L1153 375L1168.5 398.5L1173.5 399.5L1189 417L1189.5 423.5L1216 462L1222.5 464.5L1230.5 478L1237.5 478L1242.5 469.5L1243 450L1248 446L1248 430.5L1253 424L1253 417L1258.5 408.5L1258.5 392L1263.5 386.5L1264 366.5L1273.5 348L1273.5 331L1278.5 322.5L1279 306L1284 300.5L1284 286.5L1289 281L1289 258L1295 257L1295.5 234L1300 232.5L1300 220L1295 218.5L1294.5 211.5L1264.5 211.5L1263.5 204.5L1233 204L1232 196.5L1206.5 195.5L1205 188.5L1175.5 188L1174 181Z"/>
<path fill="#ff2a0c" d="M1168.5 181L1146.5 189L1138 191L1132 196.5L1132 209L1126.5 211.5L1126.5 225L1121.5 226.5L1121.5 240L1116 242L1116 256.5L1111 258.5L1106.5 264.5L1105.5 278L1101 282.5L1101 306L1127.5 344L1132 345L1152.5 368.5L1153 375L1168.5 398.5L1173.5 399.5L1189 417L1189.5 423.5L1216 462L1222.5 464.5L1230.5 478L1237.5 478L1242.5 469.5L1243 450L1248 446L1248 430.5L1253 424L1253 417L1258.5 408.5L1258.5 392L1263.5 386.5L1264 366.5L1273.5 348L1273.5 331L1278.5 322.5L1279 306L1284 300.5L1284 286.5L1289 281L1289 258L1295 257L1295.5 234L1300 232.5L1300 220L1295 218.5L1294.5 211.5L1264.5 211.5L1263.5 204.5L1233 204L1232 196.5L1206.5 195.5L1205 188.5L1175.5 188L1174 181Z"/>
<path fill="#ff2c10" d="M1174 183.5L1161.5 188L1132 196.5L1132 209L1126.5 211.5L1126.5 225L1121.5 226.5L1121.5 240L1116 242L1116 256.5L1111 258.5L1106.5 264.5L1105.5 278L1101 282.5L1101 306L1127.5 344L1132 345L1152.5 368.5L1153 375L1168.5 398.5L1173.5 399.5L1189 417L1189.5 423.5L1216 462L1222.5 464.5L1230.5 478L1237.5 478L1242.5 469.5L1243 450L1248 446L1248 430.5L1253 424L1253 417L1258.5 408.5L1258.5 392L1263.5 386.5L1264 366.5L1273.5 348L1273.5 331L1278.5 322.5L1279 306L1284 300.5L1284 286.5L1289 281L1289 258L1295 257L1295.5 234L1300 232.5L1300 220L1295 218.5L1294.5 211.5L1264.5 211.5L1263.5 204.5L1233 204L1232 196.5L1206.5 195.5L1205 188.5L1175.5 188Z"/>
<path fill="#ff4208" d="M1174.5 187L1132 200L1132 209L1126.5 211.5L1126.5 225L1121.5 226.5L1121.5 240L1116 242L1116 256.5L1111 258.5L1106.5 264.5L1105.5 278L1101 282.5L1101 306L1127.5 344L1132 345L1152.5 368.5L1153 375L1168.5 398.5L1173.5 399.5L1189 417L1189.5 423.5L1216 462L1222.5 464.5L1230.5 478L1237.5 478L1242.5 469.5L1243 450L1248 446L1248 430.5L1253 424L1253 417L1258.5 408.5L1258.5 392L1263.5 386.5L1264 366.5L1273.5 348L1273.5 331L1278.5 322.5L1279 306L1284 300.5L1284 286.5L1289 281L1289 258L1295 257L1295.5 234L1300 232.5L1300 220L1295 218.5L1294.5 211.5L1264.5 211.5L1263.5 204.5L1233 204L1232 196.5L1206.5 195.5L1205 188.5L1175.5 188Z"/>
<path fill="#ff5800" d="M1182 188L1132 203L1132 209L1126.5 211.5L1126.5 225L1121.5 226.5L1121.5 240L1116 242L1116 256.5L1111 258.5L1106 265.5L1105.5 278L1101 282.5L1101 306L1127.5 344L1132 345L1152.5 368.5L1153 375L1168.5 398.5L1173.5 399.5L1189 417L1189.5 423.5L1216 462L1222.5 464.5L1230.5 478L1237.5 478L1242.5 469.5L1243 450L1248 446L1248 430.5L1253 424L1253 417L1258.5 408.5L1258.5 392L1263.5 386.5L1264 366.5L1273.5 348L1273.5 331L1278.5 322.5L1279 306L1284 300.5L1284 286.5L1289 281L1289 258L1295 257L1295.5 234L1300 232.5L1300 220L1295 218.5L1294.5 211.5L1264.5 211.5L1263.5 204.5L1233 204L1232 196.5L1206.5 195.5L1205 188.5Z"/>
<path fill="#ff6c00" d="M1189.5 188.5L1170.5 195L1132 206L1132 209L1126.5 211.5L1126.5 225L1121.5 226.5L1121.5 240L1116 242L1116 256.5L1111 258.5L1106.5 264.5L1105.5 278L1101 282.5L1101 306L1127.5 344L1132 345L1152.5 368.5L1153 375L1168.5 398.5L1173.5 399.5L1189 417L1189.5 423.5L1216 462L1222.5 464.5L1230.5 478L1237.5 478L1242.5 469.5L1243 450L1248 446L1248 430.5L1253 424L1253 417L1258.5 408.5L1258.5 392L1263.5 386.5L1264 366.5L1273.5 348L1273.5 331L1278.5 322.5L1279 306L1284 300.5L1284 286.5L1289 281L1289 258L1295 257L1295.5 234L1300 232.5L1300 220L1295 218.5L1294.5 211.5L1264.5 211.5L1263.5 204.5L1233 204L1232 196.5L1206.5 195.5L1205 188.5Z"/>
<path fill="#ff8000" d="M1198 188.5L1182 194.5L1137 207.5L1126.5 211.5L1126.5 225L1121.5 226.5L1121.5 240L1116 242L1116 256.5L1111 258.5L1106.5 264.5L1105.5 278L1101 282.5L1101 306L1127.5 344L1132 345L1152.5 368.5L1153 375L1168.5 398.5L1173.5 399.5L1189 417L1189.5 423.5L1216 462L1222.5 464.5L1230.5 478L1237.5 478L1242.5 469.5L1243 450L1248 446L1248 430.5L1253 424L1253 417L1258.5 408.5L1258.5 392L1263.5 386.5L1264 366.5L1273.5 348L1273.5 331L1278.5 322.5L1279 306L1284 300.5L1284 286.5L1289 281L1289 258L1295 257L1295.5 234L1300 232.5L1300 220L1295 218.5L1294.5 211.5L1264.5 211.5L1263.5 204.5L1233 204L1232 196.5L1206.5 195.5L1205 188.5Z"/>
<path fill="#ff9400" d="M1204.5 189.5L1187 196L1126.5 214L1126.5 225L1121.5 226.5L1121.5 240L1116 242L1116 256.5L1111 258.5L1106.5 264.5L1105.5 278L1101 282.5L1101 306L1127.5 344L1132 345L1152.5 368.5L1153 375L1168.5 398.5L1173.5 399.5L1189 417L1189.5 423.5L1216 462L1222.5 464.5L1230.5 478L1237.5 478L1242.5 469.5L1243 450L1248 446L1248 430.5L1253 424L1253 417L1258.5 408.5L1258.5 392L1263.5 386.5L1264 366.5L1273.5 348L1273.5 331L1278.5 322.5L1279 306L1284 300.5L1284 286.5L1289 281L1289 258L1295 257L1295.5 234L1300 232.5L1300 220L1295 218.5L1294.5 211.5L1264.5 211.5L1263.5 204.5L1233 204L1232 196.5L1206.5 195.5L1205.5 190.5Z"/>
<path fill="#ffa800" d="M1205 193L1191 198L1182 200L1174.5 203L1162 206L1126.5 217L1126.5 225L1121.5 226.5L1121.5 240L1116 242L1116 256.5L1111 258.5L1106.5 264.5L1105.5 278L1101 282.5L1101 306L1127.5 344L1132 345L1152.5 368.5L1153 375L1168.5 398.5L1173.5 399.5L1189 417L1189.5 423.5L1216 462L1222.5 464.5L1230.5 478L1237.5 478L1242.5 469.5L1243 450L1248 446L1248 430.5L1253 424L1253 417L1258.5 408.5L1258.5 392L1263.5 386.5L1264 366.5L1273.5 348L1273.5 331L1278.5 322.5L1279 306L1284 300.5L1284 286.5L1289 281L1289 258L1295 257L1295.5 234L1300 232.5L1300 220L1295 218.5L1294.5 211.5L1264.5 211.5L1263.5 204.5L1233 204L1232 196.5L1206.5 195.5Z"/>
<path fill="#ffbc00" d="M1208 195.5L1193.5 200.5L1126.5 220L1126.5 225L1121.5 226.5L1121.5 240L1116 242L1116 256.5L1111 258.5L1106 265.5L1105.5 278L1101 282.5L1101 306L1127.5 344L1132 345L1152.5 368.5L1153 375L1168.5 398.5L1173.5 399.5L1189 417L1189.5 423.5L1216 462L1222.5 464.5L1230.5 478L1237.5 478L1242.5 469.5L1243 450L1248 446L1248 430.5L1253 424L1253 417L1258.5 408.5L1258.5 392L1263.5 386.5L1264 366.5L1273.5 348L1273.5 331L1278.5 322.5L1279 306L1284 300.5L1284 286.5L1289 281L1289 258L1295 257L1295.5 234L1300 232.5L1300 220L1295 218.5L1294.5 211.5L1264.5 211.5L1263.5 204.5L1233 204L1232 196.5Z"/>
<path fill="#ffd000" d="M1218 196L1126.5 223.5L1126.5 225L1125 226L1121.5 226.5L1121.5 240L1116 242L1116 256.5L1111 258.5L1106.5 264.5L1105.5 278L1101 282.5L1101 306L1127.5 344L1132 345L1152.5 368.5L1153 375L1168.5 398.5L1173.5 399.5L1189 417L1189.5 423.5L1216 462L1222.5 464.5L1230.5 478L1237.5 478L1242.5 469.5L1243 450L1248 446L1248 430.5L1253 424L1253 417L1258.5 408.5L1258.5 392L1263.5 386.5L1264 366.5L1273.5 348L1273.5 331L1278.5 322.5L1279 306L1284 300.5L1284 286.5L1289 281L1289 258L1295 257L1295.5 234L1300 232.5L1300 220L1295 218.5L1294.5 211.5L1264.5 211.5L1263.5 204.5L1233 204L1232 196.5Z"/>
<path fill="#ffe400" d="M1228.5 196.5L1121.5 228.5L1121.5 240L1116 242L1116 256.5L1111 258.5L1106.5 264.5L1105.5 278L1101 282.5L1101 306L1127.5 344L1132 345L1152.5 368.5L1153 375L1168.5 398.5L1173.5 399.5L1189 417L1189.5 423.5L1216 462L1222.5 464.5L1230.5 478L1237.5 478L1242.5 469.5L1243 450L1248 446L1248 430.5L1253 424L1253 417L1258.5 408.5L1258.5 392L1263.5 386.5L1264 366.5L1273.5 348L1273.5 331L1278.5 322.5L1279 306L1284 300.5L1284 286.5L1289 281L1289 258L1295 257L1295.5 234L1300 232.5L1300 220L1295 218.5L1294.5 211.5L1264.5 211.5L1263.5 204.5L1233 204L1232 196.5Z"/>
<path fill="#fff800" d="M1231.5 199L1121.5 232L1121.5 240L1116 242L1116 256.5L1111 258.5L1106.5 264.5L1105.5 278L1101 282.5L1101 306L1127.5 344L1132 345L1152.5 368.5L1153 375L1168.5 398.5L1173.5 399.5L1189 417L1189.5 423.5L1216 462L1222.5 464.5L1230.5 478L1237.5 478L1242.5 469.5L1243 450L1248 446L1248 430.5L1253 424L1253 417L1258.5 408.5L1258.5 392L1263.5 386.5L1264 366.5L1273.5 348L1273.5 331L1278.5 322.5L1279 306L1284 300.5L1284 286.5L1289 281L1289 258L1295 257L1295.5 234L1300 232.5L1300 220L1295 218.5L1294.5 211.5L1264.5 211.5L1263.5 204.5L1233 204Z"/>
<path fill="#f4ff18" d="M1232 202.5L1121.5 235.5L1121.5 240L1116 242L1116 256.5L1111 258.5L1106.5 264.5L1105.5 278L1101 282.5L1101 306L1127.5 344L1132 345L1152.5 368.5L1153 375L1168.5 398.5L1173.5 399.5L1189 417L1189.5 423.5L1216 462L1222.5 464.5L1230.5 478L1237.5 478L1242.5 469.5L1243 450L1248 446L1248 430.5L1253 424L1253 417L1258.5 408.5L1258.5 392L1263.5 386.5L1264 366.5L1273.5 348L1273.5 331L1278.5 322.5L1279 306L1284 300.5L1284 286.5L1289 281L1289 258L1295 257L1295.5 234L1300 232.5L1300 220L1295 218.5L1294.5 211.5L1264.5 211.5L1263.5 204.5L1233 204Z"/>
<path fill="#dcff2d" d="M1263.5 204.5L1239 204L1122 239L1120.5 241L1116 242L1116 256.5L1111 258.5L1106.5 264.5L1105.5 278L1101 282.5L1101.5 307L1127.5 344L1132 345L1152.5 368.5L1153 375L1168.5 398.5L1173.5 399.5L1189 417L1189 422.5L1216 462L1222.5 464.5L1230.5 478L1237.5 478L1242.5 469.5L1243 450L1248 446L1248 430.5L1253 424L1253 417L1258.5 408.5L1258.5 392L1263.5 386.5L1264 366.5L1273.5 348L1273.5 331L1278.5 322.5L1279 306L1284 300.5L1284 286.5L1289 281L1289 258L1295 257L1295.5 234L1300 232.5L1300 220L1295 218.5L1294.5 211.5L1264.5 211.5Z"/>
<path fill="#c4ff43" d="M1263.5 204.5L1249.5 204.5L1116.5 244.5L1116 256.5L1111 258.5L1106.5 264.5L1105.5 278L1101 282.5L1101.5 307L1127.5 344L1132 345L1152.5 368.5L1153 375L1168.5 398.5L1173.5 399.5L1189 417L1189 422.5L1216 462L1222.5 464.5L1230.5 478L1237.5 478L1242.5 469.5L1243 450L1248 446L1248 430.5L1253 424L1253 417L1258.5 408.5L1258.5 392L1263.5 386.5L1264 366.5L1273.5 348L1273.5 331L1278.5 322.5L1279 306L1284 300.5L1284 286.5L1289 281L1289 258L1295 257L1295.5 234L1300 232.5L1300 220L1295 218.5L1294.5 211.5L1264.5 211.5Z"/>
<path fill="#acff58" d="M1263.5 204.5L1116 248.5L1116 256.5L1111 258.5L1106.5 264.5L1105.5 278L1101 282.5L1101.5 307L1127.5 344L1132 345L1152.5 368.5L1153 375L1168.5 398.5L1173.5 399.5L1189 417L1189 422.5L1216 462L1222.5 464.5L1230.5 478L1237.5 478L1242.5 469.5L1243 450L1248 446L1248 430.5L1253 424L1253 417L1258.5 408.5L1258.5 392L1263.5 386.5L1264 366.5L1273.5 348L1273.5 331L1278.5 322.5L1279 306L1284 300.5L1284 286.5L1289 281L1289 258L1295 257L1295.5 234L1300 232.5L1300 220L1295 218.5L1294.5 211.5L1264.5 211.5Z"/>
<path fill="#95ff6d" d="M1294.5 211.5L1264.5 211.5L1264 208.5L1262 208L1116 252L1116 256.5L1111 258.5L1106.5 264.5L1105.5 278L1101 282.5L1101.5 307L1127.5 344L1132 345L1152.5 368.5L1153 375L1168.5 398.5L1173.5 399.5L1189 417L1189 422.5L1216 462L1222.5 464.5L1230.5 478L1237.5 478L1242.5 469.5L1243 450L1248 446L1248 430.5L1253 424L1253 417L1258.5 408.5L1258.5 392L1263.5 386.5L1264 366.5L1273.5 348L1273.5 331L1278.5 322.5L1279 306L1284 300.5L1284 286.5L1289 281L1289 258L1295 257L1295.5 234L1300 232.5L1300 220L1295 218.5Z"/>
<path fill="#7fff83" d="M1294.5 211.5L1264 211L1116 255.5L1115 257.5L1111 258.5L1106.5 264.5L1105.5 278L1101 282.5L1101.5 307L1127.5 344L1132 345L1152.5 368.5L1153 375L1168.5 398.5L1173.5 399.5L1189 417L1189 422.5L1216 462L1222.5 464.5L1230.5 478L1237.5 478L1242.5 469.5L1243 450L1248 446L1248 430.5L1253 424L1253 417L1258.5 408.5L1258.5 392L1263.5 386.5L1264 366.5L1273.5 348L1273.5 331L1278.5 322.5L1279 306L1284 300.5L1284 286.5L1289 281L1289 258L1295 257L1295.5 234L1300 232.5L1300 220L1295 218.5Z"/>
<path fill="#68ff98" d="M1294.5 211.5L1272 212L1259.5 216.5L1250.5 218.5L1241 222L1109.5 261L1106 265.5L1105.5 278L1101 282.5L1101.5 307L1127.5 344L1132 345L1152.5 368.5L1153 375L1168.5 398.5L1173.5 399.5L1189 417L1189 422.5L1216 462L1222.5 464.5L1230.5 478L1237.5 478L1242.5 469.5L1243 450L1248 446L1248 430.5L1253 424L1253 417L1258.5 408.5L1258.5 392L1263.5 386.5L1264 366.5L1273.5 348L1273.5 331L1278.5 322.5L1279 306L1284 300.5L1284 286.5L1289 281L1289 258L1295 257L1295.5 234L1300 232.5L1300 220L1295 218.5Z"/>
<path fill="#58ffa7" d="M1294.5 211.5L1284.5 212.5L1270 216L1260.5 219.5L1106 265.5L1105.5 278L1101 282.5L1101.5 307L1127.5 344L1132 345L1152.5 368.5L1153 375L1168.5 398.5L1173.5 399.5L1189 417L1189 422.5L1216 462L1222.5 464.5L1230.5 478L1237.5 478L1242.5 469.5L1243 450L1248 446L1248 430.5L1253 424L1253 417L1258.5 408.5L1258.5 392L1263.5 386.5L1264 366.5L1273.5 348L1273.5 331L1278.5 322.5L1279 306L1284 300.5L1284 286.5L1289 281L1289 258L1295 257L1295.5 234L1300 232.5L1300 220L1295 218.5Z"/>
<path fill="#48ffb5" d="M1295 215.5L1288.5 215.5L1273 218.5L1205.5 239.5L1106 269L1105.5 278L1101 282.5L1101.5 307L1127.5 344L1132 345L1152.5 368.5L1153 375L1168.5 398.5L1173.5 399.5L1189 417L1189 422.5L1216 462L1222.5 464.5L1230.5 478L1237.5 478L1242.5 469.5L1243 450L1248 446L1248 430.5L1253 424L1253 417L1258.5 408.5L1258.5 392L1263.5 386.5L1264 366.5L1273.5 348L1273.5 331L1278.5 322.5L1279 306L1284 300.5L1284 286.5L1289 281L1289 258L1295 257L1295.5 234L1300 232.5L1300 220L1295.5 219Z"/>
<path fill="#38ffc4" d="M1299 219.5L1285 219.5L1276.5 221L1190.5 247.5L1105.5 272.5L1105.5 278L1101 282.5L1101.5 307L1127.5 344L1132 345L1152.5 368.5L1153 375L1168.5 398.5L1173.5 399.5L1189 417L1189 422.5L1216 462L1222.5 464.5L1230.5 478L1237.5 478L1242.5 469.5L1243 450L1248 446L1248 430.5L1253 424L1253 417L1258.5 408.5L1258.5 392L1263.5 386.5L1264 366.5L1273.5 348L1273.5 331L1278.5 322.5L1279 306L1284 300.5L1284 286.5L1289 281L1289 258L1295 257L1295.5 234L1300 232.5L1300 220Z"/>
<path fill="#28fdd8" d="M1300 224L1286 223L1275 225L1192.5 250.5L1105.5 276L1105.5 278L1101 282.5L1101.5 307L1127.5 344L1132 345L1152.5 368.5L1153 375L1168.5 398.5L1173.5 399.5L1189 417L1189 422.5L1216 462L1222.5 464.5L1230.5 478L1237.5 478L1242.5 469.5L1243 450L1248 446L1248 430.5L1253 424L1253 417L1258.5 408.5L1258.5 392L1263.5 386.5L1264 366.5L1273.5 348L1273.5 331L1278.5 322.5L1279 306L1284 300.5L1284 286.5L1289 281L1289 258L1295 257L1295.5 234L1300 232.5Z"/>
<path fill="#18faeb" d="M1299.5 228.5L1292 227L1283 227L1276 228.5L1250 237L1105 280L1101 282.5L1101.5 307L1127.5 344L1132 345L1152.5 368.5L1153 375L1168.5 398.5L1173.5 399.5L1189 417L1189 422.5L1216 462L1222.5 464.5L1230.5 478L1237.5 478L1242.5 469.5L1243 450L1248 446L1248 430.5L1253 424L1253 417L1258.5 408.5L1258.5 392L1263.5 386.5L1264 366.5L1273.5 348L1273.5 331L1278.5 322.5L1279 306L1284 300.5L1284 286.5L1289 281L1289 258L1295 257L1295.5 234L1300 232.5Z"/>
<path fill="#08f8ff" d="M1293 231.5L1279.5 231.5L1249 241.5L1239.5 243.5L1135 275.5L1105 284L1101 286.5L1101.5 307L1127.5 344L1132 345L1152.5 368.5L1153 375L1168.5 398.5L1173.5 399.5L1189 417L1189 422.5L1216 462L1222.5 464.5L1230.5 478L1237.5 478L1242.5 469.5L1243 450L1248 446L1248 430.5L1253 424L1253 417L1258.5 408.5L1258.5 392L1263.5 386.5L1264 366.5L1273.5 348L1273.5 331L1278.5 322.5L1279 306L1284 300.5L1284 286.5L1289 281L1289 258L1295 257L1295.5 234L1297 233Z"/>
<path fill="#08e2ff" d="M1289 235L1283.5 235.5L1270.5 240.5L1262 242L1252.5 245.5L1238 248.5L1211.5 256L1134.5 280L1114 285.5L1105 289L1101 292.5L1101.5 307L1127.5 344L1132 345L1152.5 368.5L1153 375L1168.5 398.5L1173.5 399.5L1189 417L1189 422.5L1216 462L1222.5 464.5L1230.5 478L1237.5 478L1242.5 469.5L1243 450L1248 446L1248 430.5L1253 424L1253 417L1258.5 408.5L1258.5 392L1263.5 386.5L1264 366.5L1273.5 348L1273.5 331L1278.5 322.5L1279 306L1284 300.5L1284 286.5L1289 281L1289 258L1295 257L1295.5 239Z"/>
<path fill="#08ccff" d="M1279.5 248.5L1267 248.5L1255 251.5L1241.5 253L1205 262L1113 291L1107 294L1101 299.5L1101.5 307L1128 344.5L1132 345L1152.5 368.5L1153 375L1168.5 398.5L1173.5 399.5L1189 417L1189 422.5L1216 462L1222.5 464.5L1230.5 478L1237.5 478L1242.5 469.5L1243 450L1248 446L1248 430.5L1253 424L1253 417L1258.5 408.5L1258.5 392L1263.5 386.5L1264 366.5L1273.5 348L1273.5 331L1278.5 322.5L1279 306L1284 300.5L1284 286.5L1289 281L1289 258L1295 257L1290 253L1284 252Z"/>
<path fill="#08b6ff" d="M1246.5 259.5L1236.5 259.5L1208 265.5L1158.5 281L1144.5 287L1113 297L1106.5 302L1103 308L1127.5 344L1132 345L1152.5 368.5L1153 375L1168.5 398.5L1173.5 399.5L1189 417L1189 422.5L1216 462L1222.5 464.5L1230.5 478L1237.5 478L1242.5 469.5L1243 450L1248 446L1248 430.5L1253 424L1253 417L1258.5 408.5L1258.5 392L1263.5 386.5L1264 366.5L1273.5 348L1273.5 331L1278.5 322.5L1279 306L1284 300.5L1284 291.5L1276 289L1276.5 283.5L1275.5 278.5L1270.5 269L1268 266.5L1262.5 263.5Z"/>
<path fill="#08a0ff" d="M1239 265.5L1230 268L1211.5 269.5L1202.5 271.5L1176.5 281L1162.5 284.5L1145.5 293.5L1134.5 297L1126 301.5L1112.5 304.5L1111 320.5L1127.5 344L1132 345L1152.5 368.5L1153 375L1168.5 398.5L1173.5 399.5L1189 417L1189 422.5L1216 462L1222.5 464.5L1230.5 478L1237.5 478L1242.5 469.5L1243 450L1248 446L1248 430.5L1253 424L1253 417L1258.5 408.5L1258.5 392L1263.5 386.5L1264 366.5L1273.5 348L1273.5 331L1278 323.5L1268.5 319L1265.5 307.5L1257 289L1245.5 271.5Z"/>
<path fill="#068cff" d="M1208 275L1195 279.5L1181.5 285.5L1172 288.5L1164.5 289.5L1146 304.5L1141 309.5L1138 315L1129.5 344.5L1132 345L1152.5 368.5L1153 375L1168.5 398.5L1173.5 399.5L1189 417L1189.5 423.5L1216 462L1222.5 464.5L1230.5 478L1237.5 478L1242.5 469.5L1243 450L1248 446L1248 430.5L1253 424L1253 417L1258.5 408.5L1258.5 392L1263.5 386.5L1264 366.5L1273.5 348L1267 342L1259 330L1252.5 317L1244 296L1236 282.5L1232.5 279.5L1228 277.5L1215 275Z"/>
<path fill="#0478ff" d="M1205 283.5L1195.5 286L1175.5 298L1169 303.5L1164.5 310L1161.5 316.5L1159 326L1158.5 349.5L1156 358.5L1152 367L1152.5 374L1168.5 398.5L1173.5 399.5L1189 417L1189.5 423.5L1216 462L1222.5 464.5L1230.5 478L1237.5 478L1242.5 469.5L1243 450L1248 446L1248 430.5L1253 424L1253 417L1258.5 408.5L1258.5 392L1263.5 386.5L1264 366.5L1256 359L1248.5 339L1224.5 293.5L1217 286L1211.5 283.5Z"/>
<path fill="#0264ff" d="M1201.5 305L1198 306.5L1194 311L1180 339L1175 361L1176 387.5L1172.5 394L1168.5 398.5L1173.5 399.5L1189 417L1189.5 423.5L1216 462L1222.5 464.5L1230.5 478L1237.5 478L1242.5 469.5L1243 450L1248 446L1248 430.5L1253 424L1253 417L1258.5 408.5L1258.5 392L1263 387L1255.5 380L1246.5 367.5L1241.5 357.5L1239 349L1225 327L1207.5 307.5Z"/>
<path fill="#0050ff" d="M1209 342L1199.5 364L1194.5 378.5L1193.5 389.5L1187.5 415.5L1189 417L1189.5 423.5L1216 462L1222.5 464.5L1230.5 478L1237.5 478L1242.5 469.5L1243 450L1248 446L1248 430.5L1253 424L1253 417L1258.5 408L1248.5 399L1241 387.5L1235.5 377L1216 355L1212 349.5Z"/>
<path fill="#1440ff" d="M1218.5 398L1214 400.5L1211 405L1209.5 410.5L1208 425L1205 432L1200.5 439L1216 462L1222.5 464.5L1230.5 478L1237.5 478L1242.5 469.5L1243 450L1248 446L1248 431.5L1245.5 430L1235 410L1230 402.5L1224.5 398.5Z"/>
<path fill="#113bff" d="M1222 450.5L1216.5 455.5L1214.5 458.5L1215 460.5L1216.5 462.5L1222.5 464.5L1230.5 478L1237.5 478L1242.5 469.5L1243 454L1240.5 452L1233.5 449L1229 448.5Z"/>
</g></g>
<path d="M1037.2 173.8V435.4M1037.2 173.8H1013.9M1037.2 227.8H1025.8M1037.2 279.5H1013.9M1037.2 331H1025.8M1037.2 382.8H1013.9M1037.2 435.4H1025.8M1097.5 483.3H1306M1097.5 483.3V508.2M1168.4 483.3V495.2M1235.7 483.3V508.2M1306 483.3V495.2" stroke="#2c2c2c" stroke-width="1.05" fill="none"/>
<text x="1008.2" y="180.1" font-size="16" text-anchor="middle" textLength="54.4" lengthAdjust="spacingAndGlyphs" transform="rotate(-90 1008.2 180.1)">28.4567</text>
<text x="1008.2" y="285.9" font-size="16" text-anchor="middle" textLength="54.4" lengthAdjust="spacingAndGlyphs" transform="rotate(-90 1008.2 285.9)">28.4566</text>
<text x="1008.2" y="386.4" font-size="16" text-anchor="middle" textLength="54.4" lengthAdjust="spacingAndGlyphs" transform="rotate(-90 1008.2 386.4)">28.4565</text>
<text x="983" y="286.7" font-size="18.7" text-anchor="middle" textLength="95" lengthAdjust="spacingAndGlyphs" transform="rotate(-90 983 286.7)">Latitude (N)</text>
<text x="1098.6" y="526.2" font-size="14.8" text-anchor="middle" textLength="60.1" lengthAdjust="spacingAndGlyphs">-17.8473</text>
<text x="1234.3" y="524.3" font-size="14.8" text-anchor="middle" textLength="60.1" lengthAdjust="spacingAndGlyphs">-17.8471</text>
<text x="1206.3" y="552.5" font-size="17.7" text-anchor="middle" textLength="114.8" lengthAdjust="spacingAndGlyphs">Longitude (W)</text>
<path d="M1137.13 151.05L1140.97 163.63L1153.39 163.63L1143.34 171.41L1147.18 183.99L1137.13 176.22L1127.07 183.99L1130.91 171.41L1120.86 163.63L1133.29 163.63Z" fill="#fff" stroke="#000" stroke-width="2.9" stroke-linejoin="miter" stroke-miterlimit="6"/>
<g clip-path="url(#cB2)"><g opacity=".999">
<rect x="1051" y="676" width="283" height="267" fill="#ff2c10"/>
<path fill="#ff4208" d="M1065 676L1065 695L1057.5 697L1057.5 717.5L1051 719L1051 752.5L1065 765.5L1066 773.5L1072.5 780.5L1072.5 787.5L1088 802.5L1088 809.5L1095.5 816.5L1095.5 823.5L1125.5 851L1132 851L1156 872L1162.5 872L1185 893.5L1193 894L1215.5 915L1223.5 915L1247 935.5L1254 937L1260.5 943L1274 943L1276 937L1282 935.5L1290.5 928.5L1297.5 928.5L1326.5 901L1334 901L1334 887.5L1326.5 882.5L1326.5 874L1282 835.5L1281.5 826L1275 824.5L1274 817.5L1236.5 781.5L1236.5 774.5L1230.5 770L1214.5 754L1206.5 752L1206 747L1199 740L1191 736.5L1191 733L1184 726L1183.5 718L1177 716.5L1175.5 711.5L1162 711.5L1161 705L1154 703.5L1153.5 697.5L1139.5 697L1138 690L1131.5 689L1130.5 682.5L1109 682.5L1108.5 676L1079 676L1072 682L1069.5 682Z"/>
<path fill="#ff5800" d="M1065 681L1065 695L1057.5 697L1057.5 717.5L1051 719L1051 752.5L1065 765.5L1066 773.5L1072.5 780.5L1072.5 787.5L1088 802.5L1088 809.5L1095.5 816.5L1095.5 823.5L1125.5 851L1132 851L1156 872L1162.5 872L1185 893.5L1193 894L1215.5 915L1223.5 915L1247 935.5L1254 937L1260.5 943L1274 943L1276 937L1282 935.5L1290.5 928.5L1297.5 928.5L1326.5 901L1334 901L1334 887.5L1326.5 882.5L1326.5 874L1282 835.5L1281.5 826L1275 824.5L1274 817.5L1236.5 781.5L1236.5 774.5L1230.5 770L1214.5 754L1206.5 752L1206 747L1199 740L1191 736.5L1191 733L1184 726L1183.5 718L1177 716.5L1175.5 711.5L1162 711.5L1161 705L1154 703.5L1153.5 697.5L1139.5 697L1138 690L1131.5 689L1130.5 682.5L1109 682.5L1108.5 676L1085.5 676L1081.5 680L1072.5 684L1068 683.5Z"/>
<path fill="#ff6c00" d="M1065 684L1065 695L1057.5 697L1057.5 717.5L1051 719L1051 752.5L1065 765.5L1066 773.5L1072.5 780.5L1072.5 787.5L1088 802.5L1088 809.5L1095.5 816.5L1095.5 823.5L1125.5 851L1132 851L1156 872L1162.5 872L1185 893.5L1193 894L1215.5 915L1223.5 915L1247 935.5L1254 937L1260.5 943L1274 943L1276 937L1282 935.5L1290.5 928.5L1297.5 928.5L1326.5 901L1334 901L1334 887.5L1326.5 882.5L1326.5 874L1282 835.5L1281.5 826L1275 824.5L1274 817.5L1236.5 781.5L1236.5 774.5L1230.5 770L1214.5 754L1206.5 752L1206 747L1199 740L1191 736.5L1191 733L1184 726L1183.5 718L1177 716.5L1175.5 711.5L1162 711.5L1161 705L1154 703.5L1153.5 697.5L1139.5 697L1138 690L1131.5 689L1130.5 682.5L1109 682.5L1108.5 676L1091 676L1084 682.5L1074.5 685.5L1068.5 685.5Z"/>
<path fill="#ff8000" d="M1065 686L1065 695L1057.5 697L1057.5 717.5L1051 719L1051 752.5L1065 765.5L1066 773.5L1072.5 780.5L1072.5 787.5L1088 802.5L1088 809.5L1095.5 816.5L1095.5 823.5L1125.5 851L1132 851L1156 872L1162.5 872L1185 893.5L1193 894L1215.5 915L1223.5 915L1247 935.5L1254 937L1260.5 943L1274 943L1276 937L1282 935.5L1290.5 928.5L1297.5 928.5L1326.5 901L1334 901L1334 887.5L1326.5 882.5L1326.5 874L1282 835.5L1281.5 826L1275 824.5L1274 817.5L1236.5 781.5L1236.5 774.5L1230.5 770L1214.5 754L1206.5 752L1206 747L1199 740L1191 736.5L1191 733L1184 726L1183.5 718L1177 716.5L1175.5 711.5L1162 711.5L1161 705L1154 703.5L1153.5 697.5L1139.5 697L1138 690L1131.5 689L1130.5 682.5L1109 682.5L1108.5 676L1096.5 676L1086 684L1077 687L1070.5 687.5Z"/>
<path fill="#ff9400" d="M1057.5 697L1057.5 717.5L1051 719L1051 752.5L1065 765.5L1066 773.5L1072.5 780.5L1072.5 787.5L1088 802.5L1088 809.5L1095.5 816.5L1095.5 823.5L1125.5 851L1132 851L1156 872L1162.5 872L1185 893.5L1193 894L1215.5 915L1223.5 915L1247 935.5L1254 937L1260.5 943L1274 943L1276 937L1282 935.5L1290.5 928.5L1297.5 928.5L1326.5 901L1334 901L1334 887.5L1326.5 882.5L1326.5 874L1282 835.5L1281.5 826L1275 824.5L1274 817.5L1236.5 781.5L1236.5 774.5L1230.5 770L1214.5 754L1206.5 752L1206 747L1199 740L1191 736.5L1191 733L1184 726L1183.5 718L1177 716.5L1175.5 711.5L1162 711.5L1161 705L1154 703.5L1153.5 697.5L1139.5 697L1138 690L1131.5 689L1130.5 682.5L1109 682.5L1108.5 676L1102 676L1098.5 679.5L1092 683.5L1081.5 688L1077 689L1069 689L1065 688L1065 695Z"/>
<path fill="#ffa800" d="M1057.5 697L1057.5 717.5L1051 719L1051 752.5L1065 765.5L1066 773.5L1072.5 780.5L1072.5 787.5L1088 802.5L1088 809.5L1095.5 816.5L1095.5 823.5L1125.5 851L1132 851L1156 872L1162.5 872L1185 893.5L1193 894L1215.5 915L1223.5 915L1247 935.5L1254 937L1260.5 943L1274 943L1276 937L1282 935.5L1290.5 928.5L1297.5 928.5L1326.5 901L1334 901L1334 887.5L1326.5 882.5L1326.5 874L1282 835.5L1281.5 826L1275 824.5L1274 817.5L1236.5 781.5L1236.5 774.5L1230.5 770L1214.5 754L1206.5 752L1206 747L1199 740L1191 736.5L1191 733L1184 726L1183.5 718L1177 716.5L1175.5 711.5L1162 711.5L1161 705L1154 703.5L1153.5 697.5L1139.5 697L1138 690L1131.5 689L1130.5 682.5L1109 682.5L1108.5 676L1107 676L1102 681.5L1091 687L1082 690L1075.5 691L1065 690L1064.5 695.5Z"/>
<path fill="#ffbc00" d="M1057.5 697L1057.5 717.5L1051 719L1051 752.5L1065 765.5L1066 773.5L1072.5 780.5L1072.5 787.5L1088 802.5L1088 809.5L1095.5 816.5L1095.5 823.5L1125.5 851L1132 851L1156 872L1162.5 872L1185 893.5L1193 894L1215.5 915L1223.5 915L1247 935.5L1254 937L1260.5 943L1274 943L1276 937L1282 935.5L1290.5 928.5L1297.5 928.5L1326.5 901L1334 901L1334 887.5L1326.5 882.5L1326.5 874L1282 835.5L1281.5 826L1275 824.5L1274 817.5L1236.5 781.5L1236.5 774.5L1230.5 770L1214.5 754L1206.5 752L1206 747L1199 740L1191 736.5L1191 733L1184 726L1183.5 718L1177 716.5L1175.5 711.5L1162 711.5L1161 705L1154 703.5L1153.5 697.5L1139.5 697L1138 690L1131.5 689L1130.5 682.5L1109 682.5L1108.5 679L1104.5 682.5L1091.5 689.5L1080 692.5L1065 692L1064.5 695.5Z"/>
<path fill="#ffd000" d="M1057.5 697L1057.5 717.5L1051 719L1051 752.5L1065 765.5L1066 773.5L1072.5 780.5L1072.5 787.5L1088 802.5L1088 809.5L1095.5 816.5L1095.5 823.5L1125.5 851L1132 851L1156 872L1162.5 872L1185 893.5L1193 894L1215.5 915L1223.5 915L1247 935.5L1254 937L1260.5 943L1274 943L1276 937L1282 935.5L1290.5 928.5L1297.5 928.5L1326.5 901L1334 901L1334 887.5L1326.5 882.5L1326.5 874L1282 835.5L1281.5 826L1275 824.5L1274 817.5L1236.5 781.5L1236.5 774.5L1230.5 770L1214.5 754L1206.5 752L1206 747L1199 740L1191 736.5L1191 733L1184 726L1183.5 718L1177 716.5L1175.5 711.5L1162 711.5L1161 705L1154 703.5L1153.5 697.5L1139.5 697L1138 690L1131.5 689L1130.5 682.5L1109.5 682.5L1102 686L1097 690L1092.5 692L1081 694.5L1065 693.5L1065 695L1063.5 696Z"/>
<path fill="#ffe400" d="M1057.5 697L1057.5 717.5L1051 719L1051 752.5L1065 765.5L1066 773.5L1072.5 780.5L1072.5 787.5L1088 802.5L1088 809.5L1095.5 816.5L1095.5 823.5L1125.5 851L1132 851L1156 872L1162.5 872L1185 893.5L1193 894L1215.5 915L1223.5 915L1247 935.5L1254 937L1260.5 943L1274 943L1276 937L1282 935.5L1290.5 928.5L1297.5 928.5L1326.5 901L1334 901L1334 887.5L1326.5 882.5L1326.5 874L1282 835.5L1281.5 826L1275 824.5L1274 817.5L1236.5 781.5L1236.5 774.5L1230.5 770L1214.5 754L1206.5 752L1206 747L1199 740L1191 736.5L1191 733L1184 726L1183.5 718L1177 716.5L1175.5 711.5L1162 711.5L1161 705L1154 703.5L1153.5 697.5L1139.5 697L1138 690L1131.5 689L1130.5 682.5L1115 682.5L1111 685.5L1104.5 688L1096.5 693.5L1087 696L1074 696.5L1064 695.5Z"/>
<path fill="#fff800" d="M1057.5 697L1057.5 717.5L1051 719L1051 752.5L1065 765.5L1066 773.5L1072.5 780.5L1072.5 787.5L1088 802.5L1088 809.5L1095.5 816.5L1095.5 823.5L1125.5 851L1132 851L1156 872L1162.5 872L1185 893.5L1193 894L1215.5 915L1223.5 915L1247 935.5L1254 937L1260.5 943L1274 943L1276 937L1282 935.5L1290.5 928.5L1297.5 928.5L1326.5 901L1334 901L1334 887.5L1326.5 882.5L1326.5 874L1282 835.5L1281.5 826L1275 824.5L1274 817.5L1236.5 781.5L1236.5 774.5L1230.5 770L1214.5 754L1206.5 752L1206 747L1199 740L1191 736.5L1191 733L1184 726L1183.5 718L1177 716.5L1175.5 711.5L1162 711.5L1161 705L1154 703.5L1153.5 697.5L1139.5 697L1138 690L1131.5 689L1130.5 682.5L1121 682.5L1115 687L1098.5 696L1088 698.5L1074.5 698.5L1071 697.5Z"/>
<path fill="#f4ff18" d="M1057.5 698.5L1057.5 717.5L1051 719L1051 752.5L1065 765.5L1066 773.5L1072.5 780.5L1072.5 787.5L1088 802.5L1088 809.5L1095.5 816.5L1095.5 823.5L1125.5 851L1132 851L1156 872L1162.5 872L1185 893.5L1193 894L1215.5 915L1223.5 915L1247 935.5L1254 937L1260.5 943L1274 943L1276 937L1282 935.5L1290.5 928.5L1297.5 928.5L1326.5 901L1334 901L1334 887.5L1326.5 882.5L1326.5 874L1282 835.5L1281.5 826L1275 824.5L1274 817.5L1236.5 781.5L1236.5 774.5L1230.5 770L1214.5 754L1206.5 752L1206 747L1199 740L1191 736.5L1191 733L1184 726L1183.5 718L1177 716.5L1175.5 711.5L1162 711.5L1161 705L1154 703.5L1153.5 697.5L1139.5 697L1138 690L1131.5 689L1130.5 682.5L1126 682.5L1119.5 688L1102 697.5L1096.5 699.5L1088 701L1078.5 701L1071 699.5L1061.5 699.5Z"/>
<path fill="#dcff2d" d="M1057.5 700.5L1057.5 717.5L1051 719L1051 752.5L1065 765.5L1066 773.5L1072.5 780.5L1072.5 787.5L1088 802.5L1088 809.5L1095.5 816.5L1095.5 823.5L1125.5 851L1132 851L1156 872L1162.5 872L1185 893.5L1193 894L1215.5 915L1223.5 915L1247 935.5L1254 937L1260.5 943L1274 943L1276 937L1282 935.5L1290.5 928.5L1297.5 928.5L1326.5 901L1334 901L1334 887.5L1326.5 882.5L1326.5 874L1282 835.5L1281.5 826L1275 824.5L1274 817.5L1236.5 781.5L1236.5 774.5L1230.5 770L1214.5 754L1206.5 752L1206 747L1199 740L1191 736.5L1191 733L1184 726L1183.5 718L1177 716.5L1175.5 711.5L1162 711.5L1161 705L1154 703.5L1153.5 697.5L1139.5 697L1138 690L1131.5 689L1130.5 682.5L1129.5 682.5L1125 688.5L1103 700L1097 702L1083 703.5L1060.5 701.5Z"/>
<path fill="#c4ff43" d="M1057.5 702.5L1057.5 717.5L1051 719L1051 752.5L1065 765.5L1066 773.5L1072.5 780.5L1072.5 787.5L1088 802.5L1088 809.5L1095.5 816.5L1095.5 823.5L1125.5 851L1132 851L1156 872L1162.5 872L1185 893.5L1193 894L1215.5 915L1223.5 915L1247 935.5L1254 937L1260.5 943L1274 943L1276 937L1282 935.5L1290.5 928.5L1297.5 928.5L1326.5 901L1334 901L1334 887.5L1326.5 882.5L1326.5 874L1282 835.5L1281.5 826L1275 824.5L1274 817.5L1236.5 781.5L1236.5 774.5L1230.5 770L1214.5 754L1206.5 752L1206 747L1199 740L1191 736.5L1191 733L1184 726L1183.5 718L1177 716.5L1175.5 711.5L1162 711.5L1161 705L1154 703.5L1153.5 697.5L1139.5 697L1138 690L1132 689.5L1131 685.5L1125.5 691L1105 702L1097 704.5L1079.5 705.5L1071 704L1062.5 704Z"/>
<path fill="#acff58" d="M1057.5 705L1057.5 717.5L1051 719L1051 752.5L1065 765.5L1066 773.5L1072.5 780.5L1072.5 787.5L1088 802.5L1088 809.5L1095.5 816.5L1095.5 823.5L1125.5 851L1132 851L1156 872L1162.5 872L1185 893.5L1193 894L1215.5 915L1223.5 915L1247 935.5L1254 937L1260.5 943L1274 943L1276 937L1282 935.5L1290.5 928.5L1297.5 928.5L1326.5 901L1334 901L1334 887.5L1326.5 882.5L1326.5 874L1282 835.5L1281.5 826L1275 824.5L1274 817.5L1236.5 781.5L1236.5 774.5L1230.5 770L1214.5 754L1206.5 752L1206 747L1199 740L1191 736.5L1191 733L1184 726L1183.5 718L1177 716.5L1175.5 711.5L1162 711.5L1161 705L1154 703.5L1153.5 697.5L1139.5 697L1138 690L1131.5 689L1128 692L1111 702L1099 706.5L1083 708Z"/>
<path fill="#95ff6d" d="M1057.5 706.5L1057.5 717.5L1051 719L1051 752.5L1065 765.5L1066 773.5L1072.5 780.5L1072.5 787.5L1088 802.5L1088 809.5L1095.5 816.5L1095.5 823.5L1125.5 851L1132 851L1156 872L1162.5 872L1185 893.5L1193 894L1215.5 915L1223.5 915L1247 935.5L1254 937L1260.5 943L1274 943L1276 937L1282 935.5L1290.5 928.5L1297.5 928.5L1326.5 901L1334 901L1334 887.5L1326.5 882.5L1326.5 874L1282 835.5L1281.5 826L1275 824.5L1274 817.5L1236.5 781.5L1236.5 774.5L1230.5 770L1214.5 754L1206.5 752L1206 747L1199 740L1191 736.5L1191 733L1184 726L1183.5 718L1177 716.5L1175.5 711.5L1162 711.5L1161 705L1154 703.5L1153.5 697.5L1139.5 697L1138 690L1134.5 689.5L1129 694L1121 698L1112.5 704L1100.5 708.5L1091 710L1079.5 710Z"/>
<path fill="#7fff83" d="M1057.5 708.5L1057.5 717.5L1051 719L1051 752.5L1065 765.5L1066 773.5L1072.5 780.5L1072.5 787.5L1088 802.5L1088 809.5L1095.5 816.5L1095.5 823.5L1125.5 851L1132 851L1156 872L1162.5 872L1185 893.5L1193 894L1215.5 915L1223.5 915L1247 935.5L1254 937L1260.5 943L1274 943L1276 937L1282 935.5L1290.5 928.5L1297.5 928.5L1326.5 901L1334 901L1334 887.5L1326.5 882.5L1326.5 874L1282 835.5L1281.5 826L1275 824.5L1274 817.5L1236.5 781.5L1236.5 774.5L1230.5 770L1214.5 754L1206.5 752L1206 747L1199 740L1191 736.5L1191 733L1184 726L1183.5 718L1177 716.5L1175.5 711.5L1162 711.5L1161 705L1154 703.5L1153.5 697.5L1139.5 697L1138 690L1136.5 690L1132.5 694.5L1124 698.5L1112.5 707L1102 710.5L1093.5 712L1082.5 712.5Z"/>
<path fill="#68ff98" d="M1051 719L1051 752.5L1065 765.5L1066 773.5L1072.5 780.5L1072.5 787.5L1088 802.5L1088 809.5L1095.5 816.5L1095.5 823.5L1125.5 851L1132 851L1156 872L1162.5 872L1185 893.5L1193 894L1215.5 915L1223.5 915L1247 935.5L1254 937L1260.5 943L1274 943L1276 937L1282 935.5L1290.5 928.5L1297.5 928.5L1326.5 901L1334 901L1334 887.5L1326.5 882.5L1326.5 874L1282 835.5L1281.5 826L1275 824.5L1274 817.5L1236.5 781.5L1236.5 774.5L1230.5 770L1214.5 754L1206.5 752L1206 747L1199 740L1191 736.5L1191 733L1184 726L1183.5 718L1177 716.5L1175.5 711.5L1162 711.5L1161 705L1154 703.5L1153.5 697.5L1139.5 697L1138 691.5L1134 695.5L1124.5 700.5L1114 709L1107.5 711.5L1092 714.5L1079.5 714.5L1069.5 712L1057.5 710.5L1057.5 717.5Z"/>
<path fill="#58ffa7" d="M1051 719L1051 752.5L1065 765.5L1066 773.5L1072.5 780.5L1072.5 787.5L1088 802.5L1088 809.5L1095.5 816.5L1095.5 823.5L1125.5 851L1132 851L1156 872L1162.5 872L1185 893.5L1193 894L1215.5 915L1223.5 915L1247 935.5L1254 937L1260.5 943L1274 943L1276 937L1282 935.5L1290.5 928.5L1297.5 928.5L1326.5 901L1334 901L1334 887.5L1326.5 882.5L1326.5 874L1282 835.5L1281.5 826L1275 824.5L1274 817.5L1236.5 781.5L1236.5 774.5L1230.5 770L1214.5 754L1206.5 752L1206 747L1199 740L1191 736.5L1191 733L1184 726L1183.5 718L1177 716.5L1175.5 711.5L1162 711.5L1161 705L1154 703.5L1153.5 697.5L1139.5 697L1138.5 694L1124.5 703L1113.5 711.5L1107.5 714L1095 716.5L1083 717L1067.5 713.5L1057.5 712.5L1057.5 717.5Z"/>
<path fill="#48ffb5" d="M1051 719L1051 752.5L1065 765.5L1066 773.5L1072.5 780.5L1072.5 787.5L1088 802.5L1088 809.5L1095.5 816.5L1095.5 823.5L1125.5 851L1132 851L1156 872L1162.5 872L1185 893.5L1193 894L1215.5 915L1223.5 915L1247 935.5L1254 937L1260.5 943L1274 943L1276 937L1282 935.5L1290.5 928.5L1297.5 928.5L1326.5 901L1334 901L1334 887.5L1326.5 882.5L1326.5 874L1282 835.5L1281.5 826L1275 824.5L1274 817.5L1236.5 781.5L1236.5 774.5L1230.5 770L1214.5 754L1206.5 752L1206 747L1199 740L1191 736.5L1191 733L1184 726L1183.5 718L1177 716.5L1175.5 711.5L1162 711.5L1161 705L1154 703.5L1153.5 697.5L1139.5 697L1139 696L1131.5 700.5L1114 713.5L1106 717L1093.5 719L1080.5 719L1068.5 715.5L1057.5 714L1057 718Z"/>
<path fill="#38ffc4" d="M1051 719L1051 752.5L1065 765.5L1066 773.5L1072.5 780.5L1072.5 787.5L1088 802.5L1088 809.5L1095.5 816.5L1095.5 823.5L1125.5 851L1132 851L1156 872L1162.5 872L1185 893.5L1193 894L1215.5 915L1223.5 915L1247 935.5L1254 937L1260.5 943L1274 943L1276 937L1282 935.5L1290.5 928.5L1297.5 928.5L1326.5 901L1334 901L1334 887.5L1326.5 882.5L1326.5 874L1282 835.5L1281.5 826L1275 824.5L1274 817.5L1236.5 781.5L1236.5 774.5L1230.5 770L1214.5 754L1206.5 752L1206 747L1199 740L1191 736.5L1191 733L1184 726L1183.5 718L1177 716.5L1175.5 711.5L1162 711.5L1161 705L1154 703.5L1153.5 697.5L1141 697L1132.5 702L1114 716L1102.5 720.5L1079.5 721L1061.5 716L1057.5 716L1057 718Z"/>
<path fill="#28fdd8" d="M1051 719L1051 752.5L1065 765.5L1066 773.5L1072.5 780.5L1072.5 787.5L1088 802.5L1088 809.5L1095.5 816.5L1095.5 823.5L1125.5 851L1132 851L1156 872L1162.5 872L1185 893.5L1193 894L1215.5 915L1223.5 915L1247 935.5L1254 937L1260.5 943L1274 943L1276 937L1282 935.5L1290.5 928.5L1297.5 928.5L1326.5 901L1334 901L1334 887.5L1326.5 882.5L1326.5 874L1282 835.5L1281.5 826L1275 824.5L1274 817.5L1236.5 781.5L1236.5 774.5L1230.5 770L1214.5 754L1206.5 752L1206 747L1199 740L1191 736.5L1191 733L1184 726L1183.5 718L1177 716.5L1175.5 711.5L1162 711.5L1161 705L1154 703.5L1153.5 697.5L1145 697L1135.5 702L1128 709L1120.5 713.5L1115.5 718L1105 722.5L1099.5 723.5L1082.5 723L1076.5 722L1064 718L1056 718Z"/>
<path fill="#18faeb" d="M1051 719.5L1051 752.5L1065 765.5L1066 773.5L1072.5 780.5L1072.5 787.5L1088 802.5L1088 809.5L1095.5 816.5L1095.5 823.5L1125.5 851L1132 851L1156 872L1162.5 872L1185 893.5L1193 894L1215.5 915L1223.5 915L1247 935.5L1254 937L1260.5 943L1274 943L1276 937L1282 935.5L1290.5 928.5L1297.5 928.5L1326.5 901L1334 901L1334 887.5L1326.5 882.5L1326.5 874L1282 835.5L1281.5 826L1275 824.5L1274 817.5L1236.5 781.5L1236.5 774.5L1230.5 770L1214.5 754L1206.5 752L1206 747L1199 740L1191 736.5L1191 733L1184 726L1183.5 718L1177 716.5L1175.5 711.5L1162 711.5L1161 705L1154.5 704L1153.5 697.5L1148 697.5L1136.5 704.5L1130 710.5L1116.5 720.5L1106 725L1089 725.5L1077.5 724L1063 719.5Z"/>
<path fill="#08f8ff" d="M1051 722L1051 752.5L1065 765.5L1066 773.5L1072.5 780.5L1072.5 787.5L1088 802.5L1088 809.5L1095.5 816.5L1095.5 823.5L1125.5 851L1132 851L1156 872L1162.5 872L1185 893.5L1193 894L1215.5 915L1223.5 915L1247 935.5L1254 937L1260.5 943L1274 943L1276 937L1282 935.5L1290.5 928.5L1297.5 928.5L1326.5 901L1334 901L1334 887.5L1326.5 882.5L1326.5 874L1282 835.5L1281.5 826L1275 824.5L1274 817.5L1236.5 781.5L1236.5 774.5L1230.5 770L1214.5 754L1206.5 752L1206 747L1199 740L1191 736.5L1191 733L1184 726L1183.5 718L1177 716.5L1175.5 711.5L1162 711.5L1161 705L1154 703.5L1153.5 697.5L1152 697.5L1145.5 702.5L1139 706L1115.5 724.5L1107.5 727.5L1093.5 728L1076.5 725.5L1062 721.5Z"/>
<path fill="#08e2ff" d="M1051 724L1051 752.5L1065 765.5L1066 773.5L1072.5 780.5L1072.5 787.5L1088 802.5L1088 809.5L1095.5 816.5L1095.5 823.5L1125.5 851L1132 851L1156 872L1162.5 872L1185 893.5L1193 894L1215.5 915L1223.5 915L1247 935.5L1254 937L1260.5 943L1274 943L1276 937L1282 935.5L1290.5 928.5L1297.5 928.5L1326.5 901L1334 901L1334 887.5L1326.5 882.5L1326.5 874L1282 835.5L1281.5 826L1275 824.5L1274 817.5L1236.5 781.5L1236.5 774.5L1230.5 770L1214.5 754L1206.5 752L1206 747L1199 740L1191 736.5L1191 733L1184 726L1183.5 718L1177 716.5L1175.5 711.5L1162 711.5L1161 705L1154.5 704L1153.5 699.5L1140 708.5L1119.5 725.5L1110 730L1095.5 730.5L1075 727L1061.5 723.5Z"/>
<path fill="#08ccff" d="M1051 726L1051 752.5L1065 765.5L1066 773.5L1072.5 780.5L1072.5 787.5L1088 802.5L1088 809.5L1095.5 816.5L1095.5 823.5L1125.5 851L1132 851L1156 872L1162.5 872L1185 893.5L1193 894L1215.5 915L1223.5 915L1247 935.5L1254 937L1260.5 943L1274 943L1276 937L1282 935.5L1290.5 928.5L1297.5 928.5L1326.5 901L1334 901L1334 887.5L1326.5 882.5L1326.5 874L1282 835.5L1281.5 826L1275 824.5L1274 817.5L1236.5 781.5L1236.5 774.5L1230.5 770L1214.5 754L1206.5 752L1206 747L1199 740L1191 736.5L1191 733L1184 726L1183.5 718L1177 716.5L1175.5 711.5L1162 711.5L1161 705L1154.5 704L1154 702L1141 711L1131.5 720L1116.5 731.5L1107.5 733.5L1095 733L1060.5 725.5Z"/>
<path fill="#08b6ff" d="M1051 728L1051 752.5L1065 765.5L1066 773.5L1072.5 780.5L1072.5 787.5L1088 802.5L1088 809.5L1095.5 816.5L1095.5 823.5L1125.5 851L1132 851L1156 872L1162.5 872L1185 893.5L1193 894L1215.5 915L1223.5 915L1247 935.5L1254 937L1260.5 943L1274 943L1276 937L1282 935.5L1290.5 928.5L1297.5 928.5L1326.5 901L1334 901L1334 887.5L1326.5 882.5L1326.5 874L1282 835.5L1281.5 826L1275 824.5L1274 817.5L1236.5 781.5L1236.5 774.5L1230.5 770L1214.5 754L1206.5 752L1206 747L1199 740L1191 736.5L1191 733L1184 726L1183.5 718L1177 716.5L1175.5 711.5L1162 711.5L1161 705L1155 704L1152 707L1142.5 713L1135 721L1125.5 727.5L1118.5 734.5L1111.5 736L1098 736.5L1094.5 735L1064 728Z"/>
<path fill="#08a0ff" d="M1051 730L1051 752.5L1065 765.5L1066 773.5L1072.5 780.5L1072.5 787.5L1088 802.5L1088 809.5L1095.5 816.5L1095.5 823.5L1125.5 851L1132 851L1156 872L1162.5 872L1185 893.5L1193 894L1215.5 915L1223.5 915L1247 935.5L1254 937L1260.5 943L1274 943L1276 937L1282 935.5L1290.5 928.5L1297.5 928.5L1326.5 901L1334 901L1334 887.5L1326.5 882.5L1326.5 874L1282 835.5L1281.5 826L1275 824.5L1274 817.5L1236.5 781.5L1236.5 774.5L1230.5 770L1214.5 754L1206.5 752L1206 747L1199 740L1191 736.5L1191 733L1184 726L1183.5 718L1177 716.5L1175.5 711.5L1162 711.5L1161 705L1158 704.5L1153.5 709L1142.5 716L1136.5 722.5L1127 729.5L1120.5 736L1114.5 738.5L1098.5 739L1091.5 736.5L1064 730Z"/>
<path fill="#068cff" d="M1051 732L1051 752.5L1065 765.5L1066 773.5L1072.5 780.5L1072.5 787.5L1088 802.5L1088 809.5L1095.5 816.5L1095.5 823.5L1125.5 851L1132 851L1156 872L1162.5 872L1185 893.5L1193 894L1215.5 915L1223.5 915L1247 935.5L1254 937L1260.5 943L1274 943L1276 937L1282 935.5L1290.5 928.5L1297.5 928.5L1326.5 901L1334 901L1334 887.5L1326.5 882.5L1326.5 874L1282 835.5L1281.5 826L1275 824.5L1274 817.5L1236.5 781.5L1236.5 774.5L1230.5 770L1214.5 754L1206.5 752L1206 747L1199 740L1191 736.5L1191 733L1184 726L1183.5 718L1177 716.5L1175.5 711.5L1162 711.5L1161 705L1146 716L1121 738.5L1117.5 740.5L1113 741.5L1100 741.5L1064 732Z"/>
<path fill="#0478ff" d="M1051 734L1051 752.5L1065 765.5L1066 773.5L1072.5 780.5L1072.5 787.5L1088 802.5L1088 809.5L1095.5 816.5L1095.5 823.5L1125.5 851L1132 851L1156 872L1162.5 872L1185 893.5L1193 894L1215.5 915L1223.5 915L1247 935.5L1254 937L1260.5 943L1274 943L1276 937L1282 935.5L1290.5 928.5L1297.5 928.5L1326.5 901L1334 901L1334 887.5L1326.5 882.5L1326.5 874L1282 835.5L1281.5 826L1275 824.5L1274 817.5L1236.5 781.5L1236.5 774.5L1230.5 770L1214.5 754L1206.5 752L1206 747L1199 740L1191 736.5L1191 733L1184 726L1183.5 718L1177 716.5L1175.5 711.5L1162 711.5L1160.5 707.5L1147 718L1139 726L1118 743.5L1098.5 743.5L1087 739.5L1060.5 733.5Z"/>
<path fill="#0264ff" d="M1051 736L1051 752.5L1065 765.5L1066 773.5L1072.5 780.5L1072.5 787.5L1088 802.5L1088 809.5L1095.5 816.5L1095.5 823.5L1125.5 851L1132 851L1156 872L1162.5 872L1185 893.5L1193 894L1215.5 915L1223.5 915L1247 935.5L1254 937L1260.5 943L1274 943L1276 937L1282 935.5L1290.5 928.5L1297.5 928.5L1326.5 901L1334 901L1334 887.5L1326.5 882.5L1326.5 874L1282 835.5L1281.5 826L1275 824.5L1274 817.5L1236.5 781.5L1236.5 774.5L1230.5 770L1214.5 754L1206.5 752L1206 747L1199 740L1191 736.5L1191 733L1184 726L1183.5 718L1177 716.5L1175.5 711.5L1162 711.5L1161.5 709.5L1160 710L1118.5 746L1101 746L1086.5 741.5L1060 735.5Z"/>
<path fill="#0050ff" d="M1051 738L1051 752.5L1065 765.5L1066 773.5L1072.5 780.5L1072.5 787.5L1088 802.5L1088 809.5L1095.5 816.5L1095.5 823.5L1125.5 851L1132 851L1156 872L1162.5 872L1185 893.5L1193 894L1215.5 915L1223.5 915L1247 935.5L1254 937L1260.5 943L1274 943L1276 937L1282 935.5L1290.5 928.5L1297.5 928.5L1326.5 901L1334 901L1334 887.5L1326.5 882.5L1326.5 874L1282 835.5L1281.5 826L1275 824.5L1274 817.5L1236.5 781.5L1236.5 774.5L1230.5 770L1214.5 754L1206.5 752L1206 747L1199 740L1191 736.5L1191 733L1184 726L1183.5 718L1177 716.5L1175.5 711.5L1162 711.5L1158.5 713L1151.5 720.5L1137.5 733L1130.5 738L1124.5 744.5L1117 748.5L1101.5 748L1080.5 742L1059 737.5Z"/>
<path fill="#1440ff" d="M1051 740.5L1051 752.5L1065 765.5L1066 773.5L1072.5 780.5L1072.5 787.5L1088 802.5L1088 809.5L1095.5 816.5L1095.5 823.5L1125.5 851L1132 851L1156 872L1162.5 872L1185 893.5L1193 894L1215.5 915L1223.5 915L1247 935.5L1254 937L1260.5 943L1274 943L1276 937L1282 935.5L1290.5 928.5L1297.5 928.5L1326.5 901L1334 901L1334 887.5L1326.5 882.5L1326.5 874L1282 835.5L1281.5 826L1275 824.5L1274 817.5L1236.5 781.5L1236.5 774.5L1230.5 770L1214.5 754L1206.5 752L1206 747L1199 740L1191 736.5L1191 733L1184 726L1183.5 718L1177 716.5L1175.5 711.5L1167.5 712L1160 715.5L1139.5 734.5L1132 739.5L1125 747L1118.5 750.5L1104 750.5L1080 744L1071 743L1057 739.5Z"/>
<path fill="#113bff" d="M1051 744L1051 752.5L1065 765.5L1066 773.5L1072.5 780.5L1072.5 787.5L1088 802.5L1088 809.5L1095.5 816.5L1095.5 823.5L1125.5 851L1132 851L1156 872L1162.5 872L1185 893.5L1193 894L1215.5 915L1223.5 915L1247 935.5L1254 937L1260.5 943L1274 943L1276 937L1282 935.5L1290.5 928.5L1297.5 928.5L1326.5 901L1334 901L1334 887.5L1326.5 882.5L1326.5 874L1282 835.5L1281.5 826L1275 824.5L1274 817.5L1236.5 781.5L1236.5 774.5L1230.5 770L1214.5 754L1206.5 752L1206 747L1199 740L1191 736.5L1191 733L1184 726L1183.5 718L1178 717L1175 714.5L1169.5 714.5L1164 716.5L1156 724L1148.5 728.5L1142.5 735.5L1133 741.5L1125.5 749.5L1118 753L1105.5 753L1088 749L1081 746.5L1069 745.5L1058.5 742.5L1053.5 742.5Z"/>
<path fill="#0d35ff" d="M1051 748L1051 752.5L1065 765.5L1066 773.5L1072.5 780.5L1072.5 787.5L1088 802.5L1088 809.5L1095.5 816.5L1095.5 823.5L1125.5 851L1132 851L1156 872L1162.5 872L1185 893.5L1193 894L1215.5 915L1223.5 915L1247 935.5L1254 937L1260.5 943L1274 943L1276 937L1282 935.5L1290.5 928.5L1297.5 928.5L1326.5 901L1334 901L1334 887.5L1326.5 882.5L1326.5 874L1282 835.5L1281.5 826L1275 824.5L1274 817.5L1236.5 781.5L1236.5 774.5L1230.5 770L1214.5 754L1206.5 752L1206 747L1199 740L1192 737.5L1191 736.5L1191 733L1182.5 724.5L1173.5 718L1168 718.5L1144.5 738L1135 744L1127 751.5L1118.5 755.5L1105.5 755.5L1084.5 750.5L1079.5 748.5L1069.5 749L1056.5 745.5L1054.5 745.5Z"/>
<path fill="#0a30ff" d="M1055.5 754.5L1055 756L1065 765.5L1066 773.5L1072.5 780.5L1072.5 787.5L1088 802.5L1088 809.5L1095.5 816.5L1095.5 823.5L1125.5 851L1132 851L1156 872L1162.5 872L1185 893.5L1193 894L1215.5 915L1223.5 915L1247 935.5L1254 937L1260.5 943L1274 943L1276 937L1282 935.5L1290.5 928.5L1297.5 928.5L1326.5 901L1334 901L1334 887.5L1326.5 882.5L1326.5 874L1282 835.5L1281.5 826L1274.5 824L1274 817.5L1236.5 781.5L1236.5 774.5L1230.5 770L1214.5 754L1206.5 752L1206 747L1203.5 744.5L1198.5 744.5L1191.5 746L1180.5 738.5L1171.5 730.5L1168 730L1147.5 740.5L1137 747L1127 755L1117.5 758.5L1106.5 758.5L1095 755L1081.5 752.5L1076.5 752.5L1069.5 754L1058 753Z"/>
<path fill="#0b2dde" d="M1076.5 761.5L1075 767L1071.5 771.5L1070.5 774.5L1071 779L1074.5 783.5L1080 785.5L1080 791L1081.5 795.5L1088 802.5L1088.5 810L1095.5 816.5L1095.5 821.5L1099.5 825.5L1106 828.5L1116.5 828L1114.5 832.5L1111 837L1116 842.5L1125.5 851L1132 851L1156 872L1162.5 872L1185 893.5L1193 894L1215.5 915L1223.5 915L1247 935.5L1254 937L1260.5 943L1274 943L1276 937L1282 935.5L1290.5 928.5L1297.5 928.5L1326.5 901L1334 901L1334 887.5L1326.5 882.5L1326.5 874L1282 835.5L1281.5 826L1274.5 824L1274 817.5L1236.5 781.5L1236.5 774.5L1230.5 770L1217.5 757L1203 753L1189.5 752.5L1182 751L1177 751L1172 752.5L1166 745.5L1163 744L1156 743.5L1147.5 746L1139.5 750L1129 757.5L1118.5 761.5L1107 762L1092 757L1082.5 757.5L1079.5 758.5Z"/>
<path fill="#0b2ac4" d="M1084.5 764L1083.5 766.5L1083.5 771L1085 774.5L1089.5 779L1093.5 781L1107.5 785L1116 786L1119 796L1122.5 801.5L1127.5 806.5L1134.5 810.5L1140 812L1147.5 812L1165.5 806L1174 805.5L1182.5 809L1194.5 818.5L1203 823.5L1225.5 828.5L1231.5 833.5L1233.5 837L1235 843L1234.5 860.5L1236 867L1238 871.5L1242.5 877L1247.5 880.5L1254.5 883L1252 896.5L1253 908.5L1254.5 913L1258.5 919.5L1266 925L1263.5 932L1257 940L1260.5 943L1274 943L1276 937L1282 935.5L1290.5 928.5L1297.5 928.5L1323.5 904L1319.5 894L1314 886.5L1309.5 883L1319 878.5L1324.5 872.5L1282 835.5L1281.5 826L1274.5 824L1274 817.5L1251.5 796L1240.5 795L1237.5 793.5L1239.5 790L1240 786.5L1239.5 784.5L1236.5 781.5L1236 779L1232 777L1227.5 777L1224.5 778.5L1219 770L1210.5 763.5L1204.5 761L1197.5 759.5L1172 757.5L1161.5 752L1156.5 750.5L1151.5 750.5L1145.5 752L1127.5 762.5L1115 766L1105.5 766.5L1093.5 760L1089 760.5Z"/>
<path fill="#0a26b2" d="M1262.5 817.5L1256 821L1252 825.5L1250 830L1249 835L1249 844L1251.5 854L1255 860.5L1266 873.5L1278 893L1281.5 896L1287.5 898.5L1295 897.5L1300 893L1302 888.5L1306 856.5L1282 835.5L1281.5 826L1274.5 824L1274 817.5L1273 816.5ZM1115 772.5L1115 775L1117.5 778L1121.5 780.5L1132.5 792L1140.5 796.5L1147.5 798L1166.5 796.5L1181 797L1188.5 798.5L1208 806L1214.5 806L1220.5 803L1231 787L1231 784L1229.5 782.5L1223 782L1218.5 780.5L1207.5 771L1201 767.5L1173.5 763L1154.5 756.5L1149 756.5L1143.5 758L1131.5 766L1126 768.5L1118.5 769.5Z"/>
<path fill="#0822a0" d="M1265 835.5L1262.5 839.5L1262.5 844.5L1265.5 849.5L1269 852L1273.5 853.5L1278.5 852.5L1281.5 847L1281 842L1279 838L1273.5 834L1268 834ZM1223.5 786.5L1224 788L1226.5 788L1228 786L1227.5 785L1225 785ZM1137 773.5L1137.5 777.5L1141 781.5L1148.5 785L1155 786L1172 785.5L1185 782.5L1195.5 783L1200.5 782L1202.5 780L1201.5 776.5L1198.5 774.5L1185 775.5L1174 769L1165 767.5L1157.5 764L1150 762.5L1146 762.5L1143.5 763.5L1138.5 769.5Z"/>
</g></g>
<path d="M1045.5 714.1V935.1M1045.5 714.1H1033.1M1045.5 769.8H1021.4M1045.5 825.7H1033.1M1045.5 879.4H1021.4M1045.5 935.1H1033.1M1114.5 950H1298.8M1114.5 950V974.4M1162.4 950V961.9M1207.8 950V974.4M1255.9 950V961.9M1298.8 950V974.4" stroke="#2c2c2c" stroke-width="1.05" fill="none"/>
<text x="1014.6" y="767.6" font-size="16" text-anchor="middle" textLength="54.4" lengthAdjust="spacingAndGlyphs" transform="rotate(-90 1014.6 767.6)">28.4564</text>
<text x="1014.6" y="881.6" font-size="16" text-anchor="middle" textLength="54.4" lengthAdjust="spacingAndGlyphs" transform="rotate(-90 1014.6 881.6)">28.4560</text>
<text x="983.3" y="811" font-size="18.7" text-anchor="middle" textLength="95" lengthAdjust="spacingAndGlyphs" transform="rotate(-90 983.3 811)">Latitude (N)</text>
<text x="1115" y="991" font-size="14.8" text-anchor="middle" textLength="60.1" lengthAdjust="spacingAndGlyphs">-17.8470</text>
<text x="1208" y="990.2" font-size="14.8" text-anchor="middle" textLength="60.1" lengthAdjust="spacingAndGlyphs">-17.8465</text>
<text x="1299.4" y="991" font-size="14.8" text-anchor="middle" textLength="60.1" lengthAdjust="spacingAndGlyphs">-17.8460</text>
<text x="1213" y="1022.8" font-size="17.7" text-anchor="middle" textLength="114.8" lengthAdjust="spacingAndGlyphs">Longitude (W)</text>
<path d="M1053.82 646.55L1057.66 659.14L1070.09 659.14L1060.04 666.91L1063.87 679.50L1053.82 671.72L1043.77 679.50L1047.61 666.91L1037.56 659.14L1049.98 659.14Z" fill="#fff" stroke="#000" stroke-width="2.9" stroke-linejoin="miter" stroke-miterlimit="6"/>
<g clip-path="url(#cC1)"><g opacity=".999">
<rect x="135" y="1242" width="278" height="209" fill="#ffa300"/>
<path fill="#ffad00" d="M141.5 1251L141.5 1261.5L135 1263.5L135 1278L138.5 1276.5L141 1276.5L145.5 1278.5L149 1282.5L149 1288L145.5 1296.5L157 1301.5L157 1312.5L172 1323.5L172 1329L186 1340L186.5 1346L201 1356.5L201.5 1362.5L216.5 1373L216.5 1378.5L223.5 1384L230 1386L230 1395.5L245.5 1408L245.5 1412L252.5 1418.5L260.5 1418.5L267.5 1424L274.5 1424L281.5 1429.5L296.5 1429.5L303.5 1435L312 1435L319 1440.5L334 1440.5L341 1446L356 1446L362.5 1451L378.5 1451L384.5 1446.5L384.5 1430L392 1424.5L392 1408L399 1402L399 1384L406.5 1377.5L406.5 1362L413 1357L412.5 1329L406.5 1324.5L393 1323.5L392 1318L333 1275L320 1270L309.5 1263.5L296 1263.5L287.5 1258L268.5 1258L266.5 1252.5L253 1252.5L246 1246.5L214 1246.5L208.5 1242L148 1242Z"/>
<path fill="#ffb700" d="M141.5 1251L141.5 1261.5L135 1263.5L135 1271.5L145 1271L151.5 1272L157 1274L160 1277L161.5 1282L160.5 1310.5L159.5 1314.5L172 1323.5L172 1329L186 1340L186 1345.5L201 1356.5L201 1362L216.5 1373L216.5 1378.5L223.5 1384L230 1386L230 1395.5L245.5 1408L245.5 1412L252.5 1418.5L260.5 1418.5L267.5 1424L274.5 1424L281.5 1429.5L296.5 1429.5L303.5 1435L312 1435L319 1440.5L334 1440.5L341 1446L356 1446L362.5 1451L378.5 1451L384.5 1446.5L384.5 1430L392 1424.5L392 1408L399 1402L399 1384L406.5 1377.5L406.5 1362L413 1357L412.5 1329L406.5 1324.5L393 1323.5L392 1318L333 1275L320 1270L309.5 1263.5L296 1263.5L287.5 1258L268.5 1258L266.5 1252.5L253 1252.5L246 1246.5L214 1246.5L208.5 1242L148 1242Z"/>
<path fill="#ffc100" d="M141.5 1251L141.5 1261.5L135 1263.5L135 1265.5L164 1265.5L172 1268.5L174 1271L173.5 1322.5L172 1329L186 1340L186.5 1346L201 1356.5L201.5 1362.5L216.5 1373L216.5 1378.5L223.5 1384L230 1386L230 1395.5L245.5 1408L245.5 1412L252.5 1418.5L260.5 1418.5L267.5 1424L274.5 1424L281.5 1429.5L296.5 1429.5L303.5 1435L312 1435L319 1440.5L334 1440.5L341 1446L356 1446L362.5 1451L378.5 1451L384.5 1446.5L384.5 1430L392 1424.5L392 1408L399 1402L399 1384L406.5 1377.5L406.5 1362L413 1357L412.5 1329L406.5 1324.5L393 1323.5L392 1318L333 1275L320 1270L309.5 1263.5L296 1263.5L287.5 1258L268.5 1258L266.5 1252.5L253 1252.5L246 1246.5L214 1246.5L208.5 1242L148 1242Z"/>
<path fill="#ffcb00" d="M141.5 1251L141.5 1260L173.5 1260.5L181.5 1263L185 1266.5L186.5 1272.5L185.5 1280L186 1345.5L201 1356.5L201.5 1362.5L216.5 1373L216.5 1378.5L223.5 1384L230 1386L230 1395.5L245.5 1408L245.5 1412L252.5 1418.5L260.5 1418.5L267.5 1424L274.5 1424L281.5 1429.5L296.5 1429.5L303.5 1435L312 1435L319 1440.5L334 1440.5L341 1446L356 1446L362.5 1451L378.5 1451L384.5 1446.5L384.5 1430L392 1424.5L392 1408L399 1402L399 1384L406.5 1377.5L406.5 1362L413 1357L412.5 1329L406.5 1324.5L393 1323.5L392 1318L333 1275L320 1270L309.5 1263.5L296 1263.5L287.5 1258L268.5 1258L266.5 1252.5L253 1252.5L246 1246.5L214 1246.5L208.5 1242L148 1242Z"/>
<path fill="#ffd500" d="M141.5 1251L141.5 1254L143 1254.5L186.5 1254.5L192 1256L197 1256L199 1259.5L198 1277.5L197.5 1354L201 1356.5L201 1362L216.5 1373L216.5 1378.5L223.5 1384L230 1386L230 1395.5L245.5 1408L245.5 1412L252.5 1418.5L260.5 1418.5L267.5 1424L274.5 1424L281.5 1429.5L296.5 1429.5L303.5 1435L312 1435L319 1440.5L334 1440.5L341 1446L356 1446L362.5 1451L378.5 1451L384.5 1446.5L384.5 1430L392 1424.5L392 1408L399 1402L399 1384L406.5 1377.5L406.5 1362L413 1357L412.5 1329L406.5 1324.5L393 1323.5L392 1318L333 1275L320 1270L309.5 1263.5L296 1263.5L287.5 1258L268.5 1258L266.5 1252.5L253 1252.5L246 1246.5L214 1246.5L208.5 1242L148 1242Z"/>
<path fill="#ffdf00" d="M144.5 1247L151 1249.5L192.5 1249L203.5 1251L208.5 1254L211 1258.5L210.5 1363.5L209.5 1368L216.5 1373L216.5 1378.5L223.5 1384L230 1386L230 1395.5L245.5 1408L245.5 1412L252.5 1418.5L260.5 1418.5L267.5 1424L274.5 1424L281.5 1429.5L296.5 1429.5L303.5 1435L312 1435L319 1440.5L334 1440.5L341 1446L356 1446L362.5 1451L378.5 1451L384.5 1446.5L384.5 1430L392 1424.5L392 1408L399 1402L399 1384L406.5 1377.5L406.5 1362L413 1357L412.5 1329L406.5 1324.5L393 1323.5L392 1318L333 1275L320 1270L309.5 1263.5L296 1263.5L287.5 1258L268.5 1258L266.5 1252.5L253 1252.5L246 1246.5L214 1246.5L208.5 1242L148 1242Z"/>
<path fill="#ffe900" d="M223 1246.5L223 1383.5L230 1386L230 1395.5L245.5 1408L245.5 1412L252.5 1418.5L260.5 1418.5L267.5 1424L274.5 1424L281.5 1429.5L296.5 1429.5L303.5 1435L312 1435L319 1440.5L334 1440.5L341 1446L356 1446L362.5 1451L378.5 1451L384 1447L384.5 1430L392 1424.5L392 1408L399 1402L399 1384L406.5 1377.5L406.5 1362L413 1357L413 1329.5L406.5 1324.5L393 1323.5L392 1318L333 1275L320 1270L309.5 1263.5L296 1263.5L287.5 1258L268.5 1258L266.5 1252.5L253 1252.5L246 1246.5Z"/>
<path fill="#fff300" d="M235.5 1246.5L235.5 1348.5L234.5 1399L245.5 1408L245.5 1412L252.5 1418.5L260.5 1418.5L267.5 1424L274.5 1424L281.5 1429.5L296.5 1429.5L303.5 1435L312 1435L319 1440.5L334 1440.5L341 1446L356 1446L362.5 1451L378.5 1451L384.5 1446.5L384.5 1430L392 1424.5L392 1408L399 1402L399 1384L406.5 1377.5L406.5 1362L413 1357L413 1329.5L406.5 1324.5L393 1323.5L392 1318L333 1275L320 1270L309.5 1263.5L296 1263.5L287.5 1258L268.5 1258L266.5 1252.5L253 1252.5L246 1246.5Z"/>
<path fill="#fcfa06" d="M249 1249L249 1352L251.5 1376.5L251 1395L252 1401.5L254.5 1407L265.5 1418.5L281.5 1429.5L296.5 1429.5L303.5 1435L312 1435L319 1440.5L334 1440.5L341 1446L356 1446L362.5 1451L378.5 1451L384.5 1446.5L384.5 1430L392 1424.5L392 1408L399 1402L399 1384L406.5 1377.5L406.5 1362L413 1357L413 1329.5L406.5 1324.5L393 1323.5L392 1318L330 1273.5L320 1270L309.5 1263.5L296 1263.5L287.5 1258L268.5 1258L266.5 1252.5L253 1252.5Z"/>
<path fill="#f7fd12" d="M265 1252.5L264 1259L264.5 1290L263.5 1316L264 1321.5L269 1333.5L276.5 1341.5L281.5 1344L288.5 1345.5L296.5 1358L306.5 1367L317.5 1372.5L324 1383L332 1390.5L337 1394L344 1397L348.5 1401L357 1406L360 1407L364.5 1406L369.5 1399L375.5 1385L379.5 1369.5L380 1359L387 1325L392.5 1318.5L333 1275L320 1270L309.5 1263.5L296 1263.5L287.5 1258L268.5 1258L266.5 1252.5Z"/>
<path fill="#eeff1d" d="M281.5 1258L279.5 1272.5L279.5 1280.5L281 1290L280 1299.5L281 1315L289.5 1324L306 1336L323 1351.5L336 1360.5L350 1368.5L352.5 1369L354.5 1366L359.5 1353L368.5 1311.5L373.5 1304.5L333 1275L320 1270L309.5 1263.5L296 1263.5L287.5 1258Z"/>
<path fill="#e2ff28" d="M295.5 1263.5L294 1270.5L295 1299L298 1303.5L303 1308.5L308 1312L317.5 1316L335 1328.5L339.5 1333L341.5 1324.5L346 1315L351 1299L355 1291L333 1275L320 1270L309.5 1263.5Z"/>
<path fill="#d6ff33" d="M308.5 1273L316.5 1282.5L315 1286.5L316 1289.5L320 1292.5L324.5 1292.5L329 1289.5L331 1285L330.5 1279L328.5 1274.5L326 1272L319 1270Z"/>
<path d="M141.5 1251L141.5 1261.5L135 1263.5L135 1278L138.5 1276.5L141 1276.5L145.5 1278.5L149 1282.5L149 1288L145.5 1296.5L157 1301.5L157 1312.5L172 1323.5L172 1329L186 1340L186.5 1346L201 1356.5L201.5 1362.5L216.5 1373L216.5 1378.5L223.5 1384L230 1386L230 1395.5L245.5 1408L245.5 1412L252.5 1418.5L260.5 1418.5L267.5 1424L274.5 1424L281.5 1429.5L296.5 1429.5L303.5 1435L312 1435L319 1440.5L334 1440.5L341 1446L356 1446L362.5 1451L378.5 1451L384.5 1446.5L384.5 1430L392 1424.5L392 1408L399 1402L399 1384L406.5 1377.5L406.5 1362L413 1357L412.5 1329L406.5 1324.5L393 1323.5L392 1318L333 1275L320 1270L309.5 1263.5L296 1263.5L287.5 1258L268.5 1258L266.5 1252.5L253 1252.5L246 1246.5L214 1246.5L208.5 1242L148 1242ZM141.5 1251L141.5 1261.5L135 1263.5L135 1271.5L145 1271L151.5 1272L157 1274L160 1277L161.5 1282L160.5 1310.5L159.5 1314.5L172 1323.5L172 1329L186 1340L186 1345.5L201 1356.5L201 1362L216.5 1373L216.5 1378.5L223.5 1384L230 1386L230 1395.5L245.5 1408L245.5 1412L252.5 1418.5L260.5 1418.5L267.5 1424L274.5 1424L281.5 1429.5L296.5 1429.5L303.5 1435L312 1435L319 1440.5L334 1440.5L341 1446L356 1446L362.5 1451L378.5 1451L384.5 1446.5L384.5 1430L392 1424.5L392 1408L399 1402L399 1384L406.5 1377.5L406.5 1362L413 1357L412.5 1329L406.5 1324.5L393 1323.5L392 1318L333 1275L320 1270L309.5 1263.5L296 1263.5L287.5 1258L268.5 1258L266.5 1252.5L253 1252.5L246 1246.5L214 1246.5L208.5 1242L148 1242ZM141.5 1251L141.5 1261.5L135 1263.5L135 1265.5L164 1265.5L172 1268.5L174 1271L173.5 1322.5L172 1329L186 1340L186.5 1346L201 1356.5L201.5 1362.5L216.5 1373L216.5 1378.5L223.5 1384L230 1386L230 1395.5L245.5 1408L245.5 1412L252.5 1418.5L260.5 1418.5L267.5 1424L274.5 1424L281.5 1429.5L296.5 1429.5L303.5 1435L312 1435L319 1440.5L334 1440.5L341 1446L356 1446L362.5 1451L378.5 1451L384.5 1446.5L384.5 1430L392 1424.5L392 1408L399 1402L399 1384L406.5 1377.5L406.5 1362L413 1357L412.5 1329L406.5 1324.5L393 1323.5L392 1318L333 1275L320 1270L309.5 1263.5L296 1263.5L287.5 1258L268.5 1258L266.5 1252.5L253 1252.5L246 1246.5L214 1246.5L208.5 1242L148 1242ZM141.5 1251L141.5 1260L173.5 1260.5L181.5 1263L185 1266.5L186.5 1272.5L185.5 1280L186 1345.5L201 1356.5L201.5 1362.5L216.5 1373L216.5 1378.5L223.5 1384L230 1386L230 1395.5L245.5 1408L245.5 1412L252.5 1418.5L260.5 1418.5L267.5 1424L274.5 1424L281.5 1429.5L296.5 1429.5L303.5 1435L312 1435L319 1440.5L334 1440.5L341 1446L356 1446L362.5 1451L378.5 1451L384.5 1446.5L384.5 1430L392 1424.5L392 1408L399 1402L399 1384L406.5 1377.5L406.5 1362L413 1357L412.5 1329L406.5 1324.5L393 1323.5L392 1318L333 1275L320 1270L309.5 1263.5L296 1263.5L287.5 1258L268.5 1258L266.5 1252.5L253 1252.5L246 1246.5L214 1246.5L208.5 1242L148 1242ZM141.5 1251L141.5 1254L143 1254.5L186.5 1254.5L192 1256L197 1256L199 1259.5L198 1277.5L197.5 1354L201 1356.5L201 1362L216.5 1373L216.5 1378.5L223.5 1384L230 1386L230 1395.5L245.5 1408L245.5 1412L252.5 1418.5L260.5 1418.5L267.5 1424L274.5 1424L281.5 1429.5L296.5 1429.5L303.5 1435L312 1435L319 1440.5L334 1440.5L341 1446L356 1446L362.5 1451L378.5 1451L384.5 1446.5L384.5 1430L392 1424.5L392 1408L399 1402L399 1384L406.5 1377.5L406.5 1362L413 1357L412.5 1329L406.5 1324.5L393 1323.5L392 1318L333 1275L320 1270L309.5 1263.5L296 1263.5L287.5 1258L268.5 1258L266.5 1252.5L253 1252.5L246 1246.5L214 1246.5L208.5 1242L148 1242ZM144.5 1247L151 1249.5L192.5 1249L203.5 1251L208.5 1254L211 1258.5L210.5 1363.5L209.5 1368L216.5 1373L216.5 1378.5L223.5 1384L230 1386L230 1395.5L245.5 1408L245.5 1412L252.5 1418.5L260.5 1418.5L267.5 1424L274.5 1424L281.5 1429.5L296.5 1429.5L303.5 1435L312 1435L319 1440.5L334 1440.5L341 1446L356 1446L362.5 1451L378.5 1451L384.5 1446.5L384.5 1430L392 1424.5L392 1408L399 1402L399 1384L406.5 1377.5L406.5 1362L413 1357L412.5 1329L406.5 1324.5L393 1323.5L392 1318L333 1275L320 1270L309.5 1263.5L296 1263.5L287.5 1258L268.5 1258L266.5 1252.5L253 1252.5L246 1246.5L214 1246.5L208.5 1242L148 1242ZM223 1246.5L223 1383.5L230 1386L230 1395.5L245.5 1408L245.5 1412L252.5 1418.5L260.5 1418.5L267.5 1424L274.5 1424L281.5 1429.5L296.5 1429.5L303.5 1435L312 1435L319 1440.5L334 1440.5L341 1446L356 1446L362.5 1451L378.5 1451L384 1447L384.5 1430L392 1424.5L392 1408L399 1402L399 1384L406.5 1377.5L406.5 1362L413 1357L413 1329.5L406.5 1324.5L393 1323.5L392 1318L333 1275L320 1270L309.5 1263.5L296 1263.5L287.5 1258L268.5 1258L266.5 1252.5L253 1252.5L246 1246.5ZM235.5 1246.5L235.5 1348.5L234.5 1399L245.5 1408L245.5 1412L252.5 1418.5L260.5 1418.5L267.5 1424L274.5 1424L281.5 1429.5L296.5 1429.5L303.5 1435L312 1435L319 1440.5L334 1440.5L341 1446L356 1446L362.5 1451L378.5 1451L384.5 1446.5L384.5 1430L392 1424.5L392 1408L399 1402L399 1384L406.5 1377.5L406.5 1362L413 1357L413 1329.5L406.5 1324.5L393 1323.5L392 1318L333 1275L320 1270L309.5 1263.5L296 1263.5L287.5 1258L268.5 1258L266.5 1252.5L253 1252.5L246 1246.5ZM249 1249L249 1352L251.5 1376.5L251 1395L252 1401.5L254.5 1407L265.5 1418.5L281.5 1429.5L296.5 1429.5L303.5 1435L312 1435L319 1440.5L334 1440.5L341 1446L356 1446L362.5 1451L378.5 1451L384.5 1446.5L384.5 1430L392 1424.5L392 1408L399 1402L399 1384L406.5 1377.5L406.5 1362L413 1357L413 1329.5L406.5 1324.5L393 1323.5L392 1318L330 1273.5L320 1270L309.5 1263.5L296 1263.5L287.5 1258L268.5 1258L266.5 1252.5L253 1252.5ZM265 1252.5L264 1259L264.5 1290L263.5 1316L264 1321.5L269 1333.5L276.5 1341.5L281.5 1344L288.5 1345.5L296.5 1358L306.5 1367L317.5 1372.5L324 1383L332 1390.5L337 1394L344 1397L348.5 1401L357 1406L360 1407L364.5 1406L369.5 1399L375.5 1385L379.5 1369.5L380 1359L387 1325L392.5 1318.5L333 1275L320 1270L309.5 1263.5L296 1263.5L287.5 1258L268.5 1258L266.5 1252.5ZM281.5 1258L279.5 1272.5L279.5 1280.5L281 1290L280 1299.5L281 1315L289.5 1324L306 1336L323 1351.5L336 1360.5L350 1368.5L352.5 1369L354.5 1366L359.5 1353L368.5 1311.5L373.5 1304.5L333 1275L320 1270L309.5 1263.5L296 1263.5L287.5 1258ZM295.5 1263.5L294 1270.5L295 1299L298 1303.5L303 1308.5L308 1312L317.5 1316L335 1328.5L339.5 1333L341.5 1324.5L346 1315L351 1299L355 1291L333 1275L320 1270L309.5 1263.5ZM308.5 1273L316.5 1282.5L315 1286.5L316 1289.5L320 1292.5L324.5 1292.5L329 1289.5L331 1285L330.5 1279L328.5 1274.5L326 1272L319 1270Z" fill="none" stroke="#202800" stroke-opacity=".16" stroke-width=".7"/>
</g></g>
<path d="M130.2 1238.4V1456.2M130.2 1238.4H120M130.2 1272.1H120M130.2 1310.1H110.3M130.2 1346.1H120M130.2 1383.7H120M130.2 1418.9H110.3M130.2 1456.2H120M185.9 1483.4H366.7M185.9 1483.4V1510.2M246 1483.4V1495.6M306.9 1483.4V1510.2M366.7 1483.4V1495.6" stroke="#2c2c2c" stroke-width="1.05" fill="none"/>
<text x="101.6" y="1308.1" font-size="16" text-anchor="middle" textLength="62.7" lengthAdjust="spacingAndGlyphs" transform="rotate(-90 101.6 1308.1)">28.46024</text>
<text x="101.6" y="1416.1" font-size="16" text-anchor="middle" textLength="62.7" lengthAdjust="spacingAndGlyphs" transform="rotate(-90 101.6 1416.1)">28.46018</text>
<text x="70.2" y="1342.7" font-size="18.7" text-anchor="middle" textLength="95" lengthAdjust="spacingAndGlyphs" transform="rotate(-90 70.2 1342.7)">Latitude (N)</text>
<text x="185" y="1528.8" font-size="14.8" text-anchor="middle" textLength="60.1" lengthAdjust="spacingAndGlyphs">-17.8533</text>
<text x="308.2" y="1526.8" font-size="14.8" text-anchor="middle" textLength="60.1" lengthAdjust="spacingAndGlyphs">-17.8522</text>
<text x="270.9" y="1551.8" font-size="17.7" text-anchor="middle" textLength="114.8" lengthAdjust="spacingAndGlyphs">Longitude (W)</text>
<path d="M136.59 1216.73L140.43 1229.31L152.86 1229.31L142.80 1237.09L146.64 1249.68L136.59 1241.90L126.54 1249.68L130.38 1237.09L120.33 1229.31L132.75 1229.31Z" fill="#fff" stroke="#000" stroke-width="2.9" stroke-linejoin="miter" stroke-miterlimit="6"/>
<g clip-path="url(#cC2)"><g opacity=".999">
<rect x="548" y="1276" width="283" height="197" fill="#ffa800"/>
<path fill="#ffbc00" d="M548 1276L548 1282.5L554.5 1288.5L554.5 1297L562.5 1304L562.5 1310.5L585 1327.5L585 1333L599.5 1338L600.5 1339L600.5 1344L608 1349.5L608.5 1355L652.5 1382L653.5 1386L691 1410.5L699.5 1411L779.5 1468L787.5 1468.5L794 1473L801 1473L801 1464.5L808.5 1459L808.5 1434.5L816 1432.5L816 1420L823.5 1414.5L823.5 1396.5L831 1391.5L831 1302L810.5 1301.5L808.5 1296.5L771.5 1296L771 1292.5L732.5 1291.5L725.5 1286.5L695 1286L689 1281.5L686.5 1285L682 1284L675 1284L663.5 1288L643 1288.5L636.5 1287.5L618.5 1287L600.5 1284.5L587.5 1280L585 1276Z"/>
<path fill="#ffd000" d="M548 1276L548 1282.5L554.5 1288.5L554.5 1297L562.5 1304L562.5 1310.5L585 1327.5L585 1333L599.5 1338L600.5 1339L600.5 1344L608 1349.5L608.5 1355L652.5 1382L653.5 1386L691 1410.5L699.5 1411L779.5 1468L787.5 1468.5L794 1473L801 1473L801 1464.5L808.5 1459L808.5 1434.5L816 1432.5L816 1420L823.5 1414.5L823.5 1396.5L831 1391.5L831 1302L810.5 1301.5L808.5 1296.5L771.5 1296L771 1292.5L732.5 1291.5L725.5 1286.5L696 1286L686.5 1291.5L677 1293L668 1298L660.5 1300L646 1300.5L635 1299L621 1298.5L601.5 1295L590 1291L581.5 1286.5L574.5 1281.5L573 1279L573 1276Z"/>
<path fill="#ffe400" d="M548 1276L548 1282.5L554.5 1288.5L554.5 1297L562.5 1304L562.5 1310.5L585 1327.5L585 1333L599.5 1338L600.5 1339L600.5 1344L608 1349.5L608.5 1355L652.5 1382L653.5 1386L691 1410.5L699.5 1411L779.5 1468L787.5 1468.5L794 1473L801 1473L801 1464.5L808.5 1459L808.5 1434.5L816 1432.5L816 1420L823.5 1414.5L823.5 1396.5L831 1391.5L831 1302L810.5 1301.5L808.5 1296.5L771.5 1296L771 1292.5L732.5 1291.5L725.5 1286.5L723.5 1286.5L722.5 1289L718.5 1287.5L712 1287L707.5 1288L687 1298.5L671 1310.5L665 1311.5L636 1311L615 1308.5L597.5 1303.5L579.5 1293.5L567.5 1281.5L566.5 1276Z"/>
<path fill="#fff800" d="M548 1276L548 1282.5L554.5 1288.5L554.5 1297L562.5 1304L562.5 1310.5L585 1327.5L585 1333L599.5 1338L600.5 1339L600.5 1344L608 1349.5L608.5 1355L652.5 1382L653.5 1386L691 1410.5L699.5 1411L779.5 1468L787.5 1468.5L794 1473L801 1473L801 1464.5L808.5 1459L808.5 1434.5L816 1432.5L816 1420L823.5 1414.5L823.5 1396.5L831 1391.5L831 1302L810.5 1301.5L808.5 1296.5L771.5 1296L771 1292.5L732.5 1291.5L728.5 1289L725.5 1290L722 1293L709.5 1294L693.5 1305L682.5 1316L676 1320.5L660.5 1323L630 1322L612 1319.5L605 1317L589.5 1309L581.5 1303.5L570 1292L563.5 1283L561.5 1276Z"/>
<path fill="#f4ff18" d="M548 1276L548 1282.5L554.5 1288.5L554.5 1297L562.5 1304L562.5 1310.5L585 1327.5L585 1333L599.5 1338L600.5 1339L600.5 1344L608 1349.5L608.5 1355L652.5 1382L653.5 1386L691 1410.5L699.5 1411L779.5 1468L787.5 1468.5L794 1473L801 1473L801 1464.5L808.5 1459L808.5 1434.5L816 1432.5L816 1420L823.5 1414.5L823.5 1396.5L831 1391.5L831 1302L810.5 1301.5L808.5 1296.5L771.5 1296L771 1294.5L768.5 1296L765.5 1293.5L761 1292L747.5 1292L737 1296L728 1296L723 1298L716.5 1299L710 1303.5L688.5 1325.5L683 1329.5L678 1331.5L668.5 1333L657 1332.5L648.5 1333.5L614.5 1332L602.5 1329.5L594 1320.5L589.5 1318L583 1316L574.5 1306.5L566 1299L564.5 1292L556.5 1276.5Z"/>
<path fill="#dcff2d" d="M578.5 1322.5L585 1327.5L585 1333L599 1338L592.5 1332L588.5 1325.5L582 1324.5ZM600 1338.5L600.5 1344L608 1349.5L608.5 1355L652.5 1382L653.5 1386L691 1410.5L699.5 1411L779.5 1468L787.5 1468.5L794 1473L801 1473L801 1464.5L808.5 1459L808.5 1434.5L816 1432.5L816 1420L823.5 1414.5L823.5 1396.5L831 1391.5L831 1302L817 1301.5L809 1303.5L791 1302L784.5 1306L778 1308L768 1308L760.5 1305L755.5 1301L741.5 1305L733.5 1304.5L728 1303L713 1314.5L707.5 1322.5L698 1333.5L683.5 1343.5L679.5 1344.5L640.5 1345L630 1343.5L610 1343ZM548 1279L548 1282.5L554.5 1288.5L554.5 1297L562.5 1304L562.5 1310.5L575.5 1320.5L570 1314.5L566 1306.5L561.5 1302.5L560 1299L560 1293L555.5 1286.5L554.5 1281.5Z"/>
<path fill="#c4ff43" d="M608 1352L608.5 1355L652.5 1382L653.5 1386L691 1410.5L699.5 1411L779.5 1468L787.5 1468.5L794 1473L801 1473L801 1464.5L808.5 1459L808.5 1434.5L816 1432.5L816 1420L823.5 1414.5L823.5 1396.5L831 1391.5L831 1367L828 1367L765.5 1336.5L754.5 1332.5L749 1331.5L739.5 1331.5L736.5 1332.5L728 1332L713.5 1337L706.5 1344.5L698 1348.5L691.5 1354L679.5 1358.5L672.5 1360L657.5 1360L648 1358L641 1354.5L635.5 1356L625.5 1356L618 1354.5L611 1351.5Z"/>
<path fill="#acff58" d="M653 1384L653.5 1386L691 1410.5L699.5 1411L779.5 1468L787.5 1468.5L794 1473L801 1473L801 1464.5L808.5 1459L808.5 1434.5L816 1432.5L816 1430L812.5 1430L806 1427.5L782 1422L767.5 1420L752 1420L745.5 1421L737.5 1416.5L731.5 1415L724.5 1414.5L717 1415.5L711.5 1412L698 1406L689 1399L678.5 1394.5L669 1389L658.5 1385Z"/>
<path fill="#95ff6d" d="M777 1466L780.5 1468.5L787.5 1468.5L794 1473L801 1473L795.5 1467Z"/>
<path d="M548 1276L548 1282.5L554.5 1288.5L554.5 1297L562.5 1304L562.5 1310.5L585 1327.5L585 1333L599.5 1338L600.5 1339L600.5 1344L608 1349.5L608.5 1355L652.5 1382L653.5 1386L691 1410.5L699.5 1411L779.5 1468L787.5 1468.5L794 1473L801 1473L801 1464.5L808.5 1459L808.5 1434.5L816 1432.5L816 1420L823.5 1414.5L823.5 1396.5L831 1391.5L831 1302L810.5 1301.5L808.5 1296.5L771.5 1296L771 1292.5L732.5 1291.5L725.5 1286.5L695 1286L689 1281.5L686.5 1285L682 1284L675 1284L663.5 1288L643 1288.5L636.5 1287.5L618.5 1287L600.5 1284.5L587.5 1280L585 1276ZM548 1276L548 1282.5L554.5 1288.5L554.5 1297L562.5 1304L562.5 1310.5L585 1327.5L585 1333L599.5 1338L600.5 1339L600.5 1344L608 1349.5L608.5 1355L652.5 1382L653.5 1386L691 1410.5L699.5 1411L779.5 1468L787.5 1468.5L794 1473L801 1473L801 1464.5L808.5 1459L808.5 1434.5L816 1432.5L816 1420L823.5 1414.5L823.5 1396.5L831 1391.5L831 1302L810.5 1301.5L808.5 1296.5L771.5 1296L771 1292.5L732.5 1291.5L725.5 1286.5L696 1286L686.5 1291.5L677 1293L668 1298L660.5 1300L646 1300.5L635 1299L621 1298.5L601.5 1295L590 1291L581.5 1286.5L574.5 1281.5L573 1279L573 1276ZM548 1276L548 1282.5L554.5 1288.5L554.5 1297L562.5 1304L562.5 1310.5L585 1327.5L585 1333L599.5 1338L600.5 1339L600.5 1344L608 1349.5L608.5 1355L652.5 1382L653.5 1386L691 1410.5L699.5 1411L779.5 1468L787.5 1468.5L794 1473L801 1473L801 1464.5L808.5 1459L808.5 1434.5L816 1432.5L816 1420L823.5 1414.5L823.5 1396.5L831 1391.5L831 1302L810.5 1301.5L808.5 1296.5L771.5 1296L771 1292.5L732.5 1291.5L725.5 1286.5L723.5 1286.5L722.5 1289L718.5 1287.5L712 1287L707.5 1288L687 1298.5L671 1310.5L665 1311.5L636 1311L615 1308.5L597.5 1303.5L579.5 1293.5L567.5 1281.5L566.5 1276ZM548 1276L548 1282.5L554.5 1288.5L554.5 1297L562.5 1304L562.5 1310.5L585 1327.5L585 1333L599.5 1338L600.5 1339L600.5 1344L608 1349.5L608.5 1355L652.5 1382L653.5 1386L691 1410.5L699.5 1411L779.5 1468L787.5 1468.5L794 1473L801 1473L801 1464.5L808.5 1459L808.5 1434.5L816 1432.5L816 1420L823.5 1414.5L823.5 1396.5L831 1391.5L831 1302L810.5 1301.5L808.5 1296.5L771.5 1296L771 1292.5L732.5 1291.5L728.5 1289L725.5 1290L722 1293L709.5 1294L693.5 1305L682.5 1316L676 1320.5L660.5 1323L630 1322L612 1319.5L605 1317L589.5 1309L581.5 1303.5L570 1292L563.5 1283L561.5 1276ZM548 1276L548 1282.5L554.5 1288.5L554.5 1297L562.5 1304L562.5 1310.5L585 1327.5L585 1333L599.5 1338L600.5 1339L600.5 1344L608 1349.5L608.5 1355L652.5 1382L653.5 1386L691 1410.5L699.5 1411L779.5 1468L787.5 1468.5L794 1473L801 1473L801 1464.5L808.5 1459L808.5 1434.5L816 1432.5L816 1420L823.5 1414.5L823.5 1396.5L831 1391.5L831 1302L810.5 1301.5L808.5 1296.5L771.5 1296L771 1294.5L768.5 1296L765.5 1293.5L761 1292L747.5 1292L737 1296L728 1296L723 1298L716.5 1299L710 1303.5L688.5 1325.5L683 1329.5L678 1331.5L668.5 1333L657 1332.5L648.5 1333.5L614.5 1332L602.5 1329.5L594 1320.5L589.5 1318L583 1316L574.5 1306.5L566 1299L564.5 1292L556.5 1276.5ZM578.5 1322.5L585 1327.5L585 1333L599 1338L592.5 1332L588.5 1325.5L582 1324.5ZM600 1338.5L600.5 1344L608 1349.5L608.5 1355L652.5 1382L653.5 1386L691 1410.5L699.5 1411L779.5 1468L787.5 1468.5L794 1473L801 1473L801 1464.5L808.5 1459L808.5 1434.5L816 1432.5L816 1420L823.5 1414.5L823.5 1396.5L831 1391.5L831 1302L817 1301.5L809 1303.5L791 1302L784.5 1306L778 1308L768 1308L760.5 1305L755.5 1301L741.5 1305L733.5 1304.5L728 1303L713 1314.5L707.5 1322.5L698 1333.5L683.5 1343.5L679.5 1344.5L640.5 1345L630 1343.5L610 1343ZM548 1279L548 1282.5L554.5 1288.5L554.5 1297L562.5 1304L562.5 1310.5L575.5 1320.5L570 1314.5L566 1306.5L561.5 1302.5L560 1299L560 1293L555.5 1286.5L554.5 1281.5ZM608 1352L608.5 1355L652.5 1382L653.5 1386L691 1410.5L699.5 1411L779.5 1468L787.5 1468.5L794 1473L801 1473L801 1464.5L808.5 1459L808.5 1434.5L816 1432.5L816 1420L823.5 1414.5L823.5 1396.5L831 1391.5L831 1367L828 1367L765.5 1336.5L754.5 1332.5L749 1331.5L739.5 1331.5L736.5 1332.5L728 1332L713.5 1337L706.5 1344.5L698 1348.5L691.5 1354L679.5 1358.5L672.5 1360L657.5 1360L648 1358L641 1354.5L635.5 1356L625.5 1356L618 1354.5L611 1351.5ZM653 1384L653.5 1386L691 1410.5L699.5 1411L779.5 1468L787.5 1468.5L794 1473L801 1473L801 1464.5L808.5 1459L808.5 1434.5L816 1432.5L816 1430L812.5 1430L806 1427.5L782 1422L767.5 1420L752 1420L745.5 1421L737.5 1416.5L731.5 1415L724.5 1414.5L717 1415.5L711.5 1412L698 1406L689 1399L678.5 1394.5L669 1389L658.5 1385ZM777 1466L780.5 1468.5L787.5 1468.5L794 1473L801 1473L795.5 1467Z" fill="none" stroke="#202800" stroke-opacity=".16" stroke-width=".7"/>
</g></g>
<path d="M541.6 1237.9V1494.9M541.6 1237.9H530.3M541.6 1322.6H518.7M541.6 1410.4H530.3M541.6 1494.9H518.7M558.5 1515.6H786.1M558.5 1515.6V1528.1M615.6 1515.6V1540M672.3 1515.6V1528.1M730.2 1515.6V1540M786.1 1515.6V1528.1" stroke="#2c2c2c" stroke-width="1.05" fill="none"/>
<text x="512.7" y="1323.8" font-size="16" text-anchor="middle" textLength="62.7" lengthAdjust="spacingAndGlyphs" transform="rotate(-90 512.7 1323.8)">28.46025</text>
<text x="512.7" y="1487.9" font-size="16" text-anchor="middle" textLength="62.7" lengthAdjust="spacingAndGlyphs" transform="rotate(-90 512.7 1487.9)">28.46015</text>
<text x="482.5" y="1395.2" font-size="18.7" text-anchor="middle" textLength="95" lengthAdjust="spacingAndGlyphs" transform="rotate(-90 482.5 1395.2)">Latitude (N)</text>
<text x="608.4" y="1558.5" font-size="14.8" text-anchor="middle" textLength="60.1" lengthAdjust="spacingAndGlyphs">-17.8523</text>
<text x="724.1" y="1558.5" font-size="14.8" text-anchor="middle" textLength="60.1" lengthAdjust="spacingAndGlyphs">-17.8522</text>
<text x="676.2" y="1583.5" font-size="17.7" text-anchor="middle" textLength="114.8" lengthAdjust="spacingAndGlyphs">Longitude (W)</text>
<path d="M576.80 1245.10L580.64 1257.69L593.07 1257.69L583.02 1265.46L586.85 1278.05L576.80 1270.27L566.75 1278.05L570.59 1265.46L560.54 1257.69L572.96 1257.69Z" fill="#fff" stroke="#000" stroke-width="2.9" stroke-linejoin="miter" stroke-miterlimit="6"/>
<g clip-path="url(#cC3)"><g opacity=".999">
<rect x="140" y="1716" width="283" height="226" fill="#ff2c10"/>
<path fill="#ff4208" d="M140 1716L140 1727L154 1738.5L154 1745L162 1750.5L162 1757.5L170 1763.5L191.5 1764.5L196 1767L198 1769.5L216 1774.5L224 1778L226 1780L233 1792.5L235.5 1804.5L242.5 1817L251.5 1840L257.5 1847.5L258.5 1851.5L263 1859.5L273 1869L273 1873.5L312 1904.5L312 1910L349.5 1941L353 1942L362.5 1942L370.5 1936L370.5 1917L378 1911.5L378 1892L385 1886.5L385 1868.5L392.5 1861.5L392.5 1843.5L400.5 1838L400.5 1813L408 1806L408 1788L416 1781L416 1763L423 1757.5L423 1733.5L416 1727.5L377.5 1727.5L370.5 1721L332 1721L327 1716Z"/>
<path fill="#ff5800" d="M140 1716L140.5 1717.5L147 1721.5L158 1722.5L164 1724.5L184.5 1735.5L201.5 1742.5L211.5 1748L225 1749.5L235.5 1752.5L242 1755.5L252 1767.5L255.5 1790.5L258.5 1799L267.5 1816.5L273 1830.5L277 1838L290.5 1856L294.5 1864L302 1884L307.5 1892L313 1897.5L311.5 1903L312 1910L349.5 1941L353 1942L362.5 1942L370.5 1936L370.5 1917L378 1911.5L378 1892L385 1886.5L385 1868.5L392.5 1861.5L392.5 1843.5L400.5 1838L400.5 1813L406.5 1807.5L402.5 1794.5L396 1790L392 1785.5L389 1780L387 1771L383.5 1769L378 1763.5L375 1759L372 1751.5L372 1750L382.5 1740.5L385 1736.5L393 1730L393.5 1727.5L377.5 1727.5L370.5 1721L332 1721L327 1716Z"/>
<path fill="#ff6c00" d="M276.5 1765L280 1765.5L286.5 1762.5L291.5 1756.5L293.5 1750.5L299 1749L303.5 1746.5L308 1742L311 1736.5L316.5 1734L324.5 1728L328.5 1723L330 1719L327 1716L268 1716L271 1720L269.5 1724.5L269.5 1729.5L273 1738.5L271 1743.5L271 1749L276 1761.5Z"/>
<path d="M140 1716L140 1727L154 1738.5L154 1745L162 1750.5L162 1757.5L170 1763.5L191.5 1764.5L196 1767L198 1769.5L216 1774.5L224 1778L226 1780L233 1792.5L235.5 1804.5L242.5 1817L251.5 1840L257.5 1847.5L258.5 1851.5L263 1859.5L273 1869L273 1873.5L312 1904.5L312 1910L349.5 1941L353 1942L362.5 1942L370.5 1936L370.5 1917L378 1911.5L378 1892L385 1886.5L385 1868.5L392.5 1861.5L392.5 1843.5L400.5 1838L400.5 1813L408 1806L408 1788L416 1781L416 1763L423 1757.5L423 1733.5L416 1727.5L377.5 1727.5L370.5 1721L332 1721L327 1716ZM140 1716L140.5 1717.5L147 1721.5L158 1722.5L164 1724.5L184.5 1735.5L201.5 1742.5L211.5 1748L225 1749.5L235.5 1752.5L242 1755.5L252 1767.5L255.5 1790.5L258.5 1799L267.5 1816.5L273 1830.5L277 1838L290.5 1856L294.5 1864L302 1884L307.5 1892L313 1897.5L311.5 1903L312 1910L349.5 1941L353 1942L362.5 1942L370.5 1936L370.5 1917L378 1911.5L378 1892L385 1886.5L385 1868.5L392.5 1861.5L392.5 1843.5L400.5 1838L400.5 1813L406.5 1807.5L402.5 1794.5L396 1790L392 1785.5L389 1780L387 1771L383.5 1769L378 1763.5L375 1759L372 1751.5L372 1750L382.5 1740.5L385 1736.5L393 1730L393.5 1727.5L377.5 1727.5L370.5 1721L332 1721L327 1716ZM276.5 1765L280 1765.5L286.5 1762.5L291.5 1756.5L293.5 1750.5L299 1749L303.5 1746.5L308 1742L311 1736.5L316.5 1734L324.5 1728L328.5 1723L330 1719L327 1716L268 1716L271 1720L269.5 1724.5L269.5 1729.5L273 1738.5L271 1743.5L271 1749L276 1761.5Z" fill="none" stroke="#202800" stroke-opacity=".16" stroke-width=".7"/>
</g></g>
<path d="M135.2 1760.4V1930.2M135.2 1760.4H110.3M135.2 1844.9H122.7M135.2 1930.2H110.3M188.6 1970.3H416.8M188.6 1970.3V1982.8M245.4 1970.3V1995.8M301.9 1970.3V1982.8M359.5 1970.3V1995.8M416.8 1970.3V1982.8" stroke="#2c2c2c" stroke-width="1.05" fill="none"/>
<text x="106.5" y="1769.3" font-size="16" text-anchor="middle" textLength="62.7" lengthAdjust="spacingAndGlyphs" transform="rotate(-90 106.5 1769.3)">28.46025</text>
<text x="106.5" y="1930.2" font-size="16" text-anchor="middle" textLength="62.7" lengthAdjust="spacingAndGlyphs" transform="rotate(-90 106.5 1930.2)">28.46015</text>
<text x="77.7" y="1847.6" font-size="18.7" text-anchor="middle" textLength="95" lengthAdjust="spacingAndGlyphs" transform="rotate(-90 77.7 1847.6)">Latitude (N)</text>
<text x="241.2" y="2013.2" font-size="14.8" text-anchor="middle" textLength="68.6" lengthAdjust="spacingAndGlyphs">-17.85225</text>
<text x="356.7" y="2013.2" font-size="14.8" text-anchor="middle" textLength="68.6" lengthAdjust="spacingAndGlyphs">-17.85215</text>
<text x="304.9" y="2038.7" font-size="17.7" text-anchor="middle" textLength="114.8" lengthAdjust="spacingAndGlyphs">Longitude (W)</text>
<path d="M169.82 1685.10L173.65 1697.69L186.08 1697.69L176.03 1705.46L179.87 1718.05L169.82 1710.27L159.76 1718.05L163.60 1705.46L153.55 1697.69L165.98 1697.69Z" fill="#fff" stroke="#000" stroke-width="2.9" stroke-linejoin="miter" stroke-miterlimit="6"/>
<g clip-path="url(#cC4)"><g opacity=".999">
<rect x="576" y="1722" width="282" height="197" fill="#dcff2d"/>
<path fill="#c4ff43" d="M576 1722L576 1733.5L582.5 1738.5L582.5 1744L589.5 1750.5L589.5 1759L611.5 1774L612 1780L635.5 1799L636 1804L672 1822L673 1827.5L716 1857L724 1857.5L747 1869.5L748 1873L806 1913.5L821 1919L827.5 1919L827.5 1910L835 1904.5L835 1883.5L843 1878L843 1865.5L850.5 1860L850.5 1842L858 1836.5L858 1747.5L842 1747.5L835 1742.5L806 1742.5L799 1737L760.5 1737L753.5 1731.5L737.5 1731.5L734.5 1736L730 1746.5L723 1755.5L722 1764L720 1768L715.5 1772.5L715.5 1777.5L713 1784L707.5 1790L699.5 1786L694 1780L692 1774.5L688.5 1773.5L682 1768.5L678.5 1763.5L677 1759L673 1756.5L666.5 1750L662 1742.5L651.5 1730.5L646.5 1722Z"/>
<path fill="#acff58" d="M858 1747.5L842 1747.5L835 1743L828 1751.5L809 1770.5L795 1773L779 1778L769.5 1792L757 1815L751.5 1822.5L748.5 1830.5L742 1837.5L727.5 1837.5L711.5 1834.5L704.5 1832L695 1831L683.5 1827.5L675.5 1822.5L672.5 1822.5L672.5 1827L716 1857L724 1857.5L747 1869.5L748 1873L806 1913.5L821 1919L827.5 1919L827.5 1910L835 1904.5L835 1883.5L843 1878L843 1865.5L850.5 1860L850.5 1842L858 1836.5Z"/>
<path fill="#95ff6d" d="M858 1830.5L855 1832L815 1838L800 1843L784 1869L780 1874L760 1872.5L752 1870L747.5 1871.5L747.5 1872.5L806 1913.5L821 1919L827.5 1919L827.5 1910L835 1904.5L835 1883.5L843 1878L843 1865.5L850.5 1860L850.5 1842L858 1836.5Z"/>
<path fill="#7fff83" d="M835 1898L827 1901.5L824.5 1903.5L818 1905L812.5 1910.5L805.5 1913L821 1919L827.5 1919L827.5 1910L835 1904.5Z"/>
<path d="M576 1722L576 1733.5L582.5 1738.5L582.5 1744L589.5 1750.5L589.5 1759L611.5 1774L612 1780L635.5 1799L636 1804L672 1822L673 1827.5L716 1857L724 1857.5L747 1869.5L748 1873L806 1913.5L821 1919L827.5 1919L827.5 1910L835 1904.5L835 1883.5L843 1878L843 1865.5L850.5 1860L850.5 1842L858 1836.5L858 1747.5L842 1747.5L835 1742.5L806 1742.5L799 1737L760.5 1737L753.5 1731.5L737.5 1731.5L734.5 1736L730 1746.5L723 1755.5L722 1764L720 1768L715.5 1772.5L715.5 1777.5L713 1784L707.5 1790L699.5 1786L694 1780L692 1774.5L688.5 1773.5L682 1768.5L678.5 1763.5L677 1759L673 1756.5L666.5 1750L662 1742.5L651.5 1730.5L646.5 1722ZM858 1747.5L842 1747.5L835 1743L828 1751.5L809 1770.5L795 1773L779 1778L769.5 1792L757 1815L751.5 1822.5L748.5 1830.5L742 1837.5L727.5 1837.5L711.5 1834.5L704.5 1832L695 1831L683.5 1827.5L675.5 1822.5L672.5 1822.5L672.5 1827L716 1857L724 1857.5L747 1869.5L748 1873L806 1913.5L821 1919L827.5 1919L827.5 1910L835 1904.5L835 1883.5L843 1878L843 1865.5L850.5 1860L850.5 1842L858 1836.5ZM858 1830.5L855 1832L815 1838L800 1843L784 1869L780 1874L760 1872.5L752 1870L747.5 1871.5L747.5 1872.5L806 1913.5L821 1919L827.5 1919L827.5 1910L835 1904.5L835 1883.5L843 1878L843 1865.5L850.5 1860L850.5 1842L858 1836.5ZM835 1898L827 1901.5L824.5 1903.5L818 1905L812.5 1910.5L805.5 1913L821 1919L827.5 1919L827.5 1910L835 1904.5Z" fill="none" stroke="#202800" stroke-opacity=".16" stroke-width=".7"/>
</g></g>
<path d="M570.7 1682.9V1941.2M570.7 1682.9H558.8M570.7 1767.9H546.7M570.7 1855.4H558.8M570.7 1941.2H546.7M588.2 1961.7H814.9M588.2 1961.7V1972.2M643 1961.7V1986.1M700.3 1961.7V1972.2M757.9 1961.7V1986.1M814.9 1961.7V1972.2" stroke="#2c2c2c" stroke-width="1.05" fill="none"/>
<text x="541.3" y="1768.7" font-size="16" text-anchor="middle" textLength="62.7" lengthAdjust="spacingAndGlyphs" transform="rotate(-90 541.3 1768.7)">28.46025</text>
<text x="541.3" y="1934.3" font-size="16" text-anchor="middle" textLength="62.7" lengthAdjust="spacingAndGlyphs" transform="rotate(-90 541.3 1934.3)">28.46015</text>
<text x="509.9" y="1839.9" font-size="18.7" text-anchor="middle" textLength="95" lengthAdjust="spacingAndGlyphs" transform="rotate(-90 509.9 1839.9)">Latitude (N)</text>
<text x="635.8" y="2004.1" font-size="14.8" text-anchor="middle" textLength="60.1" lengthAdjust="spacingAndGlyphs">-17.8523</text>
<text x="751.5" y="2004.1" font-size="14.8" text-anchor="middle" textLength="60.1" lengthAdjust="spacingAndGlyphs">-17.8522</text>
<text x="704.2" y="2029" font-size="17.7" text-anchor="middle" textLength="114.8" lengthAdjust="spacingAndGlyphs">Longitude (W)</text>
<path d="M602.58 1689.81L606.42 1702.39L618.85 1702.39L608.80 1710.17L612.64 1722.75L602.58 1714.98L592.53 1722.75L596.37 1710.17L586.32 1702.39L598.74 1702.39Z" fill="#fff" stroke="#000" stroke-width="2.9" stroke-linejoin="miter" stroke-miterlimit="6"/>
<g clip-path="url(#cD1)"><g opacity=".999">
<rect x="1028" y="1287" width="271" height="163" fill="#dcff2d"/>
<path fill="#c4ff43" d="M1280 1304.5L1249 1304.5L1244.5 1303.5L1243.5 1304.5L1227 1305.5L1223 1309L1211.5 1310L1209 1313.5L1191.5 1317.5L1188 1322L1176.5 1325L1173.5 1328.5L1154.5 1331L1153 1334L1151 1335.5L1131.5 1340L1129.5 1343.5L1120 1347.5L1117.5 1352.5L1101 1353L1098.5 1361L1080 1362L1077 1367L1063.5 1370L1059 1374.5L1036.5 1383L1028 1384L1028 1402.5L1035 1407L1035 1414.5L1042.5 1419.5L1042.5 1428L1050 1433L1050 1441.5L1057 1445L1057 1450L1063 1450L1092 1433.5L1093 1427.5L1143.5 1398L1145.5 1393L1203 1359.5L1204 1354L1254.5 1324.5L1255.5 1319.5Z"/>
<path fill="#acff58" d="M1242.5 1331.5L1237 1331L1227 1333.5L1212.5 1334L1193 1337.5L1154.5 1351L1137 1360.5L1127 1364.5L1119.5 1363L1114 1360.5L1110.5 1357.5L1108 1353L1101 1353L1098.5 1361L1080 1362L1077 1367L1063.5 1370L1059 1374.5L1036.5 1383L1028 1384L1028 1402.5L1035 1407L1035 1414.5L1042.5 1419.5L1042.5 1428L1050 1433L1050 1441.5L1057 1445L1057 1450L1063 1450L1092 1433.5L1093 1427.5L1143.5 1398L1145.5 1393L1203 1359.5L1204 1354Z"/>
<path fill="#95ff6d" d="M1203 1359L1194.5 1357.5L1172.5 1358.5L1166 1360.5L1140.5 1372.5L1120.5 1379L1113 1379L1105.5 1376L1098.5 1369.5L1093.5 1361.5L1080 1362L1077 1367L1063.5 1370L1059 1374.5L1036.5 1383L1028 1384L1028 1402.5L1035 1407L1035 1414.5L1042.5 1419.5L1042.5 1428L1050 1433L1050 1441.5L1057 1445L1057 1450L1063 1450L1092 1433.5L1093 1427.5L1143.5 1398L1145.5 1393Z"/>
<path fill="#7fff83" d="M1159.5 1385L1137.5 1385.5L1132 1387L1118 1394L1112.5 1395L1100.5 1395L1091.5 1386L1085 1374L1078.5 1365.5L1077 1367L1063.5 1370L1059 1374.5L1036.5 1383L1028 1384L1028 1402.5L1035 1407L1035 1414.5L1042.5 1419.5L1042.5 1428L1050 1433L1050 1441.5L1057 1445L1057 1450L1063 1450L1092 1433.5L1093 1427.5L1143.5 1398L1145.5 1393Z"/>
<path fill="#68ff98" d="M1061 1372.5L1059 1374.5L1036.5 1383L1028 1384L1028 1402.5L1035 1407L1035 1414.5L1042.5 1419.5L1042.5 1428L1050 1433L1050 1441.5L1057 1445L1057 1450L1063 1450L1092 1433.5L1093 1427.5L1107 1419.5L1092 1417.5L1087 1415.5L1083.5 1412.5L1076 1399.5L1068 1380Z"/>
<path fill="#58ffa7" d="M1028 1384L1028 1402.5L1035 1407L1035 1414.5L1042.5 1419.5L1042.5 1428L1050 1433L1050 1441.5L1057 1445L1057 1450L1063 1450L1071 1445.5L1060.5 1428L1053 1403.5L1045 1386L1040.5 1381L1036.5 1383Z"/>
<path d="M1280 1304.5L1249 1304.5L1244.5 1303.5L1243.5 1304.5L1227 1305.5L1223 1309L1211.5 1310L1209 1313.5L1191.5 1317.5L1188 1322L1176.5 1325L1173.5 1328.5L1154.5 1331L1153 1334L1151 1335.5L1131.5 1340L1129.5 1343.5L1120 1347.5L1117.5 1352.5L1101 1353L1098.5 1361L1080 1362L1077 1367L1063.5 1370L1059 1374.5L1036.5 1383L1028 1384L1028 1402.5L1035 1407L1035 1414.5L1042.5 1419.5L1042.5 1428L1050 1433L1050 1441.5L1057 1445L1057 1450L1063 1450L1092 1433.5L1093 1427.5L1143.5 1398L1145.5 1393L1203 1359.5L1204 1354L1254.5 1324.5L1255.5 1319.5ZM1242.5 1331.5L1237 1331L1227 1333.5L1212.5 1334L1193 1337.5L1154.5 1351L1137 1360.5L1127 1364.5L1119.5 1363L1114 1360.5L1110.5 1357.5L1108 1353L1101 1353L1098.5 1361L1080 1362L1077 1367L1063.5 1370L1059 1374.5L1036.5 1383L1028 1384L1028 1402.5L1035 1407L1035 1414.5L1042.5 1419.5L1042.5 1428L1050 1433L1050 1441.5L1057 1445L1057 1450L1063 1450L1092 1433.5L1093 1427.5L1143.5 1398L1145.5 1393L1203 1359.5L1204 1354ZM1203 1359L1194.5 1357.5L1172.5 1358.5L1166 1360.5L1140.5 1372.5L1120.5 1379L1113 1379L1105.5 1376L1098.5 1369.5L1093.5 1361.5L1080 1362L1077 1367L1063.5 1370L1059 1374.5L1036.5 1383L1028 1384L1028 1402.5L1035 1407L1035 1414.5L1042.5 1419.5L1042.5 1428L1050 1433L1050 1441.5L1057 1445L1057 1450L1063 1450L1092 1433.5L1093 1427.5L1143.5 1398L1145.5 1393ZM1159.5 1385L1137.5 1385.5L1132 1387L1118 1394L1112.5 1395L1100.5 1395L1091.5 1386L1085 1374L1078.5 1365.5L1077 1367L1063.5 1370L1059 1374.5L1036.5 1383L1028 1384L1028 1402.5L1035 1407L1035 1414.5L1042.5 1419.5L1042.5 1428L1050 1433L1050 1441.5L1057 1445L1057 1450L1063 1450L1092 1433.5L1093 1427.5L1143.5 1398L1145.5 1393ZM1061 1372.5L1059 1374.5L1036.5 1383L1028 1384L1028 1402.5L1035 1407L1035 1414.5L1042.5 1419.5L1042.5 1428L1050 1433L1050 1441.5L1057 1445L1057 1450L1063 1450L1092 1433.5L1093 1427.5L1107 1419.5L1092 1417.5L1087 1415.5L1083.5 1412.5L1076 1399.5L1068 1380ZM1028 1384L1028 1402.5L1035 1407L1035 1414.5L1042.5 1419.5L1042.5 1428L1050 1433L1050 1441.5L1057 1445L1057 1450L1063 1450L1071 1445.5L1060.5 1428L1053 1403.5L1045 1386L1040.5 1381L1036.5 1383Z" fill="none" stroke="#202800" stroke-opacity=".16" stroke-width=".7"/>
</g></g>
<path d="M1022.5 1231V1481.3M1022.5 1231H1011.1M1022.5 1272.8H999.2M1022.5 1314H1011.1M1022.5 1356.1H999.2M1022.5 1396.3H1011.1M1022.5 1439.2H999.2M1022.5 1481.3H1011.1M1089.2 1504.2H1298.8M1089.2 1504.2V1515.3M1159.2 1504.2V1528.3M1229 1504.2V1515.3M1298.8 1504.2V1528.3" stroke="#2c2c2c" stroke-width="1.05" fill="none"/>
<text x="993.8" y="1270.3" font-size="16" text-anchor="middle" textLength="62.7" lengthAdjust="spacingAndGlyphs" transform="rotate(-90 993.8 1270.3)">28.46000</text>
<text x="993.8" y="1357.5" font-size="16" text-anchor="middle" textLength="62.7" lengthAdjust="spacingAndGlyphs" transform="rotate(-90 993.8 1357.5)">28.45996</text>
<text x="993.8" y="1436.4" font-size="16" text-anchor="middle" textLength="62.7" lengthAdjust="spacingAndGlyphs" transform="rotate(-90 993.8 1436.4)">28.45992</text>
<text x="963.3" y="1347.8" font-size="18.7" text-anchor="middle" textLength="95" lengthAdjust="spacingAndGlyphs" transform="rotate(-90 963.3 1347.8)">Latitude (N)</text>
<text x="1159" y="1547.7" font-size="14.8" text-anchor="middle" textLength="68.6" lengthAdjust="spacingAndGlyphs">-17.85145</text>
<text x="1285.2" y="1547.7" font-size="14.8" text-anchor="middle" textLength="68.6" lengthAdjust="spacingAndGlyphs">-17.85135</text>
<text x="1195.8" y="1572.1" font-size="17.7" text-anchor="middle" textLength="114.8" lengthAdjust="spacingAndGlyphs">Longitude (W)</text>
<path d="M1044.34 1356.92L1048.18 1369.50L1060.61 1369.51L1050.56 1377.28L1054.40 1389.87L1044.34 1382.09L1034.29 1389.87L1038.13 1377.28L1028.08 1369.51L1040.50 1369.50Z" fill="#fff" stroke="#000" stroke-width="2.9" stroke-linejoin="miter" stroke-miterlimit="6"/>
<g clip-path="url(#cD2)"><g opacity=".999">
<rect x="1034" y="1726" width="278" height="160" fill="#95ff6d"/>
<path fill="#7fff83" d="M1267.5 1737L1233.5 1746.5L1213.5 1755L1166.5 1772L1148.5 1780L1122 1789L1085.5 1810L1034 1844L1034 1851L1070.5 1870.5L1086.5 1875.5L1098 1886L1114.5 1886L1128 1881L1144 1877L1162 1874L1180 1865L1194 1860.5L1194.5 1856.5L1209.5 1856.5L1217.5 1850.5L1232 1843.5L1232.5 1839.5L1238 1835.5L1238 1828L1245 1824.5L1245.5 1820.5L1246.5 1819.5L1253.5 1816.5L1253.5 1811L1257.5 1808.5L1257 1801.5L1259 1791L1260 1777L1267.5 1742.5Z"/>
<path fill="#68ff98" d="M1185.5 1766.5L1184 1765.5L1148.5 1780L1122 1789L1088 1809L1088.5 1812.5L1085 1822L1081.5 1828.5L1076.5 1835L1062 1866L1070.5 1870.5L1086.5 1875.5L1098 1886L1114.5 1886L1128 1881L1144 1877L1162 1874L1180 1865L1193 1861L1191.5 1854.5L1181.5 1837L1179.5 1831.5L1172 1817.5L1173.5 1807.5L1187 1771L1187 1769Z"/>
<path fill="#58ffa7" d="M1119 1840L1110.5 1838L1109 1838.5L1106.5 1845L1100 1854.5L1090.5 1872.5L1091 1879.5L1098 1886L1114.5 1886L1123 1883L1123 1878.5L1129.5 1878L1137.5 1873L1132.5 1857L1129 1849.5L1122 1841.5Z"/>
<path d="M1267.5 1737L1233.5 1746.5L1213.5 1755L1166.5 1772L1148.5 1780L1122 1789L1085.5 1810L1034 1844L1034 1851L1070.5 1870.5L1086.5 1875.5L1098 1886L1114.5 1886L1128 1881L1144 1877L1162 1874L1180 1865L1194 1860.5L1194.5 1856.5L1209.5 1856.5L1217.5 1850.5L1232 1843.5L1232.5 1839.5L1238 1835.5L1238 1828L1245 1824.5L1245.5 1820.5L1246.5 1819.5L1253.5 1816.5L1253.5 1811L1257.5 1808.5L1257 1801.5L1259 1791L1260 1777L1267.5 1742.5ZM1185.5 1766.5L1184 1765.5L1148.5 1780L1122 1789L1088 1809L1088.5 1812.5L1085 1822L1081.5 1828.5L1076.5 1835L1062 1866L1070.5 1870.5L1086.5 1875.5L1098 1886L1114.5 1886L1128 1881L1144 1877L1162 1874L1180 1865L1193 1861L1191.5 1854.5L1181.5 1837L1179.5 1831.5L1172 1817.5L1173.5 1807.5L1187 1771L1187 1769ZM1119 1840L1110.5 1838L1109 1838.5L1106.5 1845L1100 1854.5L1090.5 1872.5L1091 1879.5L1098 1886L1114.5 1886L1123 1883L1123 1878.5L1129.5 1878L1137.5 1873L1132.5 1857L1129 1849.5L1122 1841.5Z" fill="none" stroke="#202800" stroke-opacity=".16" stroke-width=".7"/>
</g></g>
<path d="M1029.7 1712.5V1908M1029.7 1712.5H1005.6M1029.7 1762.6H1017.2M1029.7 1811.7H1005.6M1029.7 1860.7H1017.2M1029.7 1908H1005.6M1054.6 1944H1301.8M1054.6 1944V1956.5M1137.6 1944V1968.1M1219.6 1944V1956.5M1301.8 1944V1968.1" stroke="#2c2c2c" stroke-width="1.05" fill="none"/>
<text x="999.6" y="1710.6" font-size="16" text-anchor="middle" textLength="62.7" lengthAdjust="spacingAndGlyphs" transform="rotate(-90 999.6 1710.6)">28.46000</text>
<text x="999.6" y="1813.6" font-size="16" text-anchor="middle" textLength="62.7" lengthAdjust="spacingAndGlyphs" transform="rotate(-90 999.6 1813.6)">28.45996</text>
<text x="999.6" y="1909.1" font-size="16" text-anchor="middle" textLength="62.7" lengthAdjust="spacingAndGlyphs" transform="rotate(-90 999.6 1909.1)">28.45992</text>
<text x="970.2" y="1803.3" font-size="18.7" text-anchor="middle" textLength="95" lengthAdjust="spacingAndGlyphs" transform="rotate(-90 970.2 1803.3)">Latitude (N)</text>
<text x="1138.5" y="1988.3" font-size="14.8" text-anchor="middle" textLength="68.6" lengthAdjust="spacingAndGlyphs">-17.85145</text>
<text x="1289.9" y="1988.3" font-size="14.8" text-anchor="middle" textLength="68.6" lengthAdjust="spacingAndGlyphs">-17.85135</text>
<text x="1185.5" y="2012.4" font-size="17.7" text-anchor="middle" textLength="114.8" lengthAdjust="spacingAndGlyphs">Longitude (W)</text>
<path d="M1040.19 1806.09L1044.03 1818.67L1056.45 1818.67L1046.40 1826.45L1050.24 1839.04L1040.19 1831.26L1030.14 1839.04L1033.98 1826.45L1023.93 1818.67L1036.35 1818.67Z" fill="#fff" stroke="#000" stroke-width="2.9" stroke-linejoin="miter" stroke-miterlimit="6"/>
<text x="314.4" y="71" font-size="30.5" text-anchor="start" textLength="36.1" lengthAdjust="spacingAndGlyphs" fill="#000">(a)</text>
<text x="363" y="71" font-size="28.3" text-anchor="start" font-weight="bold" textLength="218" lengthAdjust="spacingAndGlyphs" fill="#000">PLAYA DEL FARO</text>
<text x="987.6" y="70.3" font-size="30.5" text-anchor="start" textLength="38.8" lengthAdjust="spacingAndGlyphs" fill="#000">(b)</text>
<text x="1041" y="70.3" font-size="28.3" text-anchor="start" font-weight="bold" textLength="198.3" lengthAdjust="spacingAndGlyphs" fill="#000">LOS PORRETOS</text>
<text x="277.9" y="1132.4" font-size="30.5" text-anchor="start" textLength="35.1" lengthAdjust="spacingAndGlyphs" fill="#000">(c)</text>
<text x="322" y="1132.4" font-size="28.3" text-anchor="start" font-weight="bold" textLength="292.5" lengthAdjust="spacingAndGlyphs" fill="#000">ECHENTIVE LAGOON 1</text>
<text x="975.4" y="1132" font-size="30.5" text-anchor="start" textLength="38.9" lengthAdjust="spacingAndGlyphs" fill="#000">(d)</text>
<text x="1023.8" y="1132" font-size="28.3" text-anchor="start" font-weight="bold" textLength="292.4" lengthAdjust="spacingAndGlyphs" fill="#000">ECHENTIVE LAGOON 2</text>
<text x="135" y="134.2" font-size="28.3" text-anchor="start" font-weight="bold" textLength="209" lengthAdjust="spacingAndGlyphs" fill="#000">March 2018 - LT</text>
<text x="543.4" y="134.2" font-size="28.3" text-anchor="start" font-weight="bold" textLength="255.6" lengthAdjust="spacingAndGlyphs" fill="#000">December 2018 - LT</text>
<text x="1028.2" y="134" font-size="28.3" text-anchor="start" font-weight="bold" textLength="209.9" lengthAdjust="spacingAndGlyphs" fill="#000">March 2018 - LT</text>
<text x="142.5" y="623.6" font-size="28.3" text-anchor="start" font-weight="bold" textLength="191.9" lengthAdjust="spacingAndGlyphs" fill="#000">June 2019  - LT</text>
<text x="559.4" y="618.6" font-size="28.3" text-anchor="start" font-weight="bold" textLength="265.5" lengthAdjust="spacingAndGlyphs" fill="#000">December 2018 - HT</text>
<text x="1014" y="618.6" font-size="28.3" text-anchor="start" font-weight="bold" textLength="258.8" lengthAdjust="spacingAndGlyphs" fill="#000">December 2018 - LT</text>
<text x="139" y="1198.7" font-size="28.3" text-anchor="start" font-weight="bold" textLength="208.5" lengthAdjust="spacingAndGlyphs" fill="#000">March 2018 - LT</text>
<text x="570" y="1198.7" font-size="28.3" text-anchor="start" font-weight="bold" textLength="256.5" lengthAdjust="spacingAndGlyphs" fill="#000">December 2018 - LT</text>
<text x="1021.3" y="1198.2" font-size="28.3" text-anchor="start" font-weight="bold" textLength="259.5" lengthAdjust="spacingAndGlyphs" fill="#000">December 2018 - LT</text>
<text x="142.5" y="1661.2" font-size="28.3" text-anchor="start" font-weight="bold" textLength="184.9" lengthAdjust="spacingAndGlyphs" fill="#000">June 2019 - LT</text>
<text x="567.4" y="1641.6" font-size="28.3" text-anchor="start" font-weight="bold" textLength="263.7" lengthAdjust="spacingAndGlyphs" fill="#000">December 2018 - HT</text>
<text x="1035.8" y="1641.6" font-size="28.3" text-anchor="start" font-weight="bold" textLength="263.7" lengthAdjust="spacingAndGlyphs" fill="#000">December 2018 - HT</text>
<text x="1450" y="831.1" font-size="16.4" text-anchor="start" textLength="23.2" lengthAdjust="spacingAndGlyphs" fill="#111">8.0</text>
<text x="1450" y="971.3" font-size="16.4" text-anchor="start" textLength="23.2" lengthAdjust="spacingAndGlyphs" fill="#111">7.8</text>
<text x="1450" y="1111.5" font-size="16.4" text-anchor="start" textLength="23.2" lengthAdjust="spacingAndGlyphs" fill="#111">7.6</text>
<text x="1450" y="1251.7" font-size="16.4" text-anchor="start" textLength="23.2" lengthAdjust="spacingAndGlyphs" fill="#111">7.4</text>
<text x="1450" y="1391.9" font-size="16.4" text-anchor="start" textLength="23.2" lengthAdjust="spacingAndGlyphs" fill="#111">7.2</text>
<rect x="1387.4" y="754.7" width="42.4" height="14.3" fill="#051a80"/>
<rect x="1387.4" y="768.7" width="42.4" height="14.3" fill="#061e90"/>
<rect x="1387.4" y="782.7" width="42.4" height="14.3" fill="#0822a0"/>
<rect x="1387.4" y="796.8" width="42.4" height="14.3" fill="#0a26b2"/>
<rect x="1387.4" y="810.8" width="42.4" height="14.3" fill="#0b2ac4"/>
<rect x="1387.4" y="824.8" width="42.4" height="14.3" fill="#0b2dde"/>
<rect x="1387.4" y="838.8" width="42.4" height="14.3" fill="#0a30ff"/>
<rect x="1387.4" y="852.8" width="42.4" height="14.3" fill="#0d35ff"/>
<rect x="1387.4" y="866.9" width="42.4" height="14.3" fill="#113bff"/>
<rect x="1387.4" y="880.9" width="42.4" height="14.3" fill="#1440ff"/>
<rect x="1387.4" y="894.9" width="42.4" height="14.3" fill="#0050ff"/>
<rect x="1387.4" y="908.9" width="42.4" height="14.3" fill="#0264ff"/>
<rect x="1387.4" y="922.9" width="42.4" height="14.3" fill="#0478ff"/>
<rect x="1387.4" y="937" width="42.4" height="14.3" fill="#068cff"/>
<rect x="1387.4" y="951" width="42.4" height="14.3" fill="#08a0ff"/>
<rect x="1387.4" y="965" width="42.4" height="14.3" fill="#08b6ff"/>
<rect x="1387.4" y="979" width="42.4" height="14.3" fill="#08ccff"/>
<rect x="1387.4" y="993" width="42.4" height="14.3" fill="#08e2ff"/>
<rect x="1387.4" y="1007.1" width="42.4" height="14.3" fill="#08f8ff"/>
<rect x="1387.4" y="1021.1" width="42.4" height="14.3" fill="#18faeb"/>
<rect x="1387.4" y="1035.1" width="42.4" height="14.3" fill="#28fdd8"/>
<rect x="1387.4" y="1049.1" width="42.4" height="14.3" fill="#38ffc4"/>
<rect x="1387.4" y="1063.1" width="42.4" height="14.3" fill="#48ffb5"/>
<rect x="1387.4" y="1077.2" width="42.4" height="14.3" fill="#58ffa7"/>
<rect x="1387.4" y="1091.2" width="42.4" height="14.3" fill="#68ff98"/>
<rect x="1387.4" y="1105.2" width="42.4" height="14.3" fill="#7fff83"/>
<rect x="1387.4" y="1119.2" width="42.4" height="14.3" fill="#95ff6d"/>
<rect x="1387.4" y="1133.2" width="42.4" height="14.3" fill="#acff58"/>
<rect x="1387.4" y="1147.3" width="42.4" height="14.3" fill="#c4ff43"/>
<rect x="1387.4" y="1161.3" width="42.4" height="14.3" fill="#dcff2d"/>
<rect x="1387.4" y="1175.3" width="42.4" height="14.3" fill="#f4ff18"/>
<rect x="1387.4" y="1189.3" width="42.4" height="14.3" fill="#fff800"/>
<rect x="1387.4" y="1203.3" width="42.4" height="14.3" fill="#ffe400"/>
<rect x="1387.4" y="1217.4" width="42.4" height="14.3" fill="#ffd000"/>
<rect x="1387.4" y="1231.4" width="42.4" height="14.3" fill="#ffbc00"/>
<rect x="1387.4" y="1245.4" width="42.4" height="14.3" fill="#ffa800"/>
<rect x="1387.4" y="1259.4" width="42.4" height="14.3" fill="#ff9400"/>
<rect x="1387.4" y="1273.4" width="42.4" height="14.3" fill="#ff8000"/>
<rect x="1387.4" y="1287.5" width="42.4" height="14.3" fill="#ff6c00"/>
<rect x="1387.4" y="1301.5" width="42.4" height="14.3" fill="#ff5800"/>
<rect x="1387.4" y="1315.5" width="42.4" height="14.3" fill="#ff4208"/>
<rect x="1387.4" y="1329.5" width="42.4" height="14.3" fill="#ff2c10"/>
<rect x="1387.4" y="1343.5" width="42.4" height="14.3" fill="#ff2a0c"/>
<rect x="1387.4" y="1357.6" width="42.4" height="14.3" fill="#ff2808"/>
<rect x="1387.4" y="1371.6" width="42.4" height="14.3" fill="#e7240c"/>
<rect x="1387.4" y="1385.6" width="42.4" height="14.3" fill="#d02010"/>
<rect x="1387.4" y="1399.6" width="42.4" height="14.3" fill="#b81a08"/>
<rect x="1387.4" y="1413.6" width="42.4" height="14.3" fill="#a01400"/>
<rect x="1387.4" y="1427.7" width="42.4" height="14.3" fill="#901403"/>
<rect x="1387.4" y="1441.7" width="42.4" height="14.3" fill="#801406"/>
<path d="M1387.4 768.7H1429.8M1387.4 782.7H1429.8M1387.4 796.8H1429.8M1387.4 810.8H1429.8M1387.4 824.8H1429.8M1387.4 838.8H1429.8M1387.4 852.8H1429.8M1387.4 866.9H1429.8M1387.4 880.9H1429.8M1387.4 894.9H1429.8M1387.4 908.9H1429.8M1387.4 922.9H1429.8M1387.4 937H1429.8M1387.4 951H1429.8M1387.4 965H1429.8M1387.4 979H1429.8M1387.4 993H1429.8M1387.4 1007.1H1429.8M1387.4 1021.1H1429.8M1387.4 1035.1H1429.8M1387.4 1049.1H1429.8M1387.4 1063.1H1429.8M1387.4 1077.2H1429.8M1387.4 1091.2H1429.8M1387.4 1105.2H1429.8M1387.4 1119.2H1429.8M1387.4 1133.2H1429.8M1387.4 1147.3H1429.8M1387.4 1161.3H1429.8M1387.4 1175.3H1429.8M1387.4 1189.3H1429.8M1387.4 1203.3H1429.8M1387.4 1217.4H1429.8M1387.4 1231.4H1429.8M1387.4 1245.4H1429.8M1387.4 1259.4H1429.8M1387.4 1273.4H1429.8M1387.4 1287.5H1429.8M1387.4 1301.5H1429.8M1387.4 1315.5H1429.8M1387.4 1329.5H1429.8M1387.4 1343.5H1429.8M1387.4 1357.6H1429.8M1387.4 1371.6H1429.8M1387.4 1385.6H1429.8M1387.4 1399.6H1429.8M1387.4 1413.6H1429.8M1387.4 1427.7H1429.8M1387.4 1441.7H1429.8" stroke="#000814" stroke-opacity="0.9" stroke-width="0.9" fill="none"/>
<rect x="1387.4" y="754.7" width="42.4" height="701" fill="none" stroke="#1a2030" stroke-opacity="0.6" stroke-width="0.8"/>
<path d="M1429.8 824.8H1440M1429.8 965H1440M1429.8 1105.2H1440M1429.8 1245.4H1440M1429.8 1385.6H1440" stroke="#555" stroke-width="1" fill="none"/>
<text x="1408.6" y="718.3" font-size="14.4" text-anchor="middle" font-weight="bold" textLength="21.8" lengthAdjust="spacingAndGlyphs" fill="#111">pH</text>
<rect x="14.4" y="14.4" width="1487.1" height="2048.9" fill="none" stroke="#000" stroke-width="3.1"/>
<path d="M901.1 16V2062" stroke="#000" stroke-width="2.2" stroke-dasharray="17.3 6.48" stroke-dashoffset="2.08" fill="none"/>
<path d="M16 1071H1375.2" stroke="#000" stroke-width="2.2" stroke-dasharray="17.4 6.38" stroke-dashoffset="1.98" fill="none"/>
</svg>
</body></html>
